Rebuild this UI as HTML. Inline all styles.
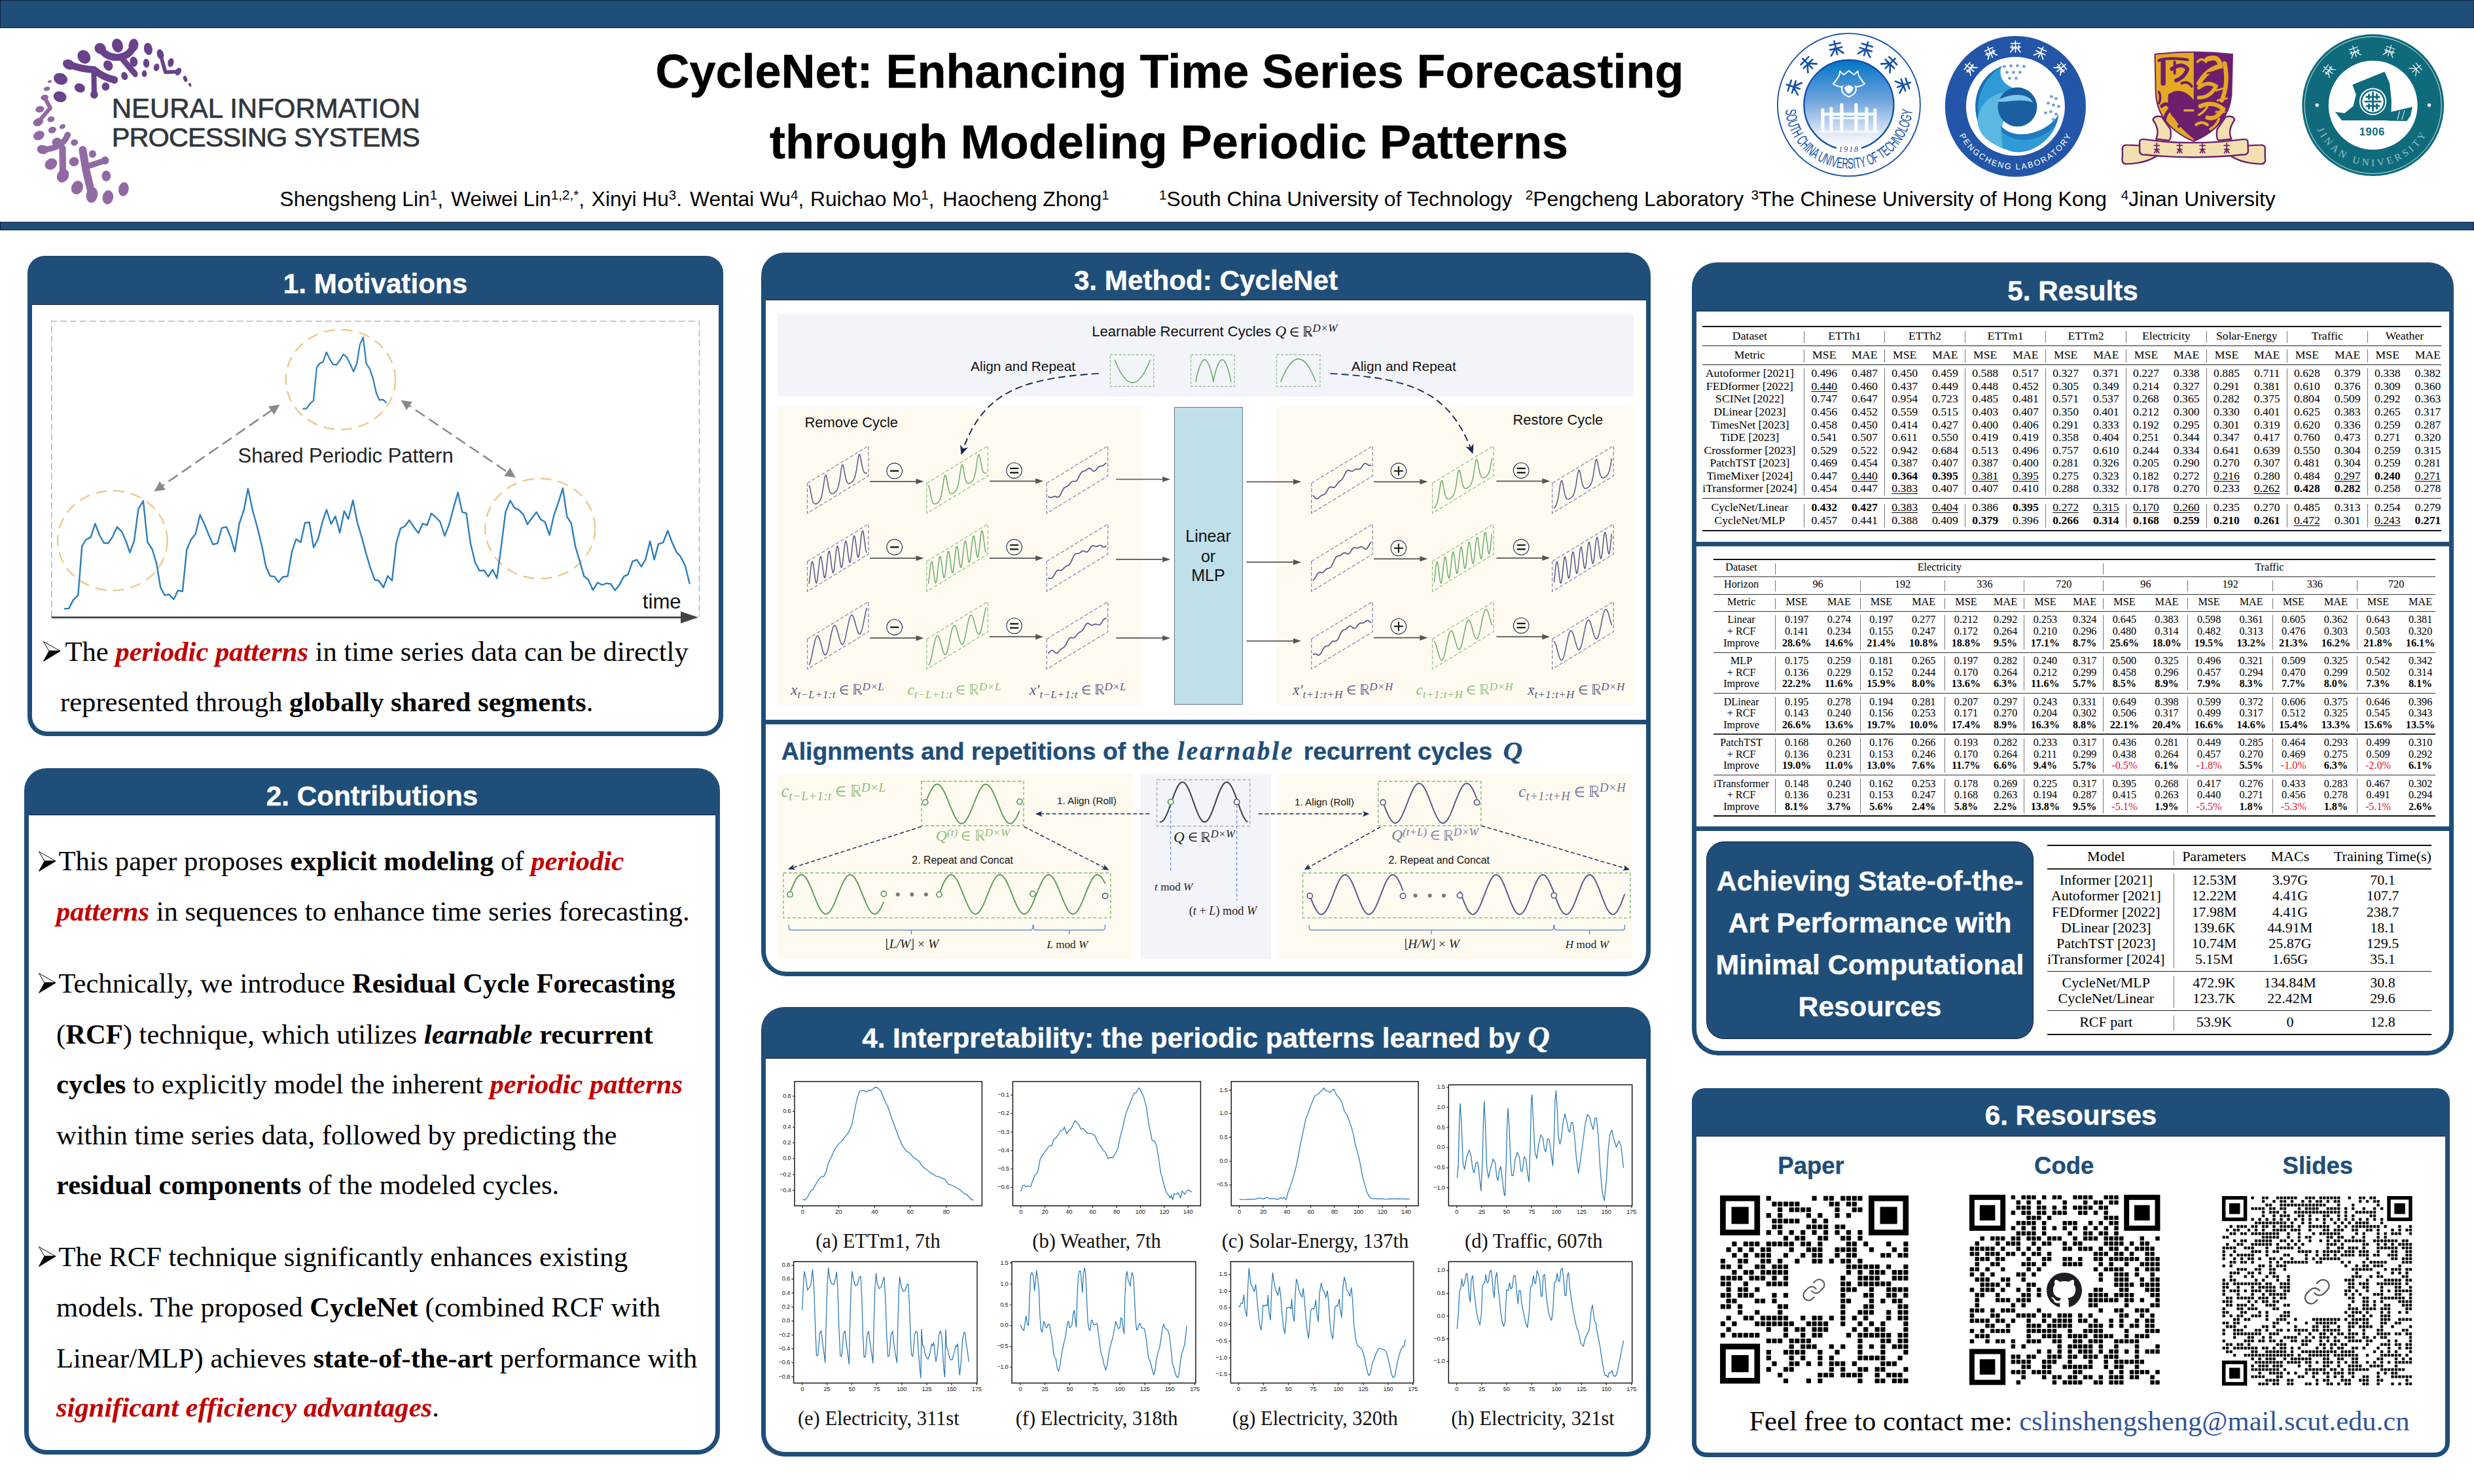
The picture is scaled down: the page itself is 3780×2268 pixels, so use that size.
<!DOCTYPE html>
<html><head><meta charset="utf-8"><title>CycleNet Poster</title>
<style>
html,body{margin:0;padding:0;background:#fff;}
body{width:3780px;height:2268px;position:relative;overflow:hidden;font-family:"Liberation Sans",sans-serif;}
.a{position:absolute;}
.t{position:absolute;white-space:nowrap;line-height:1;}
.ss{font-family:"Liberation Sans",sans-serif;}
.sf{font-family:"Liberation Serif",serif;}
.ac{transform:translateX(-50%);}
.ar{transform:translateX(-100%);}
.r{color:#C00000;}
svg{position:absolute;overflow:visible;}
sup.s{font-size:65%;vertical-align:baseline;position:relative;top:-0.50em;line-height:0}
.col{position:absolute;white-space:nowrap;text-align:center;transform:translateX(-50%);font-family:"Liberation Serif",serif;}
.m{font-family:"Liberation Serif",serif;font-style:italic;line-height:0}
.m sub{font-size:72%;vertical-align:baseline;position:relative;top:.28em;letter-spacing:.02em}
.m sup{font-size:72%;vertical-align:baseline;position:relative;top:-.42em;}
.ob{position:relative;display:inline-block;line-height:1}.ob:before{content:'';position:absolute;left:.12em;right:0;top:.33em;border-top:1.2px solid currentColor}
svg.g{position:static;display:inline-block;overflow:visible;}
.u{text-decoration:underline;text-decoration-thickness:1px;text-underline-offset:2px;}
</style></head>
<body>
<div class="a" style="left:0;top:0;width:3780px;height:43px;background:#1F4E79;box-sizing:border-box;border:1.5px solid #14213f;"></div>
<div class="a" style="left:0;top:339px;width:3780px;height:13px;background:#1F4E79;box-sizing:border-box;border:1.5px solid #14213f;"></div>
<div class="t ss ac" style="left:1787.0px;top:73.0px;font-size:72px;color:#000;font-weight:bold;-webkit-text-stroke:.5px #000;">CycleNet: Enhancing Time Series Forecasting</div>
<div class="t ss ac" style="left:1786.0px;top:180.7px;font-size:72px;color:#000;font-weight:bold;-webkit-text-stroke:.5px #000;">through Modeling Periodic Patterns</div>
<div class="t ss" style="left:427.6px;top:289.2px;font-size:31.7px;color:#000;">Shengsheng Lin<sup class="s">1</sup>,</div>
<div class="t ss" style="left:689.2px;top:289.2px;font-size:31.7px;color:#000;">Weiwei Lin<sup class="s">1,2,*</sup>,</div>
<div class="t ss" style="left:903.8px;top:289.2px;font-size:31.7px;color:#000;">Xinyi Hu<sup class="s">3</sup>.</div>
<div class="t ss" style="left:1054.1px;top:289.2px;font-size:31.7px;color:#000;">Wentai Wu<sup class="s">4</sup>,</div>
<div class="t ss" style="left:1238.1px;top:289.2px;font-size:31.7px;color:#000;">Ruichao Mo<sup class="s">1</sup>,</div>
<div class="t ss" style="left:1440.1px;top:289.2px;font-size:31.7px;color:#000;">Haocheng Zhong<sup class="s">1</sup></div>
<div class="t ss" style="left:1771.0px;top:289.1px;font-size:31.8px;color:#000;"><sup class="s">1</sup>South China University of Technology</div>
<div class="t ss" style="left:2330.8px;top:289.1px;font-size:31.8px;color:#000;"><sup class="s">2</sup>Pengcheng Laboratory</div>
<div class="t ss" style="left:2675.4px;top:289.1px;font-size:31.8px;color:#000;"><sup class="s">3</sup>The Chinese University of Hong Kong</div>
<div class="t ss" style="left:3240.8px;top:289.1px;font-size:31.8px;color:#000;"><sup class="s">4</sup>Jinan University</div>
<div class="a" style="left:42px;top:391px;width:1063px;height:734px;background:#1F4E79;border-radius:26px 26px 30px 30px;"></div>
<div class="a" style="left:49px;top:464.5px;width:1049px;height:1.5px;background:#14213f;"></div>
<div class="a" style="left:49px;top:466px;width:1049px;height:652px;background:#fff;border-radius:0 0 23px 23px;"></div>
<div class="t ss ac" style="left:573.5px;top:412.6px;font-size:42.2px;color:#fff;font-weight:bold;-webkit-text-stroke:.45px #fff;">1. Motivations</div>
<div class="a" style="left:37px;top:1174px;width:1063px;height:1049px;background:#1F4E79;border-radius:34px 34px 34px 34px;"></div>
<div class="a" style="left:44px;top:1244.5px;width:1049px;height:1.5px;background:#14213f;"></div>
<div class="a" style="left:44px;top:1246px;width:1049px;height:970px;background:#fff;border-radius:0 0 27px 27px;"></div>
<div class="t ss ac" style="left:568.5px;top:1196.0px;font-size:42.2px;color:#fff;font-weight:bold;-webkit-text-stroke:.45px #fff;">2. Contributions</div>
<div class="a" style="left:1163px;top:385.5px;width:1359px;height:1106.5px;background:#1F4E79;border-radius:35px 35px 38px 38px;"></div>
<div class="a" style="left:1170px;top:457.5px;width:1345px;height:1.5px;background:#14213f;"></div>
<div class="a" style="left:1170px;top:459px;width:1345px;height:1026px;background:#fff;border-radius:0 0 31px 31px;"></div>
<div class="t ss ac" style="left:1842.5px;top:408.1px;font-size:42.2px;color:#fff;font-weight:bold;-webkit-text-stroke:.45px #fff;">3. Method: CycleNet</div>
<div class="a" style="left:1163px;top:1539px;width:1359px;height:687px;background:#1F4E79;border-radius:35px 35px 35px 35px;"></div>
<div class="a" style="left:1170px;top:1616.5px;width:1345px;height:1.5px;background:#14213f;"></div>
<div class="a" style="left:1170px;top:1618px;width:1345px;height:601px;background:#fff;border-radius:0 0 28px 28px;"></div>
<div class="t ss ac" style="left:1842.5px;top:1566.3px;font-size:42.2px;color:#fff;font-weight:bold;-webkit-text-stroke:.45px #fff;">4. Interpretability: the periodic patterns learned by <span class="sf" style="font-style:italic;font-size:46px;line-height:0">Q</span></div>
<div class="a" style="left:2585px;top:401px;width:1164px;height:1212.4px;background:#1F4E79;border-radius:38px 38px 40px 40px;"></div>
<div class="a" style="left:2592px;top:474.5px;width:1150px;height:1.5px;background:#14213f;"></div>
<div class="a" style="left:2592px;top:476px;width:1150px;height:1130.4px;background:#fff;border-radius:0 0 33px 33px;"></div>
<div class="t ss ac" style="left:3167.0px;top:424.2px;font-size:42.2px;color:#fff;font-weight:bold;-webkit-text-stroke:.45px #fff;">5. Results</div>
<div class="a" style="left:2585px;top:1663px;width:1158px;height:564px;background:#1F4E79;border-radius:20px 20px 22px 22px;"></div>
<div class="a" style="left:2592px;top:1735.5px;width:1144px;height:1.5px;background:#14213f;"></div>
<div class="a" style="left:2592px;top:1737px;width:1144px;height:483px;background:#fff;border-radius:0 0 15px 15px;"></div>
<div class="t ss ac" style="left:3164.0px;top:1684.2px;font-size:42.2px;color:#fff;font-weight:bold;-webkit-text-stroke:.45px #fff;">6. Resourses</div>
<div class="a" style="left:1163px;top:1100px;width:1359px;height:7px;background:#1F4E79"></div>
<div class="a" style="left:2585px;top:828.1px;width:1164px;height:6.8px;background:#1F4E79"></div>
<div class="a" style="left:2585px;top:1263px;width:1164px;height:6.8px;background:#1F4E79"></div>
<svg width="27" height="31" viewBox="0 0 27 31" style="left:65.7px;top:980.4000000000001px"><path d="M0.5 0.5 L26 15 L9 15 Z" fill="#fff" stroke="#000" stroke-width="1"/><path d="M0.5 30.5 L26 15 L9 15 Z" fill="#000" stroke="#000" stroke-width="1"/></svg>
<div class="t sf" style="left:99.5px;top:975.0px;font-size:42.6px;">The <b><i class="r">periodic patterns</i></b> in time series data can be directly</div>
<div class="t sf" style="left:92.0px;top:1052.3px;font-size:42.6px;">represented through <b>globally shared segments</b>.</div>
<svg width="27" height="31" viewBox="0 0 27 31" style="left:58.7px;top:1300.7px"><path d="M0.5 0.5 L26 15 L9 15 Z" fill="#fff" stroke="#000" stroke-width="1"/><path d="M0.5 30.5 L26 15 L9 15 Z" fill="#000" stroke="#000" stroke-width="1"/></svg>
<div class="t sf" style="left:89.5px;top:1295.3px;font-size:42.6px;">This paper proposes <b>explicit modeling</b> of <b><i class="r">periodic</i></b></div>
<div class="t sf" style="left:86.0px;top:1371.7px;font-size:42.6px;"><b><i class="r">patterns</i></b> in sequences to enhance time series forecasting.</div>
<svg width="27" height="31" viewBox="0 0 27 31" style="left:58.7px;top:1487.4px"><path d="M0.5 0.5 L26 15 L9 15 Z" fill="#fff" stroke="#000" stroke-width="1"/><path d="M0.5 30.5 L26 15 L9 15 Z" fill="#000" stroke="#000" stroke-width="1"/></svg>
<div class="t sf" style="left:89.5px;top:1482.0px;font-size:42.6px;">Technically, we introduce <b>Residual Cycle Forecasting</b></div>
<div class="t sf" style="left:86.0px;top:1560.3px;font-size:42.6px;">(<b>RCF</b>) technique, which utilizes <b><i>learnable</i> recurrent</b></div>
<div class="t sf" style="left:86.0px;top:1636.3px;font-size:42.6px;"><b>cycles</b> to explicitly model the inherent <b><i class="r">periodic patterns</i></b></div>
<div class="t sf" style="left:86.0px;top:1713.8px;font-size:42.6px;">within time series data, followed by predicting the</div>
<div class="t sf" style="left:86.0px;top:1790.3px;font-size:42.6px;"><b>residual components</b> of the modeled cycles.</div>
<svg width="27" height="31" viewBox="0 0 27 31" style="left:58.7px;top:1905.4px"><path d="M0.5 0.5 L26 15 L9 15 Z" fill="#fff" stroke="#000" stroke-width="1"/><path d="M0.5 30.5 L26 15 L9 15 Z" fill="#000" stroke="#000" stroke-width="1"/></svg>
<div class="t sf" style="left:89.5px;top:1900.0px;font-size:42.6px;">The RCF technique significantly enhances existing</div>
<div class="t sf" style="left:86.0px;top:1977.3px;font-size:42.6px;">models. The proposed <b>CycleNet</b> (combined RCF with</div>
<div class="t sf" style="left:86.0px;top:2055.3px;font-size:42.6px;">Linear/MLP) achieves <b>state-of-the-art</b> performance with</div>
<div class="t sf" style="left:86.0px;top:2130.3px;font-size:42.6px;"><b><i class="r">significant efficiency advantages</i></b>.</div>
<svg width="300" height="290" viewBox="0 0 1535 1484" style="left:30px;top:40px"><g fill="#68428A" stroke="#68428A" stroke-linecap="round" stroke-linejoin="round"><ellipse cx="765" cy="152" rx="42" ry="55" transform="rotate(-15 765 152)" stroke="none"/><ellipse cx="890" cy="150" rx="38" ry="52" transform="rotate(10 890 150)" stroke="none"/><ellipse cx="1005" cy="178" rx="33" ry="48" transform="rotate(-10 1005 178)" stroke="none"/><ellipse cx="1100" cy="220" rx="26" ry="40" transform="rotate(-15 1100 220)" stroke="none"/><ellipse cx="1182" cy="285" rx="23" ry="35" transform="rotate(10 1182 285)" stroke="none"/><ellipse cx="1295" cy="412" rx="15" ry="25" transform="rotate(-20 1295 412)" stroke="none"/><ellipse cx="1332" cy="458" rx="10" ry="16" transform="rotate(-15 1332 458)" stroke="none"/><ellipse cx="1240" cy="355" rx="22" ry="32" transform="rotate(30 1240 355)" stroke="none"/><ellipse cx="892" cy="278" rx="30" ry="40" transform="rotate(-10 892 278)" stroke="none"/><ellipse cx="990" cy="290" rx="24" ry="35" transform="rotate(-5 990 290)" stroke="none"/><ellipse cx="1070" cy="322" rx="22" ry="30" transform="rotate(15 1070 322)" stroke="none"/><ellipse cx="975" cy="372" rx="20" ry="26" transform="rotate(0 975 372)" stroke="none"/><ellipse cx="820" cy="390" rx="25" ry="32" transform="rotate(-20 820 390)" stroke="none"/><ellipse cx="900" cy="370" rx="22" ry="30" transform="rotate(-20 900 370)" stroke="none"/><ellipse cx="692" cy="308" rx="35" ry="42" transform="rotate(-30 692 308)" stroke="none"/><ellipse cx="503" cy="240" rx="48" ry="56" transform="rotate(-35 503 240)" stroke="none"/><ellipse cx="630" cy="175" rx="45" ry="42" transform="rotate(30 630 175)" stroke="none"/><ellipse cx="385" cy="300" rx="50" ry="38" transform="rotate(25 385 300)" stroke="none"/><ellipse cx="320" cy="412" rx="55" ry="45" transform="rotate(20 320 412)" stroke="none"/><ellipse cx="315" cy="552" rx="52" ry="42" transform="rotate(15 315 552)" stroke="none"/><ellipse cx="470" cy="483" rx="42" ry="35" transform="rotate(20 470 483)" stroke="none"/><ellipse cx="672" cy="472" rx="30" ry="32" transform="rotate(0 672 472)" stroke="none"/><ellipse cx="583" cy="535" rx="30" ry="32" transform="rotate(0 583 535)" stroke="none"/><ellipse cx="740" cy="420" rx="28" ry="30" transform="rotate(0 740 420)" stroke="none"/><path d="M630 175Q690 260 790 240Q870 225 890 150" fill="none" stroke-width="55"/><path d="M790 240L892 362" fill="none" stroke-width="46"/><path d="M385 300Q500 340 580 340Q650 400 740 420" fill="none" stroke-width="55"/><path d="M580 340L583 535" fill="none" stroke-width="41"/><path d="M1100 220L1140 360L1240 355" fill="none" stroke-width="29"/></g><g fill="#916AA3" stroke="#916AA3" stroke-linecap="round" stroke-linejoin="round"><ellipse cx="235" cy="433" rx="16" ry="10" transform="rotate(-15 235 433)" stroke="none"/><ellipse cx="213" cy="490" rx="25" ry="16" transform="rotate(-15 213 490)" stroke="none"/><ellipse cx="195" cy="558" rx="30" ry="22" transform="rotate(-10 195 558)" stroke="none"/><ellipse cx="158" cy="650" rx="35" ry="25" transform="rotate(-15 158 650)" stroke="none"/><ellipse cx="145" cy="750" rx="42" ry="30" transform="rotate(-25 145 750)" stroke="none"/><ellipse cx="245" cy="728" rx="28" ry="22" transform="rotate(-15 245 728)" stroke="none"/><ellipse cx="335" cy="785" rx="24" ry="18" transform="rotate(-25 335 785)" stroke="none"/><ellipse cx="255" cy="812" rx="32" ry="25" transform="rotate(-20 255 812)" stroke="none"/><ellipse cx="150" cy="855" rx="45" ry="35" transform="rotate(-25 150 855)" stroke="none"/><ellipse cx="290" cy="905" rx="38" ry="32" transform="rotate(-25 290 905)" stroke="none"/><ellipse cx="375" cy="852" rx="25" ry="25" transform="rotate(0 375 852)" stroke="none"/><ellipse cx="428" cy="910" rx="28" ry="25" transform="rotate(-10 428 910)" stroke="none"/><ellipse cx="180" cy="965" rx="45" ry="35" transform="rotate(15 180 965)" stroke="none"/><ellipse cx="245" cy="1078" rx="50" ry="42" transform="rotate(-35 245 1078)" stroke="none"/><ellipse cx="425" cy="1060" rx="38" ry="36" transform="rotate(-20 425 1060)" stroke="none"/><ellipse cx="493" cy="968" rx="28" ry="30" transform="rotate(0 493 968)" stroke="none"/><ellipse cx="570" cy="1000" rx="28" ry="30" transform="rotate(0 570 1000)" stroke="none"/><ellipse cx="668" cy="1050" rx="30" ry="32" transform="rotate(0 668 1050)" stroke="none"/><ellipse cx="338" cy="1170" rx="45" ry="55" transform="rotate(30 338 1170)" stroke="none"/><ellipse cx="450" cy="1262" rx="45" ry="55" transform="rotate(25 450 1262)" stroke="none"/><ellipse cx="565" cy="1320" rx="45" ry="62" transform="rotate(10 565 1320)" stroke="none"/><ellipse cx="690" cy="1338" rx="42" ry="55" transform="rotate(10 690 1338)" stroke="none"/><ellipse cx="813" cy="1275" rx="40" ry="55" transform="rotate(10 813 1275)" stroke="none"/><ellipse cx="677" cy="1172" rx="35" ry="42" transform="rotate(0 677 1172)" stroke="none"/><path d="M195 558L240 640L145 750" fill="none" stroke-width="32"/><path d="M180 965Q330 960 375 852" fill="none" stroke-width="46"/><path d="M335 955L338 1170" fill="none" stroke-width="52"/><path d="M493 968L520 1130L565 1320" fill="none" stroke-width="61"/><path d="M520 1100L668 1050" fill="none" stroke-width="46"/></g></svg>
<div class="t ss" style="left:170.7px;top:145.2px;font-size:42px;color:#32363c;-webkit-text-stroke:.7px #32363c;">NEURAL INFORMATION</div>
<div class="t ss" style="left:170.7px;top:189.0px;font-size:41.5px;color:#32363c;letter-spacing:-.9px;-webkit-text-stroke:.7px #32363c;">PROCESSING SYSTEMS</div>
<svg width="3780" height="360" viewBox="0 0 3780 360" style="left:0;top:0"><defs><linearGradient id="sg" x1="0" y1="0" x2="0" y2="1"><stop offset="0" stop-color="#0074C8"/><stop offset=".45" stop-color="#6FA4DC"/><stop offset=".85" stop-color="#E8EEF9"/><stop offset="1" stop-color="#fff"/></linearGradient><path id="sp" d="M2727.4 160.2A97.5 97.5 0 0 0 2922.4 160.2"/></defs><circle cx="2824.9" cy="160.2" r="109" fill="#fff" stroke="#1450A8" stroke-width="1.8"/><circle cx="2824.9" cy="160.2" r="68.5" fill="url(#sg)" stroke="#1450A8" stroke-width="2.4"/><g transform="translate(2824.9 106.19999999999999)" fill="none" stroke="#fff" stroke-width="2"><path d="M-24 22Q-12 8 -14 2L-8 8L0 2L8 8L14 2Q12 8 24 22Q14 28 10 26Q14 36 0 42Q-14 36 -10 26Q-14 28 -24 22z"/><path d="M-6 28Q0 22 6 28Q4 34 0 36Q-4 34 -6 28z" fill="#fff"/></g><g fill="#fff" opacity=".95"><rect x="2782.3" y="170.2" width="5.2" height="32"/><circle cx="2784.9" cy="168.2" r="2.6"/><rect x="2795.3" y="168.2" width="5.2" height="34"/><circle cx="2797.9" cy="166.2" r="2.6"/><rect x="2811.3" y="162.2" width="5.2" height="40"/><circle cx="2813.9" cy="160.2" r="2.6"/><rect x="2833.3" y="162.2" width="5.2" height="40"/><circle cx="2835.9" cy="160.2" r="2.6"/><rect x="2849.3" y="168.2" width="5.2" height="34"/><circle cx="2851.9" cy="166.2" r="2.6"/><rect x="2862.3" y="170.2" width="5.2" height="32"/><circle cx="2864.9" cy="168.2" r="2.6"/><rect x="2782.9" y="172.2" width="84" height="4.5"/><rect x="2794.9" y="179.2" width="60" height="3"/><rect x="2778.9" y="200.2" width="92" height="2.5" opacity=".8"/></g><g transform="translate(2739.8 132.5) rotate(-72)" stroke="#1450A8" stroke-width="2.6" fill="none" stroke-linecap="round"><path d="M-8.4 -5.8H8.4M0 -10.5V10.5M-9.5 1.1H9.5M-1.1 1.1L-9.5 10.5M1.1 1.1L9.5 10.5"/></g><g transform="translate(2761.6 96.9) rotate(-45)" stroke="#1450A8" stroke-width="2.6" fill="none" stroke-linecap="round"><path d="M-8.4 -5.8H8.4M0 -10.5V10.5M-9.5 1.1H9.5M-1.1 1.1L-9.5 10.5M1.1 1.1L9.5 10.5"/></g><g transform="translate(2804.8 73.0) rotate(-13)" stroke="#1450A8" stroke-width="2.6" fill="none" stroke-linecap="round"><path d="M-8.4 -5.8H8.4M0 -10.5V10.5M-9.5 1.1H9.5M-1.1 1.1L-9.5 10.5M1.1 1.1L9.5 10.5"/></g><g transform="translate(2851.1 74.6) rotate(17)" stroke="#1450A8" stroke-width="2.6" fill="none" stroke-linecap="round"><path d="M-8.4 -5.8H8.4M0 -10.5V10.5M-9.5 1.1H9.5M-1.1 1.1L-9.5 10.5M1.1 1.1L9.5 10.5"/></g><g transform="translate(2888.2 96.9) rotate(45)" stroke="#1450A8" stroke-width="2.6" fill="none" stroke-linecap="round"><path d="M-8.4 -5.8H8.4M0 -10.5V10.5M-9.5 1.1H9.5M-1.1 1.1L-9.5 10.5M1.1 1.1L9.5 10.5"/></g><g transform="translate(2909.0 129.6) rotate(70)" stroke="#1450A8" stroke-width="2.6" fill="none" stroke-linecap="round"><path d="M-8.4 -5.8H8.4M0 -10.5V10.5M-9.5 1.1H9.5M-1.1 1.1L-9.5 10.5M1.1 1.1L9.5 10.5"/></g><text font-family="Liberation Sans,sans-serif" font-size="23" fill="#1450A8" textLength="290" lengthAdjust="spacingAndGlyphs"><textPath href="#sp" startOffset="8">SOUTH CHINA UNIVERSITY OF TECHNOLOGY</textPath></text><rect x="2805.9" y="220.2" width="38" height="13" fill="#fff"/><text x="2824.9" y="231.7" text-anchor="middle" font-family="Liberation Serif,serif" font-style="italic" font-size="12.5" fill="#1450A8" letter-spacing="1.6">1918</text></svg>
<svg width="3780" height="360" viewBox="0 0 3780 360" style="left:0;top:0"><defs><path id="pp" d="M2982.9 162.6A96.5 96.5 0 0 0 3175.9 162.6"/><clipPath id="pc"><circle cx="3079.4" cy="162.6" r="75"/></clipPath></defs><circle cx="3079.4" cy="162.6" r="107.6" fill="#2356A8"/><circle cx="3079.4" cy="162.6" r="75.5" fill="#fff"/><g clip-path="url(#pc)"><path d="M3059.4 100.6C3004.4 122.6 3004.4 202.6 3059.4 226.6C3024.4 182.6 3029.4 142.6 3059.4 100.6z" fill="#1C6FB5"/><path d="M3057.4 102.6C3009.4 132.6 3009.4 207.6 3064.4 228.6C3039.4 192.6 3051.4 157.6 3107.4 154.6C3094.4 134.6 3049.4 137.6 3057.4 102.6z" fill="#2F9BD6"/><path d="M3021.4 182.6C3029.4 132.6 3089.4 132.6 3109.4 152.6C3069.4 150.6 3049.4 192.6 3061.4 226.6C3034.4 217.6 3021.4 202.6 3021.4 182.6z" fill="#5BB8E2"/><circle cx="3082.4" cy="163.6" r="30" fill="#1A5FA0"/><path d="M3049.4 154.6C3074.4 140.6 3099.4 142.6 3106.4 156.6C3084.4 148.6 3064.4 158.6 3049.4 154.6z" fill="#7CC8EA"/><path d="M3057.4 192.6C3079.4 217.6 3129.4 202.6 3145.4 174.6C3141.4 217.6 3089.4 247.6 3059.4 224.6z" fill="#1F7AC0"/><path d="M3057.4 200.6C3084.4 224.6 3124.4 212.6 3141.4 190.6C3129.4 224.6 3084.4 242.6 3059.4 224.6z" fill="#2F9BD6"/></g><g fill="#6F9FDB"><circle cx="3062.4" cy="101.6" r="2.4"/><circle cx="3072.4" cy="100.6" r="2.4"/><circle cx="3082.4" cy="100.6" r="2.4"/><circle cx="3092.4" cy="101.6" r="2.4"/><circle cx="3066.4" cy="110.6" r="2.4"/><circle cx="3076.4" cy="110.6" r="2.4"/><circle cx="3086.4" cy="110.6" r="2.4"/><circle cx="3070.4" cy="119.6" r="2.4"/><circle cx="3080.4" cy="119.6" r="2.4"/><circle cx="3134.4" cy="147.6" r="2.4"/><circle cx="3141.4" cy="150.6" r="2.4"/><circle cx="3129.4" cy="157.6" r="2.4"/><circle cx="3137.4" cy="160.6" r="2.4"/><circle cx="3145.4" cy="162.6" r="2.4"/><circle cx="3133.4" cy="170.6" r="2.4"/><circle cx="3141.4" cy="174.6" r="2.4"/><circle cx="3125.4" cy="172.6" r="2.4"/><circle cx="3137.4" cy="182.6" r="2.4"/></g><g transform="translate(3009.3 103.8) rotate(-50)" stroke="#fff" stroke-width="1.7" fill="none" stroke-linecap="round"><path d="M-6.8 -4.7H6.8M0 -8.5V8.5M-7.7 0.9H7.7M-0.9 0.9L-7.7 8.5M0.9 0.9L7.7 8.5M-5.1 -1.7V5.1M5.1 -1.7V4.2"/></g><g transform="translate(3040.7 79.7) rotate(-25)" stroke="#fff" stroke-width="1.7" fill="none" stroke-linecap="round"><path d="M-6.8 -4.7H6.8M0 -8.5V8.5M-7.7 0.9H7.7M-0.9 0.9L-7.7 8.5M0.9 0.9L7.7 8.5M-5.1 -1.7V5.1M5.1 -1.7V4.2"/></g><g transform="translate(3079.4 71.1) rotate(0)" stroke="#fff" stroke-width="1.7" fill="none" stroke-linecap="round"><path d="M-6.8 -4.7H6.8M0 -8.5V8.5M-7.7 0.9H7.7M-0.9 0.9L-7.7 8.5M0.9 0.9L7.7 8.5M-5.1 -1.7V5.1M5.1 -1.7V4.2"/></g><g transform="translate(3118.1 79.7) rotate(25)" stroke="#fff" stroke-width="1.7" fill="none" stroke-linecap="round"><path d="M-6.8 -4.7H6.8M0 -8.5V8.5M-7.7 0.9H7.7M-0.9 0.9L-7.7 8.5M0.9 0.9L7.7 8.5"/></g><g transform="translate(3149.5 103.8) rotate(50)" stroke="#fff" stroke-width="1.7" fill="none" stroke-linecap="round"><path d="M-6.8 -4.7H6.8M0 -8.5V8.5M-7.7 0.9H7.7M-0.9 0.9L-7.7 8.5M0.9 0.9L7.7 8.5M-5.1 -1.7V5.1M5.1 -1.7V4.2"/></g><text font-family="Liberation Sans,sans-serif" font-size="12.6" fill="#fff" letter-spacing="2.1"><textPath href="#pp" startOffset="46">PENGCHENG LABORATORY</textPath></text></svg>
<svg width="540" height="250" viewBox="0 0 2474 1145" style="left:3220px;top:40px"><path d="M318 655Q330 620 380 635L440 720Q450 790 430 800L340 790Q370 730 318 655z" stroke="#6D1F6E" stroke-width="11" fill="#F3E0B0" stroke-linejoin="round"/><path d="M890 655Q878 620 828 635L768 720Q758 790 778 800L868 790Q838 730 890 655z" stroke="#6D1F6E" stroke-width="11" fill="#F3E0B0" stroke-linejoin="round"/><path d="M105 850Q110 830 140 832L330 840L380 880Q300 960 130 965Q95 960 105 920z" stroke="#6D1F6E" stroke-width="11" fill="#F3E0B0" stroke-linejoin="round"/><path d="M1103 850Q1098 830 1068 832L878 840L828 880Q908 960 1078 965Q1113 960 1103 920z" stroke="#6D1F6E" stroke-width="11" fill="#F3E0B0" stroke-linejoin="round"/><path d="M225 805Q230 790 255 792Q600 840 950 792Q978 790 982 805L985 880Q975 905 940 900Q600 935 265 900Q232 905 225 880z" stroke="#6D1F6E" stroke-width="11" fill="#F3E0B0" stroke-linejoin="round"/><clipPath id="cs"><path d="M332 197Q603 165 875 197L868 480Q850 700 603 806Q356 700 338 480z"/></clipPath><g clip-path="url(#cs)"><rect x="300" y="150" width="303" height="700" fill="#E5A823"/><rect x="603" y="150" width="300" height="700" fill="#6D1F6E"/><g fill="none" stroke="#6D1F6E" stroke-linecap="round"><path d="M360 240Q420 215 560 235" stroke-width="20"/><path d="M470 250V330" stroke-width="18"/><path d="M520 400Q560 380 590 420" stroke-width="18"/><path d="M360 460Q380 500 360 540" stroke-width="16"/><path d="M390 250V400" stroke-width="34"/><path d="M450 300Q520 250 560 300Q540 360 480 380" stroke-width="26"/><path d="M430 480Q520 420 600 520L600 780Q520 720 470 640Q420 600 430 480z" fill="#6D1F6E" stroke-width="10"/><path d="M380 560Q420 520 440 580Q400 620 400 660" stroke-width="24"/><path d="M500 700Q540 660 580 700" stroke-width="22"/><path d="M540 590H600" stroke-width="16" stroke="#E5A823"/></g><g fill="none" stroke="#E5A823" stroke-linecap="round"><path d="M630 250Q660 215 690 250" stroke-width="16"/><path d="M760 450L830 430M770 520L835 505M760 600L820 600" stroke-width="14"/><path d="M640 620Q680 600 700 560" stroke-width="16"/><path d="M720 720Q760 700 780 650" stroke-width="18"/><path d="M700 230Q780 200 790 280Q700 300 640 400" stroke-width="34"/><path d="M820 260Q850 400 800 520" stroke-width="30"/><path d="M640 430Q700 380 760 420Q720 500 640 500" stroke-width="26"/><path d="M650 560Q740 520 810 580Q760 660 700 640" stroke-width="30"/><path d="M620 690Q660 660 700 690" stroke-width="20"/><path d="M700 330L780 310M690 380L770 370" stroke-width="12" stroke="#6D1F6E"/></g></g><path d="M332 197Q603 165 875 197L868 480Q850 700 603 806Q356 700 338 480z" fill="none" stroke="#6D1F6E" stroke-width="9"/><path d="M323 835H367M345 815V890M325 862H365M327 890L341 865M363 890L349 865" stroke="#6D1F6E" stroke-width="8" fill="none"/><path d="M483 835H527M505 815V890M485 862H525M487 890L501 865M523 890L509 865" stroke="#6D1F6E" stroke-width="8" fill="none"/><path d="M643 835H687M665 815V890M645 862H685M647 890L661 865M683 890L669 865" stroke="#6D1F6E" stroke-width="8" fill="none"/><path d="M813 835H857M835 815V890M815 862H855M817 890L831 865M853 890L839 865" stroke="#6D1F6E" stroke-width="8" fill="none"/></svg>
<svg width="3780" height="360" viewBox="0 0 3780 360" style="left:0;top:0"><defs><path id="jp" d="M3532.7 160.7A93 93 0 0 0 3718.7 160.7"/></defs><circle cx="3625.7" cy="160.7" r="108.4" fill="#0F6B7C"/><circle cx="3625.7" cy="160.7" r="104.6" fill="none" stroke="#fff" stroke-width=".8"/><circle cx="3625.7" cy="160.7" r="68" fill="#fff"/><polygon points="3594.3,129.5 3643.4,109.4 3651.1,127.3 3653.9,153.5 3653.3,184.1 3578.0,184.1 3567.7,171.0 3582.3,173.1 3595.4,162.2 3599.8,144.8" fill="#0F6B7C"/><polygon points="3653.3,171.0 3686.0,163.3 3682.7,177.5 3677.3,185.1 3647.8,184.5" fill="#0F6B7C"/><path d="M3663.1 183.0L3666.4 169.9M3669.6 183.0L3674.0 168.8" stroke="#fff" stroke-width="1"/><circle cx="3625.5" cy="155.2" r="20.7" fill="#fff"/><g stroke="#0F6B7C" fill="none"><circle cx="3625.5" cy="155.2" r="17.5" stroke-width="2.6"/><path d="M3625.5 140.2V170.2M3614.5 148.2H3636.5M3612.5 155.2H3638.5M3614.5 162.2H3636.5M3619.5 143.2V152.2M3631.5 143.2V152.2M3619.5 158.2V167.2M3631.5 158.2V167.2" stroke-width="2.8"/></g><text x="3624.2" y="207.0" text-anchor="middle" font-family="Liberation Sans,sans-serif" font-weight="bold" font-size="16.5" fill="#0F6B7C" letter-spacing=".6">1906</text><circle cx="3540.2" cy="160.7" r="2.6" fill="#fff"/><circle cx="3711.5" cy="160.7" r="2.6" fill="#fff"/><g transform="translate(3557.1 107.1) rotate(-52)" stroke="#fff" stroke-width="1.2" fill="none" stroke-linecap="round"><path d="M-6.8 -4.7H6.8M0 -8.5V8.5M-7.7 0.9H7.7M-0.9 0.9L-7.7 8.5M0.9 0.9L7.7 8.5M-5.1 -1.7V5.1M5.1 -1.7V4.2"/></g><g transform="translate(3597.4 78.4) rotate(-19)" stroke="#fff" stroke-width="1.2" fill="none" stroke-linecap="round"><path d="M-6.8 -4.7H6.8M0 -8.5V8.5M-7.7 0.9H7.7M-0.9 0.9L-7.7 8.5M0.9 0.9L7.7 8.5M-5.1 -1.7V5.1M5.1 -1.7V4.2"/></g><g transform="translate(3651.1 77.5) rotate(17)" stroke="#fff" stroke-width="1.2" fill="none" stroke-linecap="round"><path d="M-6.8 -4.7H6.8M0 -8.5V8.5M-7.7 0.9H7.7M-0.9 0.9L-7.7 8.5M0.9 0.9L7.7 8.5M-5.1 -1.7V5.1M5.1 -1.7V4.2"/></g><g transform="translate(3692.3 104.8) rotate(50)" stroke="#fff" stroke-width="1.2" fill="none" stroke-linecap="round"><path d="M-6.8 -4.7H6.8M0 -8.5V8.5M-7.7 0.9H7.7M-0.9 0.9L-7.7 8.5M0.9 0.9L7.7 8.5"/></g><text font-family="Liberation Serif,serif" font-size="15" fill="#fff" letter-spacing="4.6" opacity=".55" style="font-weight:normal"><textPath href="#jp" startOffset="38">JINAN UNIVERSITY</textPath></text></svg>
<svg width="3780" height="2268" viewBox="0 0 3780 2268" style="left:0;top:0"><defs><marker id="ag" viewBox="0 0 10 10" refX="9" refY="5" markerWidth="7" markerHeight="6" orient="auto-start-reverse"><path d="M0 0L10 5L0 10z" fill="#8a8a8a"/></marker></defs><path d="M78.8 943 V491 H1068.5 V943" fill="none" stroke="#b8b8b8" stroke-width="1.6" stroke-dasharray="10 5"/><path d="M78.8 943.6 H1052" stroke="#444" stroke-width="2.6" fill="none"/><path d="M1067 943.6 L1040 934.5 L1040 952.7z" fill="#444"/><ellipse cx="520.4" cy="580.1" rx="83.7" ry="76.3" fill="none" stroke="#EBC57F" stroke-width="2.2" stroke-dasharray="17 10"/><ellipse cx="171.9" cy="826.2" rx="83.8" ry="76.2" fill="none" stroke="#EBC57F" stroke-width="2.2" stroke-dasharray="17 10"/><ellipse cx="825.2" cy="807.8" rx="84" ry="76.5" fill="none" stroke="#EBC57F" stroke-width="2.2" stroke-dasharray="17 10"/><path d="M237 750 L426 619.5" stroke="#8a8a8a" stroke-width="2.6" stroke-dasharray="17 8" fill="none" marker-start="url(#ag)" marker-end="url(#ag)"/><path d="M614 612.5 L786.5 729" stroke="#8a8a8a" stroke-width="2.6" stroke-dasharray="17 8" fill="none" marker-start="url(#ag)" marker-end="url(#ag)"/><polyline points="97.8,930.4 105.3,929.9 111.8,917.1 119.3,909.6 125.3,834.6 131.1,825.0 138.6,821.1 145.4,800.3 152.5,819.0 158.9,829.7 165.3,830.3 171.8,820.7 178.8,805.3 185.7,812.1 192.1,826.0 198.5,844.3 205.0,826.7 211.4,777.8 218.9,765.4 225.3,828.2 232.8,840.0 239.2,861.4 245.2,897.8 251.7,909.6 258.5,908.5 265.4,916.0 271.8,902.5 278.9,903.8 285.3,840.0 291.7,825.0 298.8,816.0 305.6,786.8 312.1,800.3 318.5,816.4 325.4,832.0 332.4,830.3 338.9,806.8 345.9,805.3 352.3,820.7 358.8,843.2 365.6,800.3 372.5,780.0 378.9,746.8 386.0,780.0 393.1,805.7 399.9,833.5 406.3,865.7 412.8,880.2 419.2,881.1 425.6,889.7 432.0,881.7 439.5,880.7 446.0,843.2 452.4,823.9 459.5,828.8 465.9,799.3 472.7,798.2 479.2,836.8 486.0,823.9 492.5,798.2 498.9,778.9 505.9,801.0 512.4,789.0 519.2,814.3 525.9,781.1 532.3,793.3 539.2,764.6 546.0,798.8 553.1,822.4 559.5,846.4 565.9,867.8 572.4,886.0 578.8,887.5 585.9,897.8 592.3,880.2 599.0,887.5 605.4,830.3 611.9,807.8 618.9,804.0 625.3,795.0 632.4,805.7 639.3,814.7 645.7,800.3 652.6,802.5 659.0,784.7 666.0,790.7 672.5,797.5 679.5,819.0 686.4,801.0 692.8,776.8 699.7,752.6 706.1,782.6 712.5,784.3 719.0,831.0 726.0,859.7 732.5,872.1 739.5,871.7 746.0,881.1 752.8,870.4 759.2,883.9 765.7,835.7 772.5,782.1 779.6,765.0 786.0,776.1 793.1,779.6 799.5,786.4 805.9,801.4 812.8,791.8 819.6,782.6 826.1,793.9 832.5,797.5 839.6,817.5 846.0,788.6 853.1,768.2 859.9,746.1 866.3,789.6 872.8,799.7 879.2,835.7 885.6,857.1 892.5,881.1 898.9,886.0 906.0,901.7 913.1,890.3 919.9,894.0 926.8,891.4 933.2,892.5 939.6,902.1 946.0,894.6 953.1,881.1 959.5,878.1 966.4,858.2 973.0,855.4 979.9,866.1 986.3,855.0 993.2,827.1 999.6,855.4 1006.0,831.4 1013.1,829.3 1020.2,811.0 1027.0,829.3 1033.4,843.2 1039.9,850.7 1046.7,864.0 1053.8,892.5" fill="none" stroke="#2D7DB9" stroke-width="2.4" stroke-linejoin="round"/><polyline points="462.6,624.9 468.5,624.4 473.7,616.6 478.9,612.5 484.0,561.5 488.4,555.5 493.6,553.0 498.8,538.2 504.0,549.3 509.1,557.1 514.3,557.6 519.5,550.4 524.7,541.6 529.8,546.0 535.0,556.3 540.2,568.0 545.4,555.0 549.8,526.6 554.9,515.7 559.6,555.5 564.8,563.3 569.9,578.3 575.1,601.6 579.8,611.4 584.9,610.6 590.6,615.8" fill="none" stroke="#2D7DB9" stroke-width="2.2" stroke-linejoin="round"/></svg>
<div class="t ss" style="left:363.5px;top:680.9px;font-size:31px;color:#222;">Shared Periodic Pattern</div>
<div class="t ss" style="left:981.8px;top:903.9px;font-size:31.2px;color:#111;">time</div>
<div class="a" style="left:1188px;top:480.2px;width:1308.3px;height:126.3px;background:#F3F4FA"></div>
<div class="a" style="left:1188px;top:621.6px;width:556.8px;height:455.6px;background:#FEFAF0"></div>
<div class="a" style="left:1950px;top:621.6px;width:546.5px;height:455.6px;background:#FEFAF0"></div>
<div class="a" style="left:1793.8px;top:621.6px;width:105px;height:455.6px;background:#BFDFE9;box-sizing:border-box;border:1.6px solid #6a7690"></div>
<svg width="3780" height="2268" viewBox="0 0 3780 2268" style="left:0;top:0"><defs><marker id="an" viewBox="0 0 10 10" refX="8" refY="5" markerWidth="7.5" markerHeight="7.5" orient="auto"><path d="M0 0.5L10 5L0 9.5L2.8 5z" fill="#1a2a52"/></marker></defs><rect x="1696.4" y="542" width="66.4" height="48.5" fill="none" stroke="#93c58f" stroke-width="1.4" stroke-dasharray="4 2.6"/><rect x="1819.6" y="542" width="66.4" height="48.5" fill="none" stroke="#93c58f" stroke-width="1.4" stroke-dasharray="4 2.6"/><rect x="1950.4" y="542" width="66.4" height="48.5" fill="none" stroke="#93c58f" stroke-width="1.4" stroke-dasharray="4 2.6"/><path d="M1703.2 549.8 Q1730.3 620 1757.5 549.8" fill="none" stroke="#6aae6a" stroke-width="1.6"/><path d="M1827.1 583.8 C1836 545 1842 535 1850.6 583.8 C1857 598 1861 535 1867.2 549.8 C1872 552 1877 570 1880.8 583.8" fill="none" stroke="#6aae6a" stroke-width="1.6" style="display:none"/><polyline points="1827.1,583.8 1828.0,578.2 1828.9,574.1 1829.8,570.5 1830.7,567.2 1831.6,564.3 1832.5,561.6 1833.4,559.1 1834.3,557.0 1835.2,555.1 1836.0,553.5 1836.9,552.2 1837.8,551.1 1838.7,550.4 1839.6,549.9 1840.5,549.8 1841.4,549.9 1842.3,550.4 1843.2,551.1 1844.1,552.2 1845.0,553.5 1845.9,555.1 1846.8,557.0 1847.7,559.1 1848.6,561.6 1849.5,564.3 1850.4,567.2 1851.3,570.5 1852.2,574.1 1853.1,578.2 1853.9,583.8 1854.8,578.2 1855.7,574.1 1856.6,570.5 1857.5,567.2 1858.4,564.3 1859.3,561.6 1860.2,559.1 1861.1,557.0 1862.0,555.1 1862.9,553.5 1863.8,552.2 1864.7,551.1 1865.6,550.4 1866.5,549.9 1867.4,549.8 1868.3,549.9 1869.2,550.4 1870.1,551.1 1871.0,552.2 1871.8,553.5 1872.7,555.1 1873.6,557.0 1874.5,559.1 1875.4,561.6 1876.3,564.3 1877.2,567.2 1878.1,570.5 1879.0,574.1 1879.9,578.2 1880.8,583.8" fill="none" stroke="#6aae6a" stroke-width="1.6" stroke-linejoin="round"/><path d="M1956.8 583.8 Q1984 513.5 2010.5 583.8" fill="none" stroke="#6aae6a" stroke-width="1.6"/><path d="M1678.7 570.9 C1560 578 1500 600 1469.5 692.5" fill="none" stroke="#1a2a52" stroke-width="1.9" stroke-dasharray="11 6" marker-end="url(#an)"/><path d="M2032.5 570.9 C2160 578 2215 600 2249.5 691" fill="none" stroke="#1a2a52" stroke-width="1.9" stroke-dasharray="11 6" marker-end="url(#an)"/><path d="M1233.5 738.5 L1327.0 681.4 V727.4 L1233.5 784.5z" fill="none" stroke="#8a8ab4" stroke-width="1.3" stroke-dasharray="5.5 3"/><polyline points="1236.3,741.8 1237.0,743.4 1237.8,746.4 1238.5,750.3 1239.2,754.5 1240.0,758.5 1240.7,762.0 1241.4,764.8 1242.2,766.9 1242.9,768.4 1243.6,769.3 1244.4,769.9 1245.1,770.1 1245.8,770.2 1246.6,770.1 1247.3,769.8 1248.0,769.5 1248.8,769.1 1249.5,768.6 1250.2,768.0 1251.0,767.3 1251.7,766.5 1252.4,765.6 1253.2,764.4 1253.9,762.8 1254.6,760.9 1255.3,758.4 1256.1,755.3 1256.8,751.5 1257.5,747.1 1258.3,742.1 1259.0,737.0 1259.7,732.3 1260.5,728.6 1261.2,726.4 1261.9,726.0 1262.7,727.4 1263.4,730.3 1264.1,734.2 1264.9,738.4 1265.6,742.4 1266.3,746.0 1267.1,748.8 1267.8,751.0 1268.5,752.5 1269.3,753.5 1270.0,754.1 1270.7,754.4 1271.5,754.5 1272.2,754.4 1272.9,754.2 1273.7,753.8 1274.4,753.4 1275.1,752.9 1275.9,752.4 1276.6,751.7 1277.3,750.9 1278.1,750.0 1278.8,748.8 1279.5,747.3 1280.2,745.4 1281.0,743.0 1281.7,740.0 1282.4,736.3 1283.2,731.9 1283.9,726.9 1284.6,721.8 1285.4,717.1 1286.1,713.2 1286.8,710.8 1287.6,710.2 1288.3,711.5 1289.0,714.3 1289.8,718.0 1290.5,722.2 1291.2,726.3 1292.0,729.9 1292.7,732.8 1293.4,735.1 1294.2,736.7 1294.9,737.7 1295.6,738.4 1296.4,738.7 1297.1,738.8 1297.8,738.7 1298.6,738.5 1299.3,738.2 1300.0,737.8 1300.8,737.3 1301.5,736.7 1302.2,736.1 1303.0,735.3 1303.7,734.4 1304.4,733.2 1305.2,731.8 1305.9,730.0 1306.6,727.6 1307.3,724.7 1308.1,721.0 1308.8,716.7 1309.5,711.8 1310.3,706.7 1311.0,701.8 1311.7,697.9 1312.5,695.3 1313.2,694.5 1313.9,695.6 1314.7,698.2 1315.4,701.9 1316.1,706.1 1316.9,710.2 1317.6,713.9 1318.3,716.9 1319.1,719.2 1319.8,720.8 1320.5,721.9 1321.3,722.6 1322.0,723.0 1322.7,723.1 1323.5,723.0 1324.2,722.8" fill="none" stroke="#54548a" stroke-width="1.5" stroke-linejoin="round" stroke-linecap="round"/><path d="M1415.9 738.5 L1509.4 681.4 V727.4 L1415.9 784.5z" fill="none" stroke="#93c58f" stroke-width="1.3" stroke-dasharray="5.5 3"/><polyline points="1418.7,741.8 1419.4,743.4 1420.2,746.4 1420.9,750.3 1421.6,754.5 1422.4,758.5 1423.1,762.0 1423.8,764.8 1424.6,766.9 1425.3,768.4 1426.0,769.3 1426.8,769.9 1427.5,770.1 1428.2,770.2 1429.0,770.1 1429.7,769.8 1430.4,769.5 1431.2,769.1 1431.9,768.6 1432.6,768.0 1433.4,767.3 1434.1,766.5 1434.8,765.6 1435.6,764.4 1436.3,762.8 1437.0,760.9 1437.7,758.4 1438.5,755.3 1439.2,751.5 1439.9,747.1 1440.7,742.1 1441.4,737.0 1442.1,732.3 1442.9,728.6 1443.6,726.4 1444.3,726.0 1445.1,727.4 1445.8,730.3 1446.5,734.2 1447.3,738.4 1448.0,742.4 1448.7,746.0 1449.5,748.8 1450.2,751.0 1450.9,752.5 1451.7,753.5 1452.4,754.1 1453.1,754.4 1453.9,754.5 1454.6,754.4 1455.3,754.2 1456.1,753.8 1456.8,753.4 1457.5,752.9 1458.3,752.4 1459.0,751.7 1459.7,750.9 1460.5,750.0 1461.2,748.8 1461.9,747.3 1462.7,745.4 1463.4,743.0 1464.1,740.0 1464.8,736.3 1465.6,731.9 1466.3,726.9 1467.0,721.8 1467.8,717.1 1468.5,713.2 1469.2,710.8 1470.0,710.2 1470.7,711.5 1471.4,714.3 1472.2,718.0 1472.9,722.2 1473.6,726.3 1474.4,729.9 1475.1,732.8 1475.8,735.1 1476.6,736.7 1477.3,737.7 1478.0,738.4 1478.8,738.7 1479.5,738.8 1480.2,738.7 1481.0,738.5 1481.7,738.2 1482.4,737.8 1483.2,737.3 1483.9,736.7 1484.6,736.1 1485.4,735.3 1486.1,734.4 1486.8,733.2 1487.6,731.8 1488.3,730.0 1489.0,727.6 1489.7,724.7 1490.5,721.0 1491.2,716.7 1491.9,711.8 1492.7,706.7 1493.4,701.8 1494.1,697.9 1494.9,695.3 1495.6,694.5 1496.3,695.6 1497.1,698.2 1497.8,701.9 1498.5,706.1 1499.3,710.2 1500.0,713.9 1500.7,716.9 1501.5,719.2 1502.2,720.8 1502.9,721.9 1503.7,722.6 1504.4,723.0 1505.1,723.1 1505.9,723.0 1506.6,722.8" fill="none" stroke="#6aae6a" stroke-width="1.5" stroke-linejoin="round" stroke-linecap="round"/><path d="M1599.2 738.5 L1692.7 681.4 V727.4 L1599.2 784.5z" fill="none" stroke="#8a8ab4" stroke-width="1.3" stroke-dasharray="5.5 3"/><polyline points="1602.0,759.2 1602.7,759.6 1603.5,760.0 1604.2,760.3 1604.9,760.4 1605.7,760.5 1606.4,760.3 1607.1,760.1 1607.9,759.8 1608.6,759.4 1609.3,759.0 1610.1,758.8 1610.8,758.6 1611.5,758.5 1612.3,758.6 1613.0,758.8 1613.7,759.1 1614.5,759.4 1615.2,759.6 1615.9,759.8 1616.7,759.8 1617.4,759.5 1618.1,759.0 1618.9,758.3 1619.6,757.2 1620.3,756.0 1621.0,754.5 1621.8,753.0 1622.5,751.5 1623.2,750.0 1624.0,748.6 1624.7,747.4 1625.4,746.3 1626.2,745.5 1626.9,744.9 1627.6,744.5 1628.4,744.1 1629.1,743.8 1629.8,743.6 1630.6,743.2 1631.3,742.8 1632.0,742.2 1632.8,741.5 1633.5,740.7 1634.2,739.8 1635.0,738.9 1635.7,738.0 1636.4,737.2 1637.2,736.5 1637.9,736.0 1638.6,735.7 1639.4,735.5 1640.1,735.5 1640.8,735.6 1641.6,735.7 1642.3,735.7 1643.0,735.7 1643.8,735.5 1644.5,735.0 1645.2,734.3 1646.0,733.4 1646.7,732.2 1647.4,730.9 1648.1,729.4 1648.9,727.9 1649.6,726.4 1650.3,725.0 1651.1,723.7 1651.8,722.7 1652.5,721.8 1653.3,721.2 1654.0,720.7 1654.7,720.4 1655.5,720.2 1656.2,720.0 1656.9,719.8 1657.7,719.6 1658.4,719.3 1659.1,718.8 1659.9,718.3 1660.6,717.7 1661.3,717.1 1662.1,716.5 1662.8,716.1 1663.5,715.8 1664.3,715.6 1665.0,715.7 1665.7,716.0 1666.5,716.4 1667.2,717.1 1667.9,717.8 1668.7,718.5 1669.4,719.2 1670.1,719.7 1670.9,720.0 1671.6,720.2 1672.3,720.0 1673.0,719.6 1673.8,719.0 1674.5,718.2 1675.2,717.3 1676.0,716.3 1676.7,715.4 1677.4,714.5 1678.2,713.8 1678.9,713.2 1679.6,712.8 1680.4,712.6 1681.1,712.5 1681.8,712.4 1682.6,712.4 1683.3,712.3 1684.0,712.2 1684.8,711.9 1685.5,711.5 1686.2,710.9 1687.0,710.3 1687.7,709.6 1688.4,708.9 1689.2,708.2 1689.9,707.7" fill="none" stroke="#54548a" stroke-width="1.7" stroke-linejoin="round" stroke-linecap="round"/><path d="M2003.7 738.5 L2097.2 681.4 V727.4 L2003.7 784.5z" fill="none" stroke="#8a8ab4" stroke-width="1.3" stroke-dasharray="5.5 3"/><polyline points="2006.5,757.7 2007.2,758.4 2008.0,759.2 2008.7,760.0 2009.4,760.8 2010.2,761.5 2010.9,762.0 2011.6,762.3 2012.4,762.3 2013.1,762.1 2013.8,761.7 2014.6,761.2 2015.3,760.5 2016.0,759.7 2016.8,759.0 2017.5,758.3 2018.2,757.8 2019.0,757.3 2019.7,756.9 2020.4,756.7 2021.2,756.4 2021.9,756.2 2022.6,755.9 2023.4,755.5 2024.1,754.9 2024.8,754.2 2025.5,753.3 2026.3,752.2 2027.0,751.0 2027.7,749.8 2028.5,748.5 2029.2,747.3 2029.9,746.2 2030.7,745.4 2031.4,744.7 2032.1,744.3 2032.9,744.1 2033.6,744.2 2034.3,744.4 2035.1,744.6 2035.8,744.9 2036.5,745.1 2037.3,745.2 2038.0,745.1 2038.7,744.9 2039.5,744.3 2040.2,743.6 2040.9,742.7 2041.7,741.7 2042.4,740.7 2043.1,739.6 2043.9,738.6 2044.6,737.6 2045.3,736.8 2046.1,736.1 2046.8,735.5 2047.5,735.0 2048.3,734.4 2049.0,733.9 2049.7,733.3 2050.4,732.5 2051.2,731.5 2051.9,730.4 2052.6,729.1 2053.4,727.7 2054.1,726.2 2054.8,724.7 2055.6,723.2 2056.3,721.8 2057.0,720.7 2057.8,719.7 2058.5,719.1 2059.2,718.7 2060.0,718.6 2060.7,718.7 2061.4,718.9 2062.2,719.3 2062.9,719.7 2063.6,720.0 2064.4,720.2 2065.1,720.3 2065.8,720.2 2066.6,720.0 2067.3,719.6 2068.0,719.1 2068.8,718.6 2069.5,718.1 2070.2,717.6 2071.0,717.2 2071.7,717.0 2072.4,716.9 2073.2,716.9 2073.9,717.0 2074.6,717.1 2075.4,717.2 2076.1,717.2 2076.8,717.1 2077.5,716.9 2078.3,716.4 2079.0,715.7 2079.7,714.8 2080.5,713.8 2081.2,712.7 2081.9,711.6 2082.7,710.6 2083.4,709.7 2084.1,708.9 2084.9,708.4 2085.6,708.2 2086.3,708.2 2087.1,708.4 2087.8,708.8 2088.5,709.3 2089.3,709.9 2090.0,710.4 2090.7,710.9 2091.5,711.2 2092.2,711.3 2092.9,711.3 2093.7,711.2 2094.4,710.9" fill="none" stroke="#54548a" stroke-width="1.7" stroke-linejoin="round" stroke-linecap="round"/><path d="M2188.6 738.5 L2282.1 681.4 V727.4 L2188.6 784.5z" fill="none" stroke="#93c58f" stroke-width="1.3" stroke-dasharray="5.5 3"/><polyline points="2191.4,776.4 2192.1,775.6 2192.9,774.7 2193.6,773.7 2194.3,772.3 2195.1,770.6 2195.8,768.5 2196.5,765.9 2197.3,762.6 2198.0,758.6 2198.7,754.1 2199.5,749.2 2200.2,744.3 2200.9,739.9 2201.7,736.6 2202.4,734.8 2203.1,734.6 2203.9,736.2 2204.6,739.0 2205.3,742.8 2206.1,746.8 2206.8,750.7 2207.5,754.1 2208.3,757.0 2209.0,759.1 2209.7,760.7 2210.4,761.7 2211.2,762.4 2211.9,762.7 2212.6,762.8 2213.4,762.8 2214.1,762.6 2214.8,762.3 2215.6,761.9 2216.3,761.5 2217.0,761.0 2217.8,760.3 2218.5,759.6 2219.2,758.8 2220.0,757.8 2220.7,756.6 2221.4,755.1 2222.2,753.1 2222.9,750.7 2223.6,747.6 2224.4,743.9 2225.1,739.6 2225.8,734.8 2226.6,729.9 2227.3,725.3 2228.0,721.5 2228.8,719.0 2229.5,718.2 2230.2,719.1 2231.0,721.5 2231.7,725.0 2232.4,729.0 2233.2,733.0 2233.9,736.6 2234.6,739.7 2235.3,742.1 2236.1,743.9 2236.8,745.1 2237.5,745.9 2238.3,746.4 2239.0,746.5 2239.7,746.5 2240.5,746.4 2241.2,746.1 2241.9,745.8 2242.7,745.4 2243.4,744.9 2244.1,744.3 2244.9,743.7 2245.6,742.9 2246.3,742.0 2247.1,740.8 2247.8,739.4 2248.5,737.6 2249.3,735.4 2250.0,732.6 2250.7,729.2 2251.5,725.1 2252.2,720.4 2252.9,715.5 2253.7,710.7 2254.4,706.5 2255.1,703.5 2255.9,702.0 2256.6,702.3 2257.3,704.2 2258.1,707.3 2258.8,711.2 2259.5,715.2 2260.3,719.0 2261.0,722.3 2261.7,725.0 2262.4,727.0 2263.2,728.4 2263.9,729.4 2264.6,729.9 2265.4,730.2 2266.1,730.3 2266.8,730.2 2267.6,730.0 2268.3,729.7 2269.0,729.3 2269.8,728.8 2270.5,728.3 2271.2,727.6 2272.0,726.9 2272.7,726.1 2273.4,725.0 2274.2,723.7 2274.9,722.1 2275.6,720.0 2276.4,717.5 2277.1,714.3 2277.8,710.4 2278.6,706.0 2279.3,701.1" fill="none" stroke="#6aae6a" stroke-width="1.5" stroke-linejoin="round" stroke-linecap="round"/><path d="M2371.7 738.5 L2465.2 681.4 V727.4 L2371.7 784.5z" fill="none" stroke="#8a8ab4" stroke-width="1.3" stroke-dasharray="5.5 3"/><polyline points="2374.5,776.4 2375.2,775.6 2376.0,774.7 2376.7,773.7 2377.4,772.3 2378.2,770.6 2378.9,768.5 2379.6,765.9 2380.4,762.6 2381.1,758.6 2381.8,754.1 2382.6,749.2 2383.3,744.3 2384.0,739.9 2384.8,736.6 2385.5,734.8 2386.2,734.6 2387.0,736.2 2387.7,739.0 2388.4,742.8 2389.2,746.8 2389.9,750.7 2390.6,754.1 2391.4,757.0 2392.1,759.1 2392.8,760.7 2393.5,761.7 2394.3,762.4 2395.0,762.7 2395.7,762.8 2396.5,762.8 2397.2,762.6 2397.9,762.3 2398.7,761.9 2399.4,761.5 2400.1,761.0 2400.9,760.3 2401.6,759.6 2402.3,758.8 2403.1,757.8 2403.8,756.6 2404.5,755.1 2405.3,753.1 2406.0,750.7 2406.7,747.6 2407.5,743.9 2408.2,739.6 2408.9,734.8 2409.7,729.9 2410.4,725.3 2411.1,721.5 2411.9,719.0 2412.6,718.2 2413.3,719.1 2414.1,721.5 2414.8,725.0 2415.5,729.0 2416.3,733.0 2417.0,736.6 2417.7,739.7 2418.4,742.1 2419.2,743.9 2419.9,745.1 2420.6,745.9 2421.4,746.4 2422.1,746.5 2422.8,746.5 2423.6,746.4 2424.3,746.1 2425.0,745.8 2425.8,745.4 2426.5,744.9 2427.2,744.3 2428.0,743.7 2428.7,742.9 2429.4,742.0 2430.2,740.8 2430.9,739.4 2431.6,737.6 2432.4,735.4 2433.1,732.6 2433.8,729.2 2434.6,725.1 2435.3,720.4 2436.0,715.5 2436.8,710.7 2437.5,706.5 2438.2,703.5 2439.0,702.0 2439.7,702.3 2440.4,704.2 2441.2,707.3 2441.9,711.2 2442.6,715.2 2443.4,719.0 2444.1,722.3 2444.8,725.0 2445.5,727.0 2446.3,728.4 2447.0,729.4 2447.7,729.9 2448.5,730.2 2449.2,730.3 2449.9,730.2 2450.7,730.0 2451.4,729.7 2452.1,729.3 2452.9,728.8 2453.6,728.3 2454.3,727.6 2455.1,726.9 2455.8,726.1 2456.5,725.0 2457.3,723.7 2458.0,722.1 2458.7,720.0 2459.5,717.5 2460.2,714.3 2460.9,710.4 2461.7,706.0 2462.4,701.1" fill="none" stroke="#54548a" stroke-width="1.5" stroke-linejoin="round" stroke-linecap="round"/><path d="M1233.5 858.0 L1327.0 800.9 V846.9 L1233.5 904.0z" fill="none" stroke="#8a8ab4" stroke-width="1.3" stroke-dasharray="5.5 3"/><polyline points="1236.3,891.5 1237.0,885.4 1237.8,878.5 1238.5,871.5 1239.2,865.4 1240.0,860.9 1240.7,858.4 1241.4,858.2 1242.2,860.3 1242.9,864.4 1243.6,869.9 1244.4,876.0 1245.1,881.9 1245.8,886.8 1246.6,889.9 1247.3,891.0 1248.0,889.6 1248.8,886.1 1249.5,880.7 1250.2,874.1 1251.0,867.1 1251.7,860.5 1252.4,855.1 1253.2,851.5 1253.9,850.2 1254.6,851.2 1255.3,854.4 1256.1,859.3 1256.8,865.1 1257.5,871.2 1258.3,876.7 1259.0,880.8 1259.7,882.9 1260.5,882.8 1261.2,880.3 1261.9,875.7 1262.7,869.6 1263.4,862.7 1264.1,855.8 1264.9,849.7 1265.6,845.2 1266.3,842.7 1267.1,842.6 1267.8,844.7 1268.5,848.9 1269.3,854.4 1270.0,860.5 1270.7,866.3 1271.5,871.2 1272.2,874.3 1272.9,875.3 1273.7,873.9 1274.4,870.3 1275.1,864.9 1275.9,858.3 1276.6,851.3 1277.3,844.7 1278.1,839.3 1278.8,835.8 1279.5,834.5 1280.2,835.6 1281.0,838.8 1281.7,843.7 1282.4,849.6 1283.2,855.7 1283.9,861.2 1284.6,865.2 1285.4,867.3 1286.1,867.1 1286.8,864.5 1287.6,859.9 1288.3,853.8 1289.0,846.9 1289.8,840.0 1290.5,833.9 1291.2,829.4 1292.0,827.0 1292.7,827.0 1293.4,829.2 1294.2,833.3 1294.9,838.8 1295.6,845.0 1296.4,850.8 1297.1,855.6 1297.8,858.7 1298.6,859.7 1299.3,858.2 1300.0,854.6 1300.8,849.1 1301.5,842.5 1302.2,835.5 1303.0,828.9 1303.7,823.6 1304.4,820.1 1305.2,818.9 1305.9,820.0 1306.6,823.3 1307.3,828.2 1308.1,834.1 1308.8,840.2 1309.5,845.6 1310.3,849.6 1311.0,851.7 1311.7,851.4 1312.5,848.8 1313.2,844.2 1313.9,838.0 1314.7,831.1 1315.4,824.2 1316.1,818.2 1316.9,813.7 1317.6,811.4 1318.3,811.3 1319.1,813.6 1319.8,817.8 1320.5,823.3 1321.3,829.4 1322.0,835.3 1322.7,840.1 1323.5,843.1 1324.2,844.0" fill="none" stroke="#54548a" stroke-width="1.5" stroke-linejoin="round" stroke-linecap="round"/><path d="M1415.9 858.0 L1509.4 800.9 V846.9 L1415.9 904.0z" fill="none" stroke="#93c58f" stroke-width="1.3" stroke-dasharray="5.5 3"/><polyline points="1418.7,891.5 1419.4,885.4 1420.2,878.5 1420.9,871.5 1421.6,865.4 1422.4,860.9 1423.1,858.4 1423.8,858.2 1424.6,860.3 1425.3,864.4 1426.0,869.9 1426.8,876.0 1427.5,881.9 1428.2,886.8 1429.0,889.9 1429.7,891.0 1430.4,889.6 1431.2,886.1 1431.9,880.7 1432.6,874.1 1433.4,867.1 1434.1,860.5 1434.8,855.1 1435.6,851.5 1436.3,850.2 1437.0,851.2 1437.7,854.4 1438.5,859.3 1439.2,865.1 1439.9,871.2 1440.7,876.7 1441.4,880.8 1442.1,882.9 1442.9,882.8 1443.6,880.3 1444.3,875.7 1445.1,869.6 1445.8,862.7 1446.5,855.8 1447.3,849.7 1448.0,845.2 1448.7,842.7 1449.5,842.6 1450.2,844.7 1450.9,848.9 1451.7,854.4 1452.4,860.5 1453.1,866.3 1453.9,871.2 1454.6,874.3 1455.3,875.3 1456.1,873.9 1456.8,870.3 1457.5,864.9 1458.3,858.3 1459.0,851.3 1459.7,844.7 1460.5,839.3 1461.2,835.8 1461.9,834.5 1462.7,835.6 1463.4,838.8 1464.1,843.7 1464.8,849.6 1465.6,855.7 1466.3,861.2 1467.0,865.2 1467.8,867.3 1468.5,867.1 1469.2,864.5 1470.0,859.9 1470.7,853.8 1471.4,846.9 1472.2,840.0 1472.9,833.9 1473.6,829.4 1474.4,827.0 1475.1,827.0 1475.8,829.2 1476.6,833.3 1477.3,838.8 1478.0,845.0 1478.8,850.8 1479.5,855.6 1480.2,858.7 1481.0,859.7 1481.7,858.2 1482.4,854.6 1483.2,849.1 1483.9,842.5 1484.6,835.5 1485.4,828.9 1486.1,823.6 1486.8,820.1 1487.6,818.9 1488.3,820.0 1489.0,823.3 1489.7,828.2 1490.5,834.1 1491.2,840.2 1491.9,845.6 1492.7,849.6 1493.4,851.7 1494.1,851.4 1494.9,848.8 1495.6,844.2 1496.3,838.0 1497.1,831.1 1497.8,824.2 1498.5,818.2 1499.3,813.7 1500.0,811.4 1500.7,811.3 1501.5,813.6 1502.2,817.8 1502.9,823.3 1503.7,829.4 1504.4,835.3 1505.1,840.1 1505.9,843.1 1506.6,844.0" fill="none" stroke="#6aae6a" stroke-width="1.5" stroke-linejoin="round" stroke-linecap="round"/><path d="M1599.2 858.0 L1692.7 800.9 V846.9 L1599.2 904.0z" fill="none" stroke="#8a8ab4" stroke-width="1.3" stroke-dasharray="5.5 3"/><polyline points="1602.0,883.7 1602.7,883.7 1603.5,883.8 1604.2,883.9 1604.9,884.0 1605.7,884.0 1606.4,883.8 1607.1,883.5 1607.9,882.9 1608.6,882.1 1609.3,881.1 1610.1,879.9 1610.8,878.6 1611.5,877.3 1612.3,875.9 1613.0,874.7 1613.7,873.6 1614.5,872.7 1615.2,872.0 1615.9,871.6 1616.7,871.4 1617.4,871.3 1618.1,871.4 1618.9,871.6 1619.6,871.7 1620.3,871.8 1621.0,871.7 1621.8,871.5 1622.5,871.1 1623.2,870.6 1624.0,869.9 1624.7,869.1 1625.4,868.3 1626.2,867.5 1626.9,866.8 1627.6,866.1 1628.4,865.6 1629.1,865.2 1629.8,864.9 1630.6,864.7 1631.3,864.4 1632.0,864.2 1632.8,863.8 1633.5,863.2 1634.2,862.4 1635.0,861.4 1635.7,860.2 1636.4,858.7 1637.2,857.1 1637.9,855.4 1638.6,853.7 1639.4,852.1 1640.1,850.5 1640.8,849.2 1641.6,848.1 1642.3,847.3 1643.0,846.7 1643.8,846.3 1644.5,846.1 1645.2,846.1 1646.0,846.1 1646.7,846.0 1647.4,846.0 1648.1,845.8 1648.9,845.5 1649.6,845.1 1650.3,844.6 1651.1,844.1 1651.8,843.5 1652.5,843.0 1653.3,842.6 1654.0,842.3 1654.7,842.1 1655.5,842.1 1656.2,842.3 1656.9,842.6 1657.7,843.0 1658.4,843.3 1659.1,843.6 1659.9,843.7 1660.6,843.7 1661.3,843.4 1662.1,842.9 1662.8,842.1 1663.5,841.2 1664.3,840.1 1665.0,839.0 1665.7,837.8 1666.5,836.7 1667.2,835.7 1667.9,835.0 1668.7,834.4 1669.4,834.1 1670.1,834.0 1670.9,834.1 1671.6,834.3 1672.3,834.5 1673.0,834.8 1673.8,835.0 1674.5,835.2 1675.2,835.2 1676.0,835.1 1676.7,834.9 1677.4,834.5 1678.2,834.2 1678.9,833.9 1679.6,833.6 1680.4,833.5 1681.1,833.4 1681.8,833.6 1682.6,833.9 1683.3,834.3 1684.0,834.8 1684.8,835.4 1685.5,835.8 1686.2,836.1 1687.0,836.3 1687.7,836.1 1688.4,835.8 1689.2,835.1 1689.9,834.2" fill="none" stroke="#54548a" stroke-width="1.7" stroke-linejoin="round" stroke-linecap="round"/><path d="M2003.7 858.0 L2097.2 800.9 V846.9 L2003.7 904.0z" fill="none" stroke="#8a8ab4" stroke-width="1.3" stroke-dasharray="5.5 3"/><polyline points="2006.5,886.7 2007.2,886.1 2008.0,885.4 2008.7,884.4 2009.4,883.2 2010.2,881.9 2010.9,880.5 2011.6,879.2 2012.4,877.9 2013.1,876.9 2013.8,876.0 2014.6,875.4 2015.3,875.0 2016.0,874.8 2016.8,874.7 2017.5,874.8 2018.2,874.9 2019.0,875.0 2019.7,875.0 2020.4,874.9 2021.2,874.7 2021.9,874.2 2022.6,873.6 2023.4,872.9 2024.1,872.2 2024.8,871.4 2025.5,870.7 2026.3,870.0 2027.0,869.5 2027.7,869.1 2028.5,868.8 2029.2,868.6 2029.9,868.5 2030.7,868.3 2031.4,868.1 2032.1,867.7 2032.9,867.2 2033.6,866.4 2034.3,865.4 2035.1,864.1 2035.8,862.7 2036.5,861.0 2037.3,859.3 2038.0,857.6 2038.7,855.9 2039.5,854.4 2040.2,853.1 2040.9,852.0 2041.7,851.1 2042.4,850.5 2043.1,850.1 2043.9,849.8 2044.6,849.7 2045.3,849.5 2046.1,849.4 2046.8,849.2 2047.5,848.9 2048.3,848.5 2049.0,848.0 2049.7,847.4 2050.4,846.8 2051.2,846.2 2051.9,845.6 2052.6,845.2 2053.4,844.9 2054.1,844.8 2054.8,844.9 2055.6,845.1 2056.3,845.5 2057.0,845.9 2057.8,846.2 2058.5,846.5 2059.2,846.7 2060.0,846.6 2060.7,846.3 2061.4,845.8 2062.2,845.0 2062.9,844.1 2063.6,843.0 2064.4,841.8 2065.1,840.7 2065.8,839.6 2066.6,838.7 2067.3,837.9 2068.0,837.4 2068.8,837.1 2069.5,836.9 2070.2,837.0 2071.0,837.1 2071.7,837.3 2072.4,837.5 2073.2,837.7 2073.9,837.7 2074.6,837.6 2075.4,837.4 2076.1,837.1 2076.8,836.7 2077.5,836.4 2078.3,836.0 2079.0,835.8 2079.7,835.7 2080.5,835.7 2081.2,836.0 2081.9,836.4 2082.7,836.9 2083.4,837.5 2084.1,838.1 2084.9,838.6 2085.6,839.0 2086.3,839.2 2087.1,839.1 2087.8,838.8 2088.5,838.2 2089.3,837.3 2090.0,836.2 2090.7,835.0 2091.5,833.7 2092.2,832.4 2092.9,831.1 2093.7,830.0 2094.4,829.0" fill="none" stroke="#54548a" stroke-width="1.7" stroke-linejoin="round" stroke-linecap="round"/><path d="M2188.6 858.0 L2282.1 800.9 V846.9 L2188.6 904.0z" fill="none" stroke="#93c58f" stroke-width="1.3" stroke-dasharray="5.5 3"/><polyline points="2191.4,889.5 2192.1,882.7 2192.9,875.4 2193.6,868.5 2194.3,862.9 2195.1,859.4 2195.8,858.3 2196.5,859.8 2197.3,863.5 2198.0,869.0 2198.7,875.3 2199.5,881.6 2200.2,886.9 2200.9,890.3 2201.7,891.4 2202.4,890.0 2203.1,886.1 2203.9,880.2 2204.6,873.2 2205.3,865.9 2206.1,859.3 2206.8,854.2 2207.5,851.3 2208.3,851.0 2209.0,853.1 2209.7,857.4 2210.4,863.2 2211.2,869.6 2211.9,875.7 2212.6,880.5 2213.4,883.4 2214.1,883.8 2214.8,881.6 2215.6,877.1 2216.3,870.9 2217.0,863.7 2217.8,856.5 2218.5,850.2 2219.2,845.7 2220.0,843.5 2220.7,843.8 2221.4,846.6 2222.2,851.4 2222.9,857.5 2223.6,863.9 2224.4,869.7 2225.1,874.1 2225.8,876.3 2226.6,876.0 2227.3,873.1 2228.0,868.1 2228.8,861.5 2229.5,854.2 2230.2,847.2 2231.0,841.3 2231.7,837.4 2232.4,835.8 2233.2,836.9 2233.9,840.3 2234.6,845.5 2235.3,851.8 2236.1,858.1 2236.8,863.6 2237.5,867.4 2238.3,869.0 2239.0,867.9 2239.7,864.4 2240.5,858.9 2241.2,852.0 2241.9,844.7 2242.7,837.9 2243.4,832.5 2244.1,829.2 2244.9,828.4 2245.6,830.1 2246.3,834.1 2247.1,839.7 2247.8,846.1 2248.5,852.3 2249.3,857.4 2250.0,860.6 2250.7,861.5 2251.5,859.7 2252.2,855.6 2252.9,849.6 2253.7,842.5 2254.4,835.2 2255.1,828.8 2255.9,823.9 2256.6,821.2 2257.3,821.2 2258.1,823.6 2258.8,828.1 2259.5,834.0 2260.3,840.4 2261.0,846.4 2261.7,851.0 2262.4,853.6 2263.2,853.8 2263.9,851.3 2264.6,846.6 2265.4,840.2 2266.1,833.0 2266.8,825.9 2267.6,819.7 2268.3,815.4 2269.0,813.5 2269.8,814.1 2270.5,817.1 2271.2,822.1 2272.0,828.3 2272.7,834.6 2273.4,840.3 2274.2,844.5 2274.9,846.4 2275.6,845.9 2276.4,842.8 2277.1,837.5 2277.8,830.8 2278.6,823.5 2279.3,816.5" fill="none" stroke="#6aae6a" stroke-width="1.5" stroke-linejoin="round" stroke-linecap="round"/><path d="M2371.7 858.0 L2465.2 800.9 V846.9 L2371.7 904.0z" fill="none" stroke="#8a8ab4" stroke-width="1.3" stroke-dasharray="5.5 3"/><polyline points="2374.5,889.5 2375.2,882.7 2376.0,875.4 2376.7,868.5 2377.4,862.9 2378.2,859.4 2378.9,858.3 2379.6,859.8 2380.4,863.5 2381.1,869.0 2381.8,875.3 2382.6,881.6 2383.3,886.9 2384.0,890.3 2384.8,891.4 2385.5,890.0 2386.2,886.1 2387.0,880.2 2387.7,873.2 2388.4,865.9 2389.2,859.3 2389.9,854.2 2390.6,851.3 2391.4,851.0 2392.1,853.1 2392.8,857.4 2393.5,863.2 2394.3,869.6 2395.0,875.7 2395.7,880.5 2396.5,883.4 2397.2,883.8 2397.9,881.6 2398.7,877.1 2399.4,870.9 2400.1,863.7 2400.9,856.5 2401.6,850.2 2402.3,845.7 2403.1,843.5 2403.8,843.8 2404.5,846.6 2405.3,851.4 2406.0,857.5 2406.7,863.9 2407.5,869.7 2408.2,874.1 2408.9,876.3 2409.7,876.0 2410.4,873.1 2411.1,868.1 2411.9,861.5 2412.6,854.2 2413.3,847.2 2414.1,841.3 2414.8,837.4 2415.5,835.8 2416.3,836.9 2417.0,840.3 2417.7,845.5 2418.4,851.8 2419.2,858.1 2419.9,863.6 2420.6,867.4 2421.4,869.0 2422.1,867.9 2422.8,864.4 2423.6,858.9 2424.3,852.0 2425.0,844.7 2425.8,837.9 2426.5,832.5 2427.2,829.2 2428.0,828.4 2428.7,830.1 2429.4,834.1 2430.2,839.7 2430.9,846.1 2431.6,852.3 2432.4,857.4 2433.1,860.6 2433.8,861.5 2434.6,859.7 2435.3,855.6 2436.0,849.6 2436.8,842.5 2437.5,835.2 2438.2,828.8 2439.0,823.9 2439.7,821.2 2440.4,821.2 2441.2,823.6 2441.9,828.1 2442.6,834.0 2443.4,840.4 2444.1,846.4 2444.8,851.0 2445.5,853.6 2446.3,853.8 2447.0,851.3 2447.7,846.6 2448.5,840.2 2449.2,833.0 2449.9,825.9 2450.7,819.7 2451.4,815.4 2452.1,813.5 2452.9,814.1 2453.6,817.1 2454.3,822.1 2455.1,828.3 2455.8,834.6 2456.5,840.3 2457.3,844.5 2458.0,846.4 2458.7,845.9 2459.5,842.8 2460.2,837.5 2460.9,830.8 2461.7,823.5 2462.4,816.5" fill="none" stroke="#54548a" stroke-width="1.5" stroke-linejoin="round" stroke-linecap="round"/><path d="M1233.5 976.6 L1327.0 919.5 V965.5 L1233.5 1022.6z" fill="none" stroke="#8a8ab4" stroke-width="1.3" stroke-dasharray="5.5 3"/><polyline points="1236.3,1015.8 1237.0,1014.4 1237.8,1012.4 1238.5,1010.0 1239.2,1007.1 1240.0,1003.9 1240.7,1000.5 1241.4,996.9 1242.2,993.2 1242.9,989.6 1243.6,986.1 1244.4,982.8 1245.1,979.8 1245.8,977.2 1246.6,975.1 1247.3,973.5 1248.0,972.4 1248.8,971.9 1249.5,972.0 1250.2,972.6 1251.0,973.7 1251.7,975.3 1252.4,977.3 1253.2,979.7 1253.9,982.3 1254.6,985.0 1255.3,987.8 1256.1,990.5 1256.8,993.1 1257.5,995.5 1258.3,997.5 1259.0,999.1 1259.7,1000.3 1260.5,1000.9 1261.2,1001.0 1261.9,1000.6 1262.7,999.5 1263.4,997.9 1264.1,995.9 1264.9,993.3 1265.6,990.4 1266.3,987.1 1267.1,983.6 1267.8,980.0 1268.5,976.3 1269.3,972.7 1270.0,969.2 1270.7,966.0 1271.5,963.1 1272.2,960.7 1272.9,958.7 1273.7,957.2 1274.4,956.3 1275.1,955.9 1275.9,956.1 1276.6,956.9 1277.3,958.1 1278.1,959.8 1278.8,961.9 1279.5,964.3 1280.2,967.0 1281.0,969.7 1281.7,972.5 1282.4,975.2 1283.2,977.7 1283.9,980.0 1284.6,981.9 1285.4,983.5 1286.1,984.5 1286.8,985.0 1287.6,985.0 1288.3,984.4 1289.0,983.2 1289.8,981.5 1290.5,979.3 1291.2,976.6 1292.0,973.6 1292.7,970.2 1293.4,966.7 1294.2,963.0 1294.9,959.4 1295.6,955.8 1296.4,952.4 1297.1,949.2 1297.8,946.5 1298.6,944.1 1299.3,942.2 1300.0,940.9 1300.8,940.1 1301.5,939.9 1302.2,940.3 1303.0,941.1 1303.7,942.5 1304.4,944.3 1305.2,946.5 1305.9,949.0 1306.6,951.7 1307.3,954.4 1308.1,957.2 1308.8,959.9 1309.5,962.4 1310.3,964.6 1311.0,966.4 1311.7,967.8 1312.5,968.7 1313.2,969.1 1313.9,968.9 1314.7,968.1 1315.4,966.8 1316.1,965.0 1316.9,962.6 1317.6,959.9 1318.3,956.8 1319.1,953.4 1319.8,949.8 1320.5,946.1 1321.3,942.4 1322.0,938.9 1322.7,935.6 1323.5,932.5 1324.2,929.8" fill="none" stroke="#54548a" stroke-width="1.5" stroke-linejoin="round" stroke-linecap="round"/><path d="M1415.9 976.6 L1509.4 919.5 V965.5 L1415.9 1022.6z" fill="none" stroke="#93c58f" stroke-width="1.3" stroke-dasharray="5.5 3"/><polyline points="1418.7,1016.3 1419.4,1015.7 1420.2,1014.6 1420.9,1012.9 1421.6,1010.6 1422.4,1008.0 1423.1,1004.9 1423.8,1001.5 1424.6,997.9 1425.3,994.2 1426.0,990.4 1426.8,986.8 1427.5,983.4 1428.2,980.2 1429.0,977.5 1429.7,975.2 1430.4,973.4 1431.2,972.1 1431.9,971.4 1432.6,971.4 1433.4,971.9 1434.1,972.9 1434.8,974.4 1435.6,976.4 1436.3,978.8 1437.0,981.4 1437.7,984.1 1438.5,987.0 1439.2,989.8 1439.9,992.4 1440.7,994.9 1441.4,996.9 1442.1,998.6 1442.9,999.8 1443.6,1000.5 1444.3,1000.6 1445.1,1000.1 1445.8,999.0 1446.5,997.4 1447.3,995.2 1448.0,992.6 1448.7,989.5 1449.5,986.2 1450.2,982.6 1450.9,978.9 1451.7,975.1 1452.4,971.5 1453.1,968.0 1453.9,964.9 1454.6,962.0 1455.3,959.7 1456.1,957.8 1456.8,956.5 1457.5,955.8 1458.3,955.6 1459.0,956.1 1459.7,957.1 1460.5,958.6 1461.2,960.5 1461.9,962.8 1462.7,965.4 1463.4,968.1 1464.1,971.0 1464.8,973.8 1465.6,976.5 1466.3,978.9 1467.0,981.0 1467.8,982.8 1468.5,984.0 1469.2,984.7 1470.0,984.9 1470.7,984.5 1471.4,983.5 1472.2,981.9 1472.9,979.8 1473.6,977.2 1474.4,974.2 1475.1,970.8 1475.8,967.3 1476.6,963.6 1477.3,959.8 1478.0,956.2 1478.8,952.7 1479.5,949.5 1480.2,946.6 1481.0,944.2 1481.7,942.3 1482.4,940.9 1483.2,940.1 1483.9,939.9 1484.6,940.3 1485.4,941.2 1486.1,942.7 1486.8,944.6 1487.6,946.8 1488.3,949.4 1489.0,952.1 1489.7,955.0 1490.5,957.8 1491.2,960.5 1491.9,963.0 1492.7,965.1 1493.4,966.9 1494.1,968.2 1494.9,969.0 1495.6,969.2 1496.3,968.8 1497.1,967.9 1497.8,966.4 1498.5,964.3 1499.3,961.8 1500.0,958.8 1500.7,955.5 1501.5,952.0 1502.2,948.3 1502.9,944.5 1503.7,940.9 1504.4,937.3 1505.1,934.1 1505.9,931.2 1506.6,928.7" fill="none" stroke="#6aae6a" stroke-width="1.5" stroke-linejoin="round" stroke-linecap="round"/><path d="M1599.2 976.6 L1692.7 919.5 V965.5 L1599.2 1022.6z" fill="none" stroke="#8a8ab4" stroke-width="1.3" stroke-dasharray="5.5 3"/><polyline points="1602.0,998.4 1602.7,997.6 1603.5,996.8 1604.2,996.0 1604.9,995.2 1605.7,994.6 1606.4,994.2 1607.1,994.0 1607.9,994.0 1608.6,994.3 1609.3,994.8 1610.1,995.4 1610.8,996.1 1611.5,996.8 1612.3,997.4 1613.0,997.8 1613.7,998.1 1614.5,998.1 1615.2,997.9 1615.9,997.5 1616.7,996.9 1617.4,996.1 1618.1,995.3 1618.9,994.4 1619.6,993.5 1620.3,992.8 1621.0,992.1 1621.8,991.5 1622.5,991.0 1623.2,990.6 1624.0,990.2 1624.7,989.7 1625.4,989.1 1626.2,988.5 1626.9,987.6 1627.6,986.6 1628.4,985.3 1629.1,984.0 1629.8,982.5 1630.6,981.0 1631.3,979.5 1632.0,978.1 1632.8,976.9 1633.5,975.9 1634.2,975.2 1635.0,974.7 1635.7,974.5 1636.4,974.4 1637.2,974.5 1637.9,974.7 1638.6,974.9 1639.4,975.0 1640.1,974.9 1640.8,974.7 1641.6,974.3 1642.3,973.7 1643.0,973.0 1643.8,972.1 1644.5,971.1 1645.2,970.2 1646.0,969.2 1646.7,968.4 1647.4,967.7 1648.1,967.1 1648.9,966.6 1649.6,966.2 1650.3,965.9 1651.1,965.5 1651.8,965.1 1652.5,964.6 1653.3,964.0 1654.0,963.1 1654.7,962.1 1655.5,960.9 1656.2,959.6 1656.9,958.3 1657.7,956.9 1658.4,955.7 1659.1,954.5 1659.9,953.6 1660.6,953.0 1661.3,952.6 1662.1,952.5 1662.8,952.6 1663.5,953.0 1664.3,953.5 1665.0,954.0 1665.7,954.5 1666.5,955.0 1667.2,955.4 1667.9,955.6 1668.7,955.6 1669.4,955.5 1670.1,955.2 1670.9,954.9 1671.6,954.6 1672.3,954.3 1673.0,954.0 1673.8,953.9 1674.5,953.9 1675.2,954.0 1676.0,954.2 1676.7,954.5 1677.4,954.8 1678.2,955.0 1678.9,955.0 1679.6,954.9 1680.4,954.6 1681.1,954.1 1681.8,953.3 1682.6,952.4 1683.3,951.3 1684.0,950.1 1684.8,948.9 1685.5,947.8 1686.2,946.9 1687.0,946.1 1687.7,945.5 1688.4,945.2 1689.2,945.1 1689.9,945.2" fill="none" stroke="#54548a" stroke-width="1.7" stroke-linejoin="round" stroke-linecap="round"/><path d="M2003.7 976.6 L2097.2 919.5 V965.5 L2003.7 1022.6z" fill="none" stroke="#8a8ab4" stroke-width="1.3" stroke-dasharray="5.5 3"/><polyline points="2006.5,1000.1 2007.2,999.9 2008.0,999.6 2008.7,999.5 2009.4,999.5 2010.2,999.6 2010.9,999.8 2011.6,1000.2 2012.4,1000.5 2013.1,1000.9 2013.8,1001.2 2014.6,1001.3 2015.3,1001.2 2016.0,1000.9 2016.8,1000.2 2017.5,999.4 2018.2,998.3 2019.0,997.0 2019.7,995.6 2020.4,994.2 2021.2,992.8 2021.9,991.5 2022.6,990.3 2023.4,989.4 2024.1,988.6 2024.8,988.1 2025.5,987.7 2026.3,987.5 2027.0,987.3 2027.7,987.2 2028.5,987.0 2029.2,986.7 2029.9,986.2 2030.7,985.7 2031.4,985.0 2032.1,984.2 2032.9,983.3 2033.6,982.5 2034.3,981.7 2035.1,981.0 2035.8,980.5 2036.5,980.1 2037.3,979.9 2038.0,979.8 2038.7,979.8 2039.5,979.8 2040.2,979.8 2040.9,979.7 2041.7,979.5 2042.4,979.0 2043.1,978.3 2043.9,977.4 2044.6,976.2 2045.3,974.8 2046.1,973.2 2046.8,971.6 2047.5,970.0 2048.3,968.4 2049.0,967.0 2049.7,965.8 2050.4,964.8 2051.2,964.0 2051.9,963.4 2052.6,962.9 2053.4,962.6 2054.1,962.3 2054.8,962.1 2055.6,961.8 2056.3,961.4 2057.0,960.9 2057.8,960.3 2058.5,959.6 2059.2,958.9 2060.0,958.3 2060.7,957.7 2061.4,957.2 2062.2,956.9 2062.9,956.8 2063.6,957.0 2064.4,957.3 2065.1,957.7 2065.8,958.3 2066.6,958.9 2067.3,959.5 2068.0,960.0 2068.8,960.3 2069.5,960.4 2070.2,960.2 2071.0,959.8 2071.7,959.2 2072.4,958.3 2073.2,957.4 2073.9,956.4 2074.6,955.4 2075.4,954.5 2076.1,953.7 2076.8,953.1 2077.5,952.6 2078.3,952.4 2079.0,952.3 2079.7,952.2 2080.5,952.3 2081.2,952.3 2081.9,952.2 2082.7,952.1 2083.4,951.8 2084.1,951.4 2084.9,950.9 2085.6,950.4 2086.3,949.8 2087.1,949.2 2087.8,948.8 2088.5,948.5 2089.3,948.3 2090.0,948.4 2090.7,948.7 2091.5,949.1 2092.2,949.7 2092.9,950.3 2093.7,951.0 2094.4,951.5" fill="none" stroke="#54548a" stroke-width="1.7" stroke-linejoin="round" stroke-linecap="round"/><path d="M2188.6 976.6 L2282.1 919.5 V965.5 L2188.6 1022.6z" fill="none" stroke="#93c58f" stroke-width="1.3" stroke-dasharray="5.5 3"/><polyline points="2191.4,980.5 2192.1,981.3 2192.9,982.6 2193.6,984.4 2194.3,986.5 2195.1,988.9 2195.8,991.5 2196.5,994.2 2197.3,996.9 2198.0,999.5 2198.7,1002.0 2199.5,1004.2 2200.2,1006.1 2200.9,1007.6 2201.7,1008.6 2202.4,1009.1 2203.1,1009.1 2203.9,1008.5 2204.6,1007.4 2205.3,1005.8 2206.1,1003.7 2206.8,1001.1 2207.5,998.2 2208.3,994.9 2209.0,991.5 2209.7,987.9 2210.4,984.3 2211.2,980.7 2211.9,977.3 2212.6,974.1 2213.4,971.3 2214.1,968.8 2214.8,966.8 2215.6,965.3 2216.3,964.3 2217.0,963.9 2217.8,964.0 2218.5,964.7 2219.2,965.8 2220.0,967.4 2220.7,969.4 2221.4,971.7 2222.2,974.2 2222.9,976.9 2223.6,979.6 2224.4,982.3 2225.1,984.8 2225.8,987.2 2226.6,989.2 2227.3,990.8 2228.0,992.0 2228.8,992.7 2229.5,992.9 2230.2,992.5 2231.0,991.6 2231.7,990.2 2232.4,988.3 2233.2,985.9 2233.9,983.1 2234.6,979.9 2235.3,976.5 2236.1,973.0 2236.8,969.4 2237.5,965.8 2238.3,962.3 2239.0,959.0 2239.7,956.1 2240.5,953.4 2241.2,951.3 2241.9,949.6 2242.7,948.4 2243.4,947.7 2244.1,947.6 2244.9,948.1 2245.6,949.0 2246.3,950.5 2247.1,952.3 2247.8,954.5 2248.5,956.9 2249.3,959.6 2250.0,962.3 2250.7,965.0 2251.5,967.6 2252.2,970.0 2252.9,972.2 2253.7,974.0 2254.4,975.3 2255.1,976.2 2255.9,976.6 2256.6,976.5 2257.3,975.8 2258.1,974.5 2258.8,972.8 2259.5,970.6 2260.3,967.9 2261.0,964.9 2261.7,961.6 2262.4,958.1 2263.2,954.5 2263.9,950.9 2264.6,947.3 2265.4,944.0 2266.1,940.9 2266.8,938.1 2267.6,935.8 2268.3,933.9 2269.0,932.5 2269.8,931.6 2270.5,931.3 2271.2,931.6 2272.0,932.3 2272.7,933.6 2273.4,935.3 2274.2,937.3 2274.9,939.7 2275.6,942.3 2276.4,945.0 2277.1,947.7 2277.8,950.3 2278.6,952.8 2279.3,955.1" fill="none" stroke="#6aae6a" stroke-width="1.5" stroke-linejoin="round" stroke-linecap="round"/><path d="M2371.7 976.6 L2465.2 919.5 V965.5 L2371.7 1022.6z" fill="none" stroke="#8a8ab4" stroke-width="1.3" stroke-dasharray="5.5 3"/><polyline points="2374.5,980.5 2375.2,981.3 2376.0,982.6 2376.7,984.4 2377.4,986.5 2378.2,988.9 2378.9,991.5 2379.6,994.2 2380.4,996.9 2381.1,999.5 2381.8,1002.0 2382.6,1004.2 2383.3,1006.1 2384.0,1007.6 2384.8,1008.6 2385.5,1009.1 2386.2,1009.1 2387.0,1008.5 2387.7,1007.4 2388.4,1005.8 2389.2,1003.7 2389.9,1001.1 2390.6,998.2 2391.4,994.9 2392.1,991.5 2392.8,987.9 2393.5,984.3 2394.3,980.7 2395.0,977.3 2395.7,974.1 2396.5,971.3 2397.2,968.8 2397.9,966.8 2398.7,965.3 2399.4,964.3 2400.1,963.9 2400.9,964.0 2401.6,964.7 2402.3,965.8 2403.1,967.4 2403.8,969.4 2404.5,971.7 2405.3,974.2 2406.0,976.9 2406.7,979.6 2407.5,982.3 2408.2,984.8 2408.9,987.2 2409.7,989.2 2410.4,990.8 2411.1,992.0 2411.9,992.7 2412.6,992.9 2413.3,992.5 2414.1,991.6 2414.8,990.2 2415.5,988.3 2416.3,985.9 2417.0,983.1 2417.7,979.9 2418.4,976.5 2419.2,973.0 2419.9,969.4 2420.6,965.8 2421.4,962.3 2422.1,959.0 2422.8,956.1 2423.6,953.4 2424.3,951.3 2425.0,949.6 2425.8,948.4 2426.5,947.7 2427.2,947.6 2428.0,948.1 2428.7,949.0 2429.4,950.5 2430.2,952.3 2430.9,954.5 2431.6,956.9 2432.4,959.6 2433.1,962.3 2433.8,965.0 2434.6,967.6 2435.3,970.0 2436.0,972.2 2436.8,974.0 2437.5,975.3 2438.2,976.2 2439.0,976.6 2439.7,976.5 2440.4,975.8 2441.2,974.5 2441.9,972.8 2442.6,970.6 2443.4,967.9 2444.1,964.9 2444.8,961.6 2445.5,958.1 2446.3,954.5 2447.0,950.9 2447.7,947.3 2448.5,944.0 2449.2,940.9 2449.9,938.1 2450.7,935.8 2451.4,933.9 2452.1,932.5 2452.9,931.6 2453.6,931.3 2454.3,931.6 2455.1,932.3 2455.8,933.6 2456.5,935.3 2457.3,937.3 2458.0,939.7 2458.7,942.3 2459.5,945.0 2460.2,947.7 2460.9,950.3 2461.7,952.8 2462.4,955.1" fill="none" stroke="#54548a" stroke-width="1.5" stroke-linejoin="round" stroke-linecap="round"/><path d="M1329.0 735.8 H1402.5" stroke="#555" stroke-width="1.7" fill="none"/><path d="M1411.5 735.8 l-12 -4.2 v8.4z" fill="#555"/><path d="M1511.9 735.3 H1585.1" stroke="#555" stroke-width="1.7" fill="none"/><path d="M1594.1 735.3 l-12 -4.2 v8.4z" fill="#555"/><path d="M1705.0 732.5 H1779.2" stroke="#555" stroke-width="1.7" fill="none"/><path d="M1788.2 732.5 l-12 -4.2 v8.4z" fill="#555"/><path d="M1904.5 736.3 H1979.0" stroke="#555" stroke-width="1.7" fill="none"/><path d="M1988.0 736.3 l-12 -4.2 v8.4z" fill="#555"/><path d="M2099.0 736.3 H2172.4" stroke="#555" stroke-width="1.7" fill="none"/><path d="M2181.4 736.3 l-12 -4.2 v8.4z" fill="#555"/><path d="M2286.4 735.3 H2359.3" stroke="#555" stroke-width="1.7" fill="none"/><path d="M2368.3 735.3 l-12 -4.2 v8.4z" fill="#555"/><path d="M1329.0 853.1 H1402.5" stroke="#555" stroke-width="1.7" fill="none"/><path d="M1411.5 853.1 l-12 -4.2 v8.4z" fill="#555"/><path d="M1511.9 853.1 H1585.1" stroke="#555" stroke-width="1.7" fill="none"/><path d="M1594.1 853.1 l-12 -4.2 v8.4z" fill="#555"/><path d="M1705.0 854.9 H1779.2" stroke="#555" stroke-width="1.7" fill="none"/><path d="M1788.2 854.9 l-12 -4.2 v8.4z" fill="#555"/><path d="M1904.5 859.2 H1979.0" stroke="#555" stroke-width="1.7" fill="none"/><path d="M1988.0 859.2 l-12 -4.2 v8.4z" fill="#555"/><path d="M2099.0 854.1 H2172.4" stroke="#555" stroke-width="1.7" fill="none"/><path d="M2181.4 854.1 l-12 -4.2 v8.4z" fill="#555"/><path d="M2286.4 852.8 H2359.3" stroke="#555" stroke-width="1.7" fill="none"/><path d="M2368.3 852.8 l-12 -4.2 v8.4z" fill="#555"/><path d="M1329.0 975.2 H1402.5" stroke="#555" stroke-width="1.7" fill="none"/><path d="M1411.5 975.2 l-12 -4.2 v8.4z" fill="#555"/><path d="M1511.9 973.2 H1585.1" stroke="#555" stroke-width="1.7" fill="none"/><path d="M1594.1 973.2 l-12 -4.2 v8.4z" fill="#555"/><path d="M1705.0 975.2 H1779.2" stroke="#555" stroke-width="1.7" fill="none"/><path d="M1788.2 975.2 l-12 -4.2 v8.4z" fill="#555"/><path d="M1904.5 979.6 H1979.0" stroke="#555" stroke-width="1.7" fill="none"/><path d="M1988.0 979.6 l-12 -4.2 v8.4z" fill="#555"/><path d="M2099.0 974.7 H2172.4" stroke="#555" stroke-width="1.7" fill="none"/><path d="M2181.4 974.7 l-12 -4.2 v8.4z" fill="#555"/><path d="M2286.4 973.2 H2359.3" stroke="#555" stroke-width="1.7" fill="none"/><path d="M2368.3 973.2 l-12 -4.2 v8.4z" fill="#555"/><circle cx="1366.7" cy="719.7" r="11.8" fill="none" stroke="#1a2a52" stroke-width="1.1"/><path d="M1360.2 719.7 h13" stroke="#111" stroke-width="2.3"/><circle cx="1549.6" cy="719.1" r="11.8" fill="none" stroke="#1a2a52" stroke-width="1.1"/><path d="M1543.1 715.9 h13 M1543.1 722.3 h13" stroke="#111" stroke-width="2.2"/><circle cx="2136.9" cy="719.7" r="11.8" fill="none" stroke="#1a2a52" stroke-width="1.1"/><path d="M2129.9 719.7 h14 M2136.9 712.7 v14" stroke="#111" stroke-width="2"/><circle cx="2324.2" cy="719.1" r="11.8" fill="none" stroke="#1a2a52" stroke-width="1.1"/><path d="M2317.7 715.9 h13 M2317.7 722.3 h13" stroke="#111" stroke-width="2.2"/><circle cx="1366.7" cy="836.2" r="11.8" fill="none" stroke="#1a2a52" stroke-width="1.1"/><path d="M1360.2 836.2 h13" stroke="#111" stroke-width="2.3"/><circle cx="1549.6" cy="836.2" r="11.8" fill="none" stroke="#1a2a52" stroke-width="1.1"/><path d="M1543.1 833.0 h13 M1543.1 839.4 h13" stroke="#111" stroke-width="2.2"/><circle cx="2136.9" cy="837.7" r="11.8" fill="none" stroke="#1a2a52" stroke-width="1.1"/><path d="M2129.9 837.7 h14 M2136.9 830.7 v14" stroke="#111" stroke-width="2"/><circle cx="2324.2" cy="836.2" r="11.8" fill="none" stroke="#1a2a52" stroke-width="1.1"/><path d="M2317.7 833.0 h13 M2317.7 839.4 h13" stroke="#111" stroke-width="2.2"/><circle cx="1366.7" cy="958.6" r="11.8" fill="none" stroke="#1a2a52" stroke-width="1.1"/><path d="M1360.2 958.6 h13" stroke="#111" stroke-width="2.3"/><circle cx="1549.6" cy="956.5" r="11.8" fill="none" stroke="#1a2a52" stroke-width="1.1"/><path d="M1543.1 953.3 h13 M1543.1 959.7 h13" stroke="#111" stroke-width="2.2"/><circle cx="2136.9" cy="957.3" r="11.8" fill="none" stroke="#1a2a52" stroke-width="1.1"/><path d="M2129.9 957.3 h14 M2136.9 950.3 v14" stroke="#111" stroke-width="2"/><circle cx="2324.2" cy="956.0" r="11.8" fill="none" stroke="#1a2a52" stroke-width="1.1"/><path d="M2317.7 952.8 h13 M2317.7 959.2 h13" stroke="#111" stroke-width="2.2"/></svg>
<div class="t ss" style="left:1668.2px;top:496.1px;font-size:22.1px;color:#111;">Learnable Recurrent Cycles <span class="m" style="font-size:23.5px">Q <svg class="g" viewBox="0 0 10 12" style="width:.6em;height:.72em;vertical-align:-.06em"><path d="M9 1.6H5.4a4.4 4.4 0 0 0 0 8.8H9M1 6H9" fill="none" stroke="currentColor" stroke-width="1.15"/></svg> <svg class="g" viewBox="0 0 12 14" style="width:.62em;height:.72em;vertical-align:-.02em"><path d="M.6 1H6.8a3.1 3.1 0 0 1 0 6.2H3.6M.6 13H4.9M1.6 1V13M3.6 1V13M5 7.2L9.3 13H11.6M6.9 7.2L11.2 13" fill="none" stroke="currentColor" stroke-width=".95"/></svg><sup>D×W</sup></span></div>
<div class="t ss" style="left:1483.1px;top:550.2px;font-size:20.85px;color:#111;">Align and Repeat</div>
<div class="t ss" style="left:2064.8px;top:550.2px;font-size:20.85px;color:#111;">Align and Repeat</div>
<div class="t ss" style="left:1229.4px;top:634.6px;font-size:21.95px;color:#111;">Remove Cycle</div>
<div class="t ss" style="left:2311.5px;top:631.2px;font-size:21.95px;color:#111;">Restore Cycle</div>
<div class="t ss ac" style="left:1846.0px;top:807.4px;font-size:25px;color:#111;">Linear</div>
<div class="t ss ac" style="left:1846.0px;top:838.0px;font-size:25px;color:#111;">or</div>
<div class="t ss ac" style="left:1846.0px;top:866.8px;font-size:25px;color:#111;">MLP</div>
<div class="t sf" style="left:1208.0px;top:1043.0px;font-size:23.6px;color:#5b5b86;"><span class="m">x<sub>t−L+1:t</sub> <svg class="g" viewBox="0 0 10 12" style="width:.6em;height:.72em;vertical-align:-.06em"><path d="M9 1.6H5.4a4.4 4.4 0 0 0 0 8.8H9M1 6H9" fill="none" stroke="currentColor" stroke-width="1.15"/></svg> <svg class="g" viewBox="0 0 12 14" style="width:.62em;height:.72em;vertical-align:-.02em"><path d="M.6 1H6.8a3.1 3.1 0 0 1 0 6.2H3.6M.6 13H4.9M1.6 1V13M3.6 1V13M5 7.2L9.3 13H11.6M6.9 7.2L11.2 13" fill="none" stroke="currentColor" stroke-width=".95"/></svg><sup>D×L</sup></span></div>
<div class="t sf" style="left:1386.6px;top:1043.0px;font-size:23.6px;color:#8dbd7c;"><span class="m">c<sub>t−L+1:t</sub> <svg class="g" viewBox="0 0 10 12" style="width:.6em;height:.72em;vertical-align:-.06em"><path d="M9 1.6H5.4a4.4 4.4 0 0 0 0 8.8H9M1 6H9" fill="none" stroke="currentColor" stroke-width="1.15"/></svg> <svg class="g" viewBox="0 0 12 14" style="width:.62em;height:.72em;vertical-align:-.02em"><path d="M.6 1H6.8a3.1 3.1 0 0 1 0 6.2H3.6M.6 13H4.9M1.6 1V13M3.6 1V13M5 7.2L9.3 13H11.6M6.9 7.2L11.2 13" fill="none" stroke="currentColor" stroke-width=".95"/></svg><sup>D×L</sup></span></div>
<div class="t sf" style="left:1572.8px;top:1043.0px;font-size:23.6px;color:#5b5b86;"><span class="m">x′<sub>t−L+1:t</sub> <svg class="g" viewBox="0 0 10 12" style="width:.6em;height:.72em;vertical-align:-.06em"><path d="M9 1.6H5.4a4.4 4.4 0 0 0 0 8.8H9M1 6H9" fill="none" stroke="currentColor" stroke-width="1.15"/></svg> <svg class="g" viewBox="0 0 12 14" style="width:.62em;height:.72em;vertical-align:-.02em"><path d="M.6 1H6.8a3.1 3.1 0 0 1 0 6.2H3.6M.6 13H4.9M1.6 1V13M3.6 1V13M5 7.2L9.3 13H11.6M6.9 7.2L11.2 13" fill="none" stroke="currentColor" stroke-width=".95"/></svg><sup>D×L</sup></span></div>
<div class="t sf" style="left:1974.9px;top:1043.0px;font-size:23.6px;color:#5b5b86;"><span class="m"><span class="ob">x</span>′<sub>t+1:t+H</sub> <svg class="g" viewBox="0 0 10 12" style="width:.6em;height:.72em;vertical-align:-.06em"><path d="M9 1.6H5.4a4.4 4.4 0 0 0 0 8.8H9M1 6H9" fill="none" stroke="currentColor" stroke-width="1.15"/></svg> <svg class="g" viewBox="0 0 12 14" style="width:.62em;height:.72em;vertical-align:-.02em"><path d="M.6 1H6.8a3.1 3.1 0 0 1 0 6.2H3.6M.6 13H4.9M1.6 1V13M3.6 1V13M5 7.2L9.3 13H11.6M6.9 7.2L11.2 13" fill="none" stroke="currentColor" stroke-width=".95"/></svg><sup>D×H</sup></span></div>
<div class="t sf" style="left:2163.6px;top:1043.0px;font-size:23.6px;color:#8dbd7c;"><span class="m">c<sub>t+1:t+H</sub> <svg class="g" viewBox="0 0 10 12" style="width:.6em;height:.72em;vertical-align:-.06em"><path d="M9 1.6H5.4a4.4 4.4 0 0 0 0 8.8H9M1 6H9" fill="none" stroke="currentColor" stroke-width="1.15"/></svg> <svg class="g" viewBox="0 0 12 14" style="width:.62em;height:.72em;vertical-align:-.02em"><path d="M.6 1H6.8a3.1 3.1 0 0 1 0 6.2H3.6M.6 13H4.9M1.6 1V13M3.6 1V13M5 7.2L9.3 13H11.6M6.9 7.2L11.2 13" fill="none" stroke="currentColor" stroke-width=".95"/></svg><sup>D×H</sup></span></div>
<div class="t sf" style="left:2334.0px;top:1043.0px;font-size:23.6px;color:#5b5b86;"><span class="m"><span class="ob">x</span><sub>t+1:t+H</sub> <svg class="g" viewBox="0 0 10 12" style="width:.6em;height:.72em;vertical-align:-.06em"><path d="M9 1.6H5.4a4.4 4.4 0 0 0 0 8.8H9M1 6H9" fill="none" stroke="currentColor" stroke-width="1.15"/></svg> <svg class="g" viewBox="0 0 12 14" style="width:.62em;height:.72em;vertical-align:-.02em"><path d="M.6 1H6.8a3.1 3.1 0 0 1 0 6.2H3.6M.6 13H4.9M1.6 1V13M3.6 1V13M5 7.2L9.3 13H11.6M6.9 7.2L11.2 13" fill="none" stroke="currentColor" stroke-width=".95"/></svg><sup>D×H</sup></span></div>
<div class="t ss" style="left:1193.8px;top:1130.0px;font-size:37.3px;color:#1F4E79;font-weight:bold;-webkit-text-stroke:.4px #1F4E79;">Alignments and repetitions of the <span class="m" style="font-size:39px;letter-spacing:3px;margin:0 4px 0 2px">learnable</span> recurrent cycles <span class="m" style="font-size:41px;margin-left:6px">Q</span></div>
<div class="a" style="left:1188.2px;top:1183.4px;width:543.2px;height:282.5px;background:#FEFAF0"></div>
<div class="a" style="left:1743.4px;top:1183.4px;width:198.8px;height:282.5px;background:#F3F4FA"></div>
<div class="a" style="left:1954px;top:1183.4px;width:540.3px;height:282.5px;background:#FEFAF0"></div>
<svg width="3780" height="2268" viewBox="0 0 3780 2268" style="left:0;top:0"><defs><marker id="ah" viewBox="0 0 10 10" refX="8.5" refY="5" markerWidth="7" markerHeight="7" orient="auto"><path d="M0 0.8L10 5L0 9.2L2.5 5z" fill="#1f2f55"/></marker></defs><rect x="1407.9" y="1194.1" width="156.1" height="67.8" fill="none" stroke="#8fc08a" stroke-width="1.6" stroke-dasharray="5 3.2"/><polyline points="1413.7,1227.9 1414.9,1224.9 1416.1,1222.0 1417.2,1219.1 1418.4,1216.3 1419.6,1213.6 1420.8,1211.1 1422.0,1208.8 1423.2,1206.6 1424.3,1204.7 1425.5,1203.0 1426.7,1201.6 1427.9,1200.4 1429.1,1199.5 1430.2,1198.9 1431.4,1198.6 1432.6,1198.6 1433.8,1198.9 1435.0,1199.5 1436.2,1200.4 1437.3,1201.6 1438.5,1203.0 1439.7,1204.7 1440.9,1206.7 1442.1,1208.8 1443.2,1211.2 1444.4,1213.7 1445.6,1216.4 1446.8,1219.2 1448.0,1222.1 1449.2,1225.0 1450.3,1228.0 1451.5,1231.0 1452.7,1234.0 1453.9,1236.9 1455.1,1239.7 1456.3,1242.5 1457.4,1245.0 1458.6,1247.5 1459.8,1249.7 1461.0,1251.7 1462.2,1253.5 1463.3,1255.1 1464.5,1256.3 1465.7,1257.3 1466.9,1258.1 1468.1,1258.5 1469.3,1258.6 1470.4,1258.4 1471.6,1257.9 1472.8,1257.2 1474.0,1256.1 1475.2,1254.8 1476.3,1253.2 1477.5,1251.4 1478.7,1249.3 1479.9,1247.1 1481.1,1244.6 1482.3,1242.0 1483.4,1239.2 1484.6,1236.4 1485.8,1233.5 1487.0,1230.5 1488.2,1227.5 1489.3,1224.5 1490.5,1221.6 1491.7,1218.7 1492.9,1215.9 1494.1,1213.3 1495.3,1210.8 1496.4,1208.4 1497.6,1206.3 1498.8,1204.4 1500.0,1202.8 1501.2,1201.4 1502.3,1200.3 1503.5,1199.4 1504.7,1198.9 1505.9,1198.6 1507.1,1198.7 1508.3,1199.0 1509.4,1199.7 1510.6,1200.6 1511.8,1201.8 1513.0,1203.3 1514.2,1205.0 1515.3,1207.0 1516.5,1209.1 1517.7,1211.5 1518.9,1214.1 1520.1,1216.8 1521.3,1219.6 1522.4,1222.5 1523.6,1225.4 1524.8,1228.4 1526.0,1231.4 1527.2,1234.4 1528.4,1237.3 1529.5,1240.1 1530.7,1242.8 1531.9,1245.4 1533.1,1247.8 1534.3,1250.0 1535.4,1252.0 1536.6,1253.7 1537.8,1255.2 1539.0,1256.5 1540.2,1257.5 1541.4,1258.1 1542.5,1258.5 1543.7,1258.6 1544.9,1258.4 1546.1,1257.9 1547.3,1257.1 1548.4,1256.0 1549.6,1254.6 1550.8,1253.0 1552.0,1251.1 1553.2,1249.0 1554.4,1246.7 1555.5,1244.2 1556.7,1241.6 1557.9,1238.9" fill="none" stroke="#5f9e5f" stroke-width="2.0" stroke-linejoin="round"/><circle cx="1413.7" cy="1226.3" r="4.1" fill="#fff" stroke="#5f9e5f" stroke-width="1.7"/><circle cx="1557.9" cy="1225.3" r="4.1" fill="#fff" stroke="#5f9e5f" stroke-width="1.7"/><path d="M1407.9 1263.3 L1205.5 1327.9" fill="none" stroke="#1f2f55" stroke-width="1.5" stroke-dasharray="6 3.5" marker-end="url(#ah)"/><path d="M1564.5 1263.3 L1693 1329" fill="none" stroke="#1f2f55" stroke-width="1.5" stroke-dasharray="6 3.5" marker-end="url(#ah)"/><rect x="1196.9" y="1334.1" width="500.0" height="68.7" fill="none" stroke="#8fc08a" stroke-width="1.6" stroke-dasharray="5 3.2"/><polyline points="1207.0,1364.0 1208.2,1361.1 1209.4,1358.2 1210.6,1355.3 1211.7,1352.6 1212.9,1350.1 1214.1,1347.7 1215.3,1345.5 1216.5,1343.5 1217.7,1341.7 1218.9,1340.2 1220.0,1339.0 1221.2,1338.0 1222.4,1337.4 1223.6,1337.0 1224.8,1336.9 1226.0,1337.1 1227.1,1337.6 1228.3,1338.5 1229.5,1339.5 1230.7,1340.9 1231.9,1342.5 1233.1,1344.4 1234.3,1346.5 1235.4,1348.8 1236.6,1351.3 1237.8,1353.9 1239.0,1356.6 1240.2,1359.5 1241.4,1362.4 1242.6,1365.4 1243.7,1368.4 1244.9,1371.4 1246.1,1374.3 1247.3,1377.2 1248.5,1380.0 1249.7,1382.6 1250.8,1385.1 1252.0,1387.3 1253.2,1389.4 1254.4,1391.3 1255.6,1392.9 1256.8,1394.3 1258.0,1395.4 1259.1,1396.2 1260.3,1396.7 1261.5,1396.9 1262.7,1396.8 1263.9,1396.4 1265.1,1395.7 1266.3,1394.8 1267.4,1393.5 1268.6,1392.0 1269.8,1390.3 1271.0,1388.3 1272.2,1386.1 1273.4,1383.7 1274.6,1381.1 1275.7,1378.4 1276.9,1375.6 1278.1,1372.7 1279.3,1369.7 1280.5,1366.7 1281.7,1363.7 1282.8,1360.8 1284.0,1357.9 1285.2,1355.1 1286.4,1352.4 1287.6,1349.8 1288.8,1347.5 1290.0,1345.3 1291.1,1343.3 1292.3,1341.6 1293.5,1340.1 1294.7,1338.9 1295.9,1338.0 1297.1,1337.3 1298.3,1337.0 1299.4,1336.9 1300.6,1337.2 1301.8,1337.7 1303.0,1338.5 1304.2,1339.7 1305.4,1341.1 1306.6,1342.7 1307.7,1344.6 1308.9,1346.7 1310.1,1349.0 1311.3,1351.5 1312.5,1354.1 1313.7,1356.9 1314.8,1359.8 1316.0,1362.7 1317.2,1365.7 1318.4,1368.7 1319.6,1371.7 1320.8,1374.6 1322.0,1377.5 1323.1,1380.2 1324.3,1382.8 1325.5,1385.3 1326.7,1387.6 1327.9,1389.6 1329.1,1391.5 1330.3,1393.1 1331.4,1394.4 1332.6,1395.5 1333.8,1396.2 1335.0,1396.7 1336.2,1396.9 1337.4,1396.8 1338.5,1396.4 1339.7,1395.7 1340.9,1394.7 1342.1,1393.4 1343.3,1391.9 1344.5,1390.1 1345.7,1388.1 1346.8,1385.9 1348.0,1383.4 1349.2,1380.9 1350.4,1378.2" fill="none" stroke="#5f9e5f" stroke-width="2.0" stroke-linejoin="round"/><circle cx="1207.0" cy="1366.9" r="4.1" fill="#fff" stroke="#5f9e5f" stroke-width="1.7"/><circle cx="1350.4" cy="1366.0" r="4.1" fill="#fff" stroke="#5f9e5f" stroke-width="1.7"/><circle cx="1371.8" cy="1366.9" r="3" fill="#7a7a7a"/><circle cx="1393.3" cy="1366.9" r="3" fill="#7a7a7a"/><circle cx="1414.9" cy="1366.9" r="3" fill="#7a7a7a"/><polyline points="1435.1,1365.3 1436.3,1362.3 1437.5,1359.3 1438.7,1356.5 1439.9,1353.7 1441.1,1351.1 1442.2,1348.6 1443.4,1346.3 1444.6,1344.2 1445.8,1342.4 1447.0,1340.8 1448.2,1339.4 1449.4,1338.4 1450.6,1337.6 1451.8,1337.1 1453.0,1336.9 1454.1,1337.0 1455.3,1337.4 1456.5,1338.1 1457.7,1339.1 1458.9,1340.4 1460.1,1342.0 1461.3,1343.8 1462.5,1345.8 1463.7,1348.0 1464.9,1350.5 1466.1,1353.1 1467.2,1355.8 1468.4,1358.7 1469.6,1361.6 1470.8,1364.6 1472.0,1367.6 1473.2,1370.6 1474.4,1373.6 1475.6,1376.4 1476.8,1379.2 1478.0,1381.9 1479.2,1384.5 1480.3,1386.8 1481.5,1388.9 1482.7,1390.9 1483.9,1392.6 1485.1,1394.0 1486.3,1395.1 1487.5,1396.0 1488.7,1396.6 1489.9,1396.9 1491.1,1396.9 1492.2,1396.5 1493.4,1395.9 1494.6,1395.0 1495.8,1393.8 1497.0,1392.3 1498.2,1390.6 1499.4,1388.6 1500.6,1386.5 1501.8,1384.1 1503.0,1381.5 1504.2,1378.8 1505.3,1376.0 1506.5,1373.1 1507.7,1370.1 1508.9,1367.1 1510.1,1364.1 1511.3,1361.2 1512.5,1358.2 1513.7,1355.4 1514.9,1352.7 1516.1,1350.1 1517.3,1347.7 1518.4,1345.5 1519.6,1343.5 1520.8,1341.7 1522.0,1340.2 1523.2,1339.0 1524.4,1338.0 1525.6,1337.4 1526.8,1337.0 1528.0,1336.9 1529.2,1337.1 1530.3,1337.7 1531.5,1338.5 1532.7,1339.6 1533.9,1341.0 1535.1,1342.6 1536.3,1344.5 1537.5,1346.6 1538.7,1349.0 1539.9,1351.5 1541.1,1354.1 1542.3,1356.9 1543.4,1359.8 1544.6,1362.7 1545.8,1365.7 1547.0,1368.7 1548.2,1371.7 1549.4,1374.7 1550.6,1377.5 1551.8,1380.3 1553.0,1382.9 1554.2,1385.4 1555.4,1387.7 1556.5,1389.7 1557.7,1391.6 1558.9,1393.1 1560.1,1394.5 1561.3,1395.5 1562.5,1396.3 1563.7,1396.7 1564.9,1396.9 1566.1,1396.8 1567.3,1396.3 1568.4,1395.6 1569.6,1394.6 1570.8,1393.3 1572.0,1391.7 1573.2,1389.9 1574.4,1387.8 1575.6,1385.6 1576.8,1383.1 1578.0,1380.5 1579.2,1377.8 1580.4,1374.9 1581.5,1372.0 1582.7,1369.0 1583.9,1366.0 1585.1,1363.0 1586.3,1360.0 1587.5,1357.1 1588.7,1354.3 1589.9,1351.7 1591.1,1349.2 1592.3,1346.8 1593.5,1344.7 1594.6,1342.8 1595.8,1341.1 1597.0,1339.7 1598.2,1338.6 1599.4,1337.7 1600.6,1337.2 1601.8,1336.9 1603.0,1337.0 1604.2,1337.3 1605.4,1338.0 1606.5,1338.9 1607.7,1340.1 1608.9,1341.6 1610.1,1343.3 1611.3,1345.3 1612.5,1347.5 1613.7,1349.9 1614.9,1352.5 1616.1,1355.2 1617.3,1358.0 1618.5,1360.9 1619.6,1363.9 1620.8,1366.9 1622.0,1369.9 1623.2,1372.9 1624.4,1375.8 1625.6,1378.6 1626.8,1381.3 1628.0,1383.9 1629.2,1386.3 1630.4,1388.5 1631.6,1390.5 1632.7,1392.2 1633.9,1393.7 1635.1,1394.9 1636.3,1395.8 1637.5,1396.5 1638.7,1396.8 1639.9,1396.9 1641.1,1396.6 1642.3,1396.1 1643.5,1395.2 1644.6,1394.1 1645.8,1392.7 1647.0,1391.0 1648.2,1389.1 1649.4,1387.0 1650.6,1384.7 1651.8,1382.1 1653.0,1379.5 1654.2,1376.7 1655.4,1373.8 1656.6,1370.8 1657.7,1367.8 1658.9,1364.8 1660.1,1361.8 1661.3,1358.9 1662.5,1356.0 1663.7,1353.3 1664.9,1350.7 1666.1,1348.2 1667.3,1346.0 1668.5,1343.9 1669.7,1342.1 1670.8,1340.5 1672.0,1339.2 1673.2,1338.2 1674.4,1337.5 1675.6,1337.0 1676.8,1336.9 1678.0,1337.1 1679.2,1337.5 1680.4,1338.3 1681.6,1339.3 1682.7,1340.7 1683.9,1342.2 1685.1,1344.1 1686.3,1346.1 1687.5,1348.4 1688.7,1350.9" fill="none" stroke="#5f9e5f" stroke-width="2.0" stroke-linejoin="round"/><circle cx="1435.1" cy="1366.9" r="4.1" fill="#fff" stroke="#5f9e5f" stroke-width="1.7"/><circle cx="1577.8" cy="1366.0" r="4.1" fill="#fff" stroke="#5f9e5f" stroke-width="1.7"/><circle cx="1688.7" cy="1369.3" r="4.1" fill="#fff" stroke="#5a5a8a" stroke-width="1.7"/><path d="M1205.3 1413.5 V1418 Q1205.3 1421.3 1208.8 1421.3 H1574.3 Q1577.8 1421.3 1577.8 1418 V1413.5 M1392.4 1421.3 V1428" fill="none" stroke="#4a7fd4" stroke-width="1.2"/><path d="M1579.2 1413.5 V1418 Q1579.2 1421.3 1582.7 1421.3 H1684.8 Q1688.3 1421.3 1688.3 1418 V1413.5 M1633.6 1421.3 V1428" fill="none" stroke="#4a7fd4" stroke-width="1.2"/><rect x="1767.6" y="1191.6" width="142.3" height="71.0" fill="none" stroke="#b5b5b5" stroke-width="1.6" stroke-dasharray="5 3.2"/><polyline points="1772.0,1256.2 1773.2,1256.3 1774.4,1256.0 1775.5,1255.4 1776.7,1254.4 1777.9,1253.1 1779.1,1251.5 1780.3,1249.5 1781.4,1247.3 1782.6,1244.8 1783.8,1242.0 1785.0,1239.1 1786.1,1236.0 1787.3,1232.8 1788.5,1229.5 1789.7,1226.2 1790.9,1222.9 1792.0,1219.6 1793.2,1216.3 1794.4,1213.2 1795.6,1210.2 1796.8,1207.5 1797.9,1204.9 1799.1,1202.6 1800.3,1200.6 1801.5,1198.8 1802.7,1197.4 1803.8,1196.4 1805.0,1195.7 1806.2,1195.3 1807.4,1195.4 1808.5,1195.7 1809.7,1196.5 1810.9,1197.6 1812.1,1199.1 1813.3,1200.8 1814.4,1202.9 1815.6,1205.2 1816.8,1207.8 1818.0,1210.6 1819.2,1213.6 1820.3,1216.7 1821.5,1220.0 1822.7,1223.3 1823.9,1226.6 1825.1,1230.0 1826.2,1233.3 1827.4,1236.5 1828.6,1239.5 1829.8,1242.4 1830.9,1245.1 1832.1,1247.6 1833.3,1249.8 1834.5,1251.7 1835.7,1253.3 1836.8,1254.6 1838.0,1255.5 1839.2,1256.1 1840.4,1256.3 1841.6,1256.1 1842.7,1255.6 1843.9,1254.7 1845.1,1253.5 1846.3,1251.9 1847.5,1250.0 1848.6,1247.9 1849.8,1245.4 1851.0,1242.8 1852.2,1239.9 1853.3,1236.8 1854.5,1233.7 1855.7,1230.4 1856.9,1227.1 1858.1,1223.7 1859.2,1220.4 1860.4,1217.1 1861.6,1214.0 1862.8,1211.0 1864.0,1208.1 1865.1,1205.5 1866.3,1203.2 1867.5,1201.1 1868.7,1199.2 1869.9,1197.8 1871.0,1196.6 1872.2,1195.8 1873.4,1195.4 1874.6,1195.3 1875.7,1195.6 1876.9,1196.3 1878.1,1197.3 1879.3,1198.7 1880.5,1200.3 1881.6,1202.3 1882.8,1204.6 1884.0,1207.1 1885.2,1209.9 1886.4,1212.8 1887.5,1215.9 1888.7,1219.2 1889.9,1222.5 1891.1,1225.8 1892.3,1229.1 1893.4,1232.4 1894.6,1235.7 1895.8,1238.8 1897.0,1241.7 1898.1,1244.5 1899.3,1247.0 1900.5,1249.3 1901.7,1251.3 1902.9,1252.9 1904.0,1254.3 1905.2,1255.3 1906.4,1256.0" fill="none" stroke="#444" stroke-width="2.1" stroke-linejoin="round"/><path d="M1788.7 1230 V1334 M1889.7 1230 V1376.3" fill="none" stroke="#4a7fd4" stroke-width="1.1" stroke-dasharray="4.5 3.5"/><circle cx="1788.7" cy="1225.6" r="4.1" fill="#fff" stroke="#4c9a4c" stroke-width="1.7"/><circle cx="1889.7" cy="1225.6" r="4.1" fill="#fff" stroke="#5a5a8a" stroke-width="1.7"/><path d="M1756.3 1243.8 L1583.6 1243.8" fill="none" stroke="#1f2f55" stroke-width="1.5" stroke-dasharray="6 3.5" marker-end="url(#ah)"/><path d="M1922.8 1243.8 L2090.8 1243.8" fill="none" stroke="#1f2f55" stroke-width="1.5" stroke-dasharray="6 3.5" marker-end="url(#ah)"/><rect x="2105.7" y="1194.1" width="157.0" height="67.8" fill="none" stroke="#8fc08a" stroke-width="1.6" stroke-dasharray="5 3.2"/><polyline points="2113.2,1226.6 2114.4,1229.7 2115.6,1232.7 2116.8,1235.8 2117.9,1238.7 2119.1,1241.5 2120.3,1244.2 2121.5,1246.7 2122.7,1249.0 2123.9,1251.1 2125.0,1253.0 2126.2,1254.5 2127.4,1255.8 2128.6,1256.8 2129.8,1257.5 2131.0,1257.9 2132.1,1258.0 2133.3,1257.7 2134.5,1257.2 2135.7,1256.3 2136.9,1255.1 2138.1,1253.7 2139.2,1252.0 2140.4,1250.0 2141.6,1247.8 2142.8,1245.3 2144.0,1242.7 2145.2,1239.9 2146.3,1237.1 2147.5,1234.1 2148.7,1231.0 2149.9,1227.9 2151.1,1224.8 2152.3,1221.7 2153.4,1218.7 2154.6,1215.8 2155.8,1213.0 2157.0,1210.4 2158.2,1207.9 2159.4,1205.6 2160.5,1203.6 2161.7,1201.8 2162.9,1200.3 2164.1,1199.1 2165.3,1198.2 2166.5,1197.5 2167.6,1197.2 2168.8,1197.2 2170.0,1197.6 2171.2,1198.2 2172.4,1199.2 2173.6,1200.4 2174.7,1201.9 2175.9,1203.7 2177.1,1205.7 2178.3,1208.0 2179.5,1210.5 2180.7,1213.1 2181.8,1215.9 2183.0,1218.9 2184.2,1221.9 2185.4,1225.0 2186.6,1228.1 2187.8,1231.2 2188.9,1234.2 2190.1,1237.2 2191.3,1240.1 2192.5,1242.9 2193.7,1245.5 2194.9,1247.9 2196.0,1250.1 2197.2,1252.0 2198.4,1253.8 2199.6,1255.2 2200.8,1256.4 2202.0,1257.2 2203.1,1257.8 2204.3,1258.0 2205.5,1257.9 2206.7,1257.5 2207.9,1256.8 2209.1,1255.8 2210.2,1254.5 2211.4,1252.9 2212.6,1251.0 2213.8,1248.9 2215.0,1246.6 2216.2,1244.1 2217.3,1241.4 2218.5,1238.6 2219.7,1235.6 2220.9,1232.6 2222.1,1229.5 2223.3,1226.4 2224.4,1223.3 2225.6,1220.2 2226.8,1217.3 2228.0,1214.4 2229.2,1211.7 2230.4,1209.1 2231.5,1206.8 2232.7,1204.6 2233.9,1202.7 2235.1,1201.1 2236.3,1199.7 2237.5,1198.6 2238.6,1197.8 2239.8,1197.4 2241.0,1197.2 2242.2,1197.4 2243.4,1197.8 2244.6,1198.6 2245.7,1199.7 2246.9,1201.1 2248.1,1202.8 2249.3,1204.7 2250.5,1206.8 2251.7,1209.2 2252.8,1211.8 2254.0,1214.5 2255.2,1217.4 2256.4,1220.3" fill="none" stroke="#5a5a8a" stroke-width="2.0" stroke-linejoin="round"/><circle cx="2113.2" cy="1226.3" r="4.1" fill="#fff" stroke="#5a5a8a" stroke-width="1.7"/><circle cx="2256.4" cy="1226.3" r="4.1" fill="#fff" stroke="#5a5a8a" stroke-width="1.7"/><path d="M2109.2 1263.8 L1994 1328.5" fill="none" stroke="#1f2f55" stroke-width="1.5" stroke-dasharray="6 3.5" marker-end="url(#ah)"/><path d="M2263.4 1262 L2488.8 1328.7" fill="none" stroke="#1f2f55" stroke-width="1.5" stroke-dasharray="6 3.5" marker-end="url(#ah)"/><rect x="1990.5" y="1334.1" width="500.4" height="68.7" fill="none" stroke="#8fc08a" stroke-width="1.6" stroke-dasharray="5 3.2"/><polyline points="2001.3,1368.8 2002.5,1371.9 2003.7,1375.0 2004.9,1377.9 2006.0,1380.8 2007.2,1383.5 2008.4,1386.0 2009.6,1388.3 2010.8,1390.4 2012.0,1392.3 2013.2,1393.9 2014.3,1395.2 2015.5,1396.3 2016.7,1397.0 2017.9,1397.4 2019.1,1397.5 2020.3,1397.3 2021.5,1396.7 2022.6,1395.9 2023.8,1394.7 2025.0,1393.3 2026.2,1391.6 2027.4,1389.6 2028.6,1387.4 2029.8,1385.0 2030.9,1382.4 2032.1,1379.6 2033.3,1376.7 2034.5,1373.8 2035.7,1370.7 2036.9,1367.6 2038.1,1364.5 2039.2,1361.4 2040.4,1358.4 2041.6,1355.5 2042.8,1352.7 2044.0,1350.0 2045.2,1347.6 2046.4,1345.3 2047.5,1343.3 2048.7,1341.5 2049.9,1340.0 2051.1,1338.8 2052.3,1337.9 2053.5,1337.2 2054.7,1336.9 2055.8,1336.9 2057.0,1337.3 2058.2,1337.9 2059.4,1338.9 2060.6,1340.1 2061.8,1341.7 2063.0,1343.5 2064.1,1345.5 2065.3,1347.8 2066.5,1350.3 2067.7,1352.9 2068.9,1355.8 2070.1,1358.7 2071.3,1361.7 2072.4,1364.8 2073.6,1367.9 2074.8,1371.0 2076.0,1374.0 2077.2,1377.0 2078.4,1379.9 2079.6,1382.6 2080.8,1385.2 2081.9,1387.6 2083.1,1389.8 2084.3,1391.8 2085.5,1393.4 2086.7,1394.9 2087.9,1396.0 2089.1,1396.8 2090.2,1397.3 2091.4,1397.5 2092.6,1397.4 2093.8,1396.9 2095.0,1396.2 2096.2,1395.1 2097.4,1393.8 2098.5,1392.1 2099.7,1390.2 2100.9,1388.1 2102.1,1385.8 2103.3,1383.2 2104.5,1380.5 2105.7,1377.6 2106.8,1374.7 2108.0,1371.6 2109.2,1368.5 2110.4,1365.4 2111.6,1362.4 2112.8,1359.3 2114.0,1356.4 2115.1,1353.5 2116.3,1350.8 2117.5,1348.3 2118.7,1346.0 2119.9,1343.9 2121.1,1342.0 2122.3,1340.4 2123.4,1339.1 2124.6,1338.1 2125.8,1337.4 2127.0,1337.0 2128.2,1336.9 2129.4,1337.1 2130.6,1337.7 2131.7,1338.6 2132.9,1339.7 2134.1,1341.2 2135.3,1342.9 2136.5,1344.9 2137.7,1347.1 2138.9,1349.5 2140.0,1352.1 2141.2,1354.9 2142.4,1357.8 2143.6,1360.8" fill="none" stroke="#5a5a8a" stroke-width="2.0" stroke-linejoin="round"/><circle cx="2001.3" cy="1369.3" r="4.1" fill="#fff" stroke="#5a5a8a" stroke-width="1.7"/><circle cx="2143.6" cy="1369.3" r="4.1" fill="#fff" stroke="#5a5a8a" stroke-width="1.7"/><circle cx="2162.6" cy="1368.8" r="3" fill="#7a7a7a"/><circle cx="2184.7" cy="1368.8" r="3" fill="#7a7a7a"/><circle cx="2206.0" cy="1368.8" r="3" fill="#7a7a7a"/><polyline points="2230.5,1361.8 2231.7,1365.0 2232.9,1368.2 2234.1,1371.3 2235.3,1374.5 2236.5,1377.5 2237.7,1380.5 2238.9,1383.2 2240.1,1385.9 2241.2,1388.3 2242.4,1390.4 2243.6,1392.3 2244.8,1394.0 2246.0,1395.3 2247.2,1396.4 2248.4,1397.1 2249.6,1397.4 2250.8,1397.5 2252.0,1397.2 2253.2,1396.6 2254.4,1395.6 2255.6,1394.3 2256.8,1392.8 2258.0,1390.9 2259.2,1388.8 2260.3,1386.5 2261.5,1383.9 2262.7,1381.2 2263.9,1378.3 2265.1,1375.3 2266.3,1372.1 2267.5,1369.0 2268.7,1365.8 2269.9,1362.6 2271.1,1359.5 2272.3,1356.5 2273.5,1353.5 2274.7,1350.8 2275.9,1348.2 2277.1,1345.8 2278.3,1343.7 2279.4,1341.8 2280.6,1340.2 2281.8,1338.9 2283.0,1337.9 2284.2,1337.3 2285.4,1336.9 2286.6,1336.9 2287.8,1337.3 2289.0,1338.0 2290.2,1338.9 2291.4,1340.2 2292.6,1341.9 2293.8,1343.7 2295.0,1345.9 2296.2,1348.3 2297.4,1350.8 2298.5,1353.6 2299.7,1356.5 2300.9,1359.6 2302.1,1362.7 2303.3,1365.9 2304.5,1369.0 2305.7,1372.2 2306.9,1375.3 2308.1,1378.3 2309.3,1381.2 2310.5,1384.0 2311.7,1386.5 2312.9,1388.9 2314.1,1391.0 2315.3,1392.8 2316.5,1394.4 2317.7,1395.6 2318.8,1396.6 2320.0,1397.2 2321.2,1397.5 2322.4,1397.4 2323.6,1397.0 2324.8,1396.3 2326.0,1395.3 2327.2,1393.9 2328.4,1392.3 2329.6,1390.4 2330.8,1388.2 2332.0,1385.8 2333.2,1383.2 2334.4,1380.4 2335.6,1377.5 2336.8,1374.4 2337.9,1371.3 2339.1,1368.1 2340.3,1364.9 2341.5,1361.8 2342.7,1358.7 2343.9,1355.6 2345.1,1352.8 2346.3,1350.1 2347.5,1347.5 2348.7,1345.2 2349.9,1343.1 2351.1,1341.3 2352.3,1339.8 2353.5,1338.6 2354.7,1337.7 2355.9,1337.1 2357.0,1336.9 2358.2,1337.0 2359.4,1337.4 2360.6,1338.2 2361.8,1339.3 2363.0,1340.7 2364.2,1342.3 2365.4,1344.3 2366.6,1346.5 2367.8,1349.0 2369.0,1351.6 2370.2,1354.4 2371.4,1357.4 2372.6,1360.4 2373.8,1363.6 2375.0,1366.7 2376.1,1369.9 2377.3,1373.1 2378.5,1376.2 2379.7,1379.2 2380.9,1382.0 2382.1,1384.7 2383.3,1387.2 2384.5,1389.5 2385.7,1391.5 2386.9,1393.3 2388.1,1394.8 2389.3,1395.9 2390.5,1396.8 2391.7,1397.3 2392.9,1397.5 2394.1,1397.4 2395.2,1396.9 2396.4,1396.1 2397.6,1395.0 2398.8,1393.5 2400.0,1391.8 2401.2,1389.8 2402.4,1387.6 2403.6,1385.1 2404.8,1382.4 2406.0,1379.6 2407.2,1376.6 2408.4,1373.5 2409.6,1370.4 2410.8,1367.2 2412.0,1364.0 2413.2,1360.9 2414.4,1357.8 2415.5,1354.8 2416.7,1352.0 2417.9,1349.3 2419.1,1346.9 2420.3,1344.6 2421.5,1342.6 2422.7,1340.9 2423.9,1339.5 2425.1,1338.3 2426.3,1337.5 2427.5,1337.0 2428.7,1336.9 2429.9,1337.1 2431.1,1337.6 2432.3,1338.5 2433.5,1339.6 2434.6,1341.1 2435.8,1342.9 2437.0,1344.9 2438.2,1347.2 2439.4,1349.7 2440.6,1352.4 2441.8,1355.2 2443.0,1358.2 2444.2,1361.3 2445.4,1364.4 2446.6,1367.6 2447.8,1370.8 2449.0,1373.9 2450.2,1377.0 2451.4,1380.0 2452.6,1382.8 2453.7,1385.4 2454.9,1387.9 2456.1,1390.1 2457.3,1392.0 2458.5,1393.7 2459.7,1395.1 2460.9,1396.2 2462.1,1397.0 2463.3,1397.4 2464.5,1397.5 2465.7,1397.3 2466.9,1396.7 2468.1,1395.8 2469.3,1394.6 2470.5,1393.1 2471.7,1391.3 2472.8,1389.2 2474.0,1386.9 2475.2,1384.4 2476.4,1381.7 2477.6,1378.8 2478.8,1375.8 2480.0,1372.7 2481.2,1369.5 2482.4,1366.3" fill="none" stroke="#5a5a8a" stroke-width="2.0" stroke-linejoin="round"/><circle cx="2230.5" cy="1368.6" r="4.1" fill="#fff" stroke="#5a5a8a" stroke-width="1.7"/><circle cx="2374.3" cy="1368.6" r="4.1" fill="#fff" stroke="#5a5a8a" stroke-width="1.7"/><path d="M2000.2 1413.5 V1418 Q2000.2 1421.3 2003.7 1421.3 H2370.2 Q2373.7 1421.3 2373.7 1418 V1413.5 M2187 1421.3 V1428" fill="none" stroke="#4a7fd4" stroke-width="1.2"/><path d="M2375 1413.5 V1418 Q2375 1421.3 2378.5 1421.3 H2478.9 Q2482.4 1421.3 2482.4 1418 V1413.5 M2428.6 1421.3 V1428" fill="none" stroke="#4a7fd4" stroke-width="1.2"/></svg>
<div class="t sf" style="left:1193.6px;top:1195.9px;font-size:26.4px;color:#8fbc7c;"><span class="m">c<sub>t−L+1:t</sub> <svg class="g" viewBox="0 0 10 12" style="width:.6em;height:.72em;vertical-align:-.06em"><path d="M9 1.6H5.4a4.4 4.4 0 0 0 0 8.8H9M1 6H9" fill="none" stroke="currentColor" stroke-width="1.15"/></svg> <svg class="g" viewBox="0 0 12 14" style="width:.62em;height:.72em;vertical-align:-.02em"><path d="M.6 1H6.8a3.1 3.1 0 0 1 0 6.2H3.6M.6 13H4.9M1.6 1V13M3.6 1V13M5 7.2L9.3 13H11.6M6.9 7.2L11.2 13" fill="none" stroke="currentColor" stroke-width=".95"/></svg><sup>D×L</sup></span></div>
<div class="t sf" style="left:1429.7px;top:1264.8px;font-size:24px;color:#8fbc7c;"><span class="m">Q<sup>(t)</sup> <svg class="g" viewBox="0 0 10 12" style="width:.6em;height:.72em;vertical-align:-.06em"><path d="M9 1.6H5.4a4.4 4.4 0 0 0 0 8.8H9M1 6H9" fill="none" stroke="currentColor" stroke-width="1.15"/></svg> <svg class="g" viewBox="0 0 12 14" style="width:.62em;height:.72em;vertical-align:-.02em"><path d="M.6 1H6.8a3.1 3.1 0 0 1 0 6.2H3.6M.6 13H4.9M1.6 1V13M3.6 1V13M5 7.2L9.3 13H11.6M6.9 7.2L11.2 13" fill="none" stroke="currentColor" stroke-width=".95"/></svg><sup>D×W</sup></span></div>
<div class="t sf" style="left:1793.1px;top:1267.8px;font-size:23.2px;color:#222;"><span class="m">Q <svg class="g" viewBox="0 0 10 12" style="width:.6em;height:.72em;vertical-align:-.06em"><path d="M9 1.6H5.4a4.4 4.4 0 0 0 0 8.8H9M1 6H9" fill="none" stroke="currentColor" stroke-width="1.15"/></svg> <svg class="g" viewBox="0 0 12 14" style="width:.62em;height:.72em;vertical-align:-.02em"><path d="M.6 1H6.8a3.1 3.1 0 0 1 0 6.2H3.6M.6 13H4.9M1.6 1V13M3.6 1V13M5 7.2L9.3 13H11.6M6.9 7.2L11.2 13" fill="none" stroke="currentColor" stroke-width=".95"/></svg><sup>D×W</sup></span></div>
<div class="t sf" style="left:2126.0px;top:1265.1px;font-size:23.7px;color:#77779f;"><span class="m">Q<sup>(t+L)</sup> <svg class="g" viewBox="0 0 10 12" style="width:.6em;height:.72em;vertical-align:-.06em"><path d="M9 1.6H5.4a4.4 4.4 0 0 0 0 8.8H9M1 6H9" fill="none" stroke="currentColor" stroke-width="1.15"/></svg> <svg class="g" viewBox="0 0 12 14" style="width:.62em;height:.72em;vertical-align:-.02em"><path d="M.6 1H6.8a3.1 3.1 0 0 1 0 6.2H3.6M.6 13H4.9M1.6 1V13M3.6 1V13M5 7.2L9.3 13H11.6M6.9 7.2L11.2 13" fill="none" stroke="currentColor" stroke-width=".95"/></svg><sup>D×W</sup></span></div>
<div class="t sf" style="left:2320.0px;top:1196.8px;font-size:26.1px;color:#77779f;"><span class="m">c<sub>t+1:t+H</sub> <svg class="g" viewBox="0 0 10 12" style="width:.6em;height:.72em;vertical-align:-.06em"><path d="M9 1.6H5.4a4.4 4.4 0 0 0 0 8.8H9M1 6H9" fill="none" stroke="currentColor" stroke-width="1.15"/></svg> <svg class="g" viewBox="0 0 12 14" style="width:.62em;height:.72em;vertical-align:-.02em"><path d="M.6 1H6.8a3.1 3.1 0 0 1 0 6.2H3.6M.6 13H4.9M1.6 1V13M3.6 1V13M5 7.2L9.3 13H11.6M6.9 7.2L11.2 13" fill="none" stroke="currentColor" stroke-width=".95"/></svg><sup>D×H</sup></span></div>
<div class="t sf" style="left:1764.1px;top:1346.7px;font-size:17.2px;color:#222;"><span class="m">t <span style="font-style:normal">mod</span> W</span></div>
<div class="t sf" style="left:1816.8px;top:1383.4px;font-size:18.2px;color:#222;"><span class="m"><span style="font-style:normal">(</span>t <span style="font-style:normal">+</span> L<span style="font-style:normal">) mod</span> W</span></div>
<div class="t sf" style="left:1353.0px;top:1432.7px;font-size:19.5px;color:#222;"><span class="m"><svg class="g" viewBox="0 0 5 16" style="width:.3em;height:1em;vertical-align:-.22em"><path d="M1.5 1V15H4.5" fill="none" stroke="currentColor" stroke-width="1.1"/></svg>L/W<svg class="g" viewBox="0 0 5 16" style="width:.3em;height:1em;vertical-align:-.22em"><path d="M3.5 1V15H.5" fill="none" stroke="currentColor" stroke-width="1.1"/></svg> <span style="font-style:normal">×</span> W</span></div>
<div class="t sf" style="left:1599.6px;top:1434.6px;font-size:17.2px;color:#222;"><span class="m">L <span style="font-style:normal">mod</span> W</span></div>
<div class="t sf" style="left:2145.5px;top:1432.7px;font-size:19.5px;color:#222;"><span class="m"><svg class="g" viewBox="0 0 5 16" style="width:.3em;height:1em;vertical-align:-.22em"><path d="M1.5 1V15H4.5" fill="none" stroke="currentColor" stroke-width="1.1"/></svg>H/W<svg class="g" viewBox="0 0 5 16" style="width:.3em;height:1em;vertical-align:-.22em"><path d="M3.5 1V15H.5" fill="none" stroke="currentColor" stroke-width="1.1"/></svg> <span style="font-style:normal">×</span> W</span></div>
<div class="t sf" style="left:2391.8px;top:1434.5px;font-size:17.3px;color:#222;"><span class="m">H <span style="font-style:normal">mod</span> W</span></div>
<div class="t ss" style="left:1614.9px;top:1216.1px;font-size:15.3px;color:#111;">1. Align (Roll)</div>
<div class="t ss" style="left:1977.9px;top:1218.0px;font-size:15.3px;color:#111;">1. Align (Roll)</div>
<div class="t ss" style="left:1393.3px;top:1307.2px;font-size:15.9px;color:#111;">2. Repeat and Concat</div>
<div class="t ss" style="left:2121.4px;top:1307.2px;font-size:15.9px;color:#111;">2. Repeat and Concat</div>
<svg width="3780" height="2268" viewBox="0 0 3780 2268" style="left:0;top:0"><rect x="1214.0" y="1652.9" width="286.4" height="189.9" fill="#fff" stroke="#1a1a1a" stroke-width="1.5"/><path d="M1214.0 1675.2h-3.2M1214.0 1698.5h-3.2M1214.0 1722.7h-3.2M1214.0 1746.7h-3.2M1214.0 1770.8h-3.2M1214.0 1795.3h-3.2M1214.0 1819.2h-3.2M1226.3 1842.9v3.2M1281.3 1842.9v3.2M1336.3 1842.9v3.2M1390.7 1842.9v3.2M1445.7 1842.9v3.2" stroke="#1a1a1a" stroke-width="1.1" fill="none"/><polyline points="1226.3,1833.2 1229.9,1833.8 1234.6,1828.3 1238.7,1820.0 1242.0,1818.1 1247.0,1809.0 1251.1,1802.2 1255.2,1798.1 1258.5,1798.1 1262.1,1791.2 1265.7,1777.4 1270.3,1767.8 1275.8,1755.4 1281.3,1748.6 1286.8,1743.1 1292.3,1736.2 1296.4,1730.7 1301.4,1719.7 1305.2,1700.5 1309.6,1678.5 1313.5,1667.5 1317.1,1666.9 1320.6,1666.4 1323.9,1668.9 1328.1,1665.8 1331.6,1666.4 1334.9,1663.4 1338.2,1661.4 1341.8,1663.4 1345.9,1667.5 1349.2,1675.7 1352.8,1684.0 1356.9,1692.2 1362.4,1708.7 1367.9,1723.8 1373.4,1739.0 1378.9,1751.3 1384.4,1758.7 1389.9,1762.3 1394.0,1767.0 1399.5,1771.4 1404.2,1774.7 1408.6,1781.6 1413.3,1785.7 1417.4,1788.4 1421.5,1792.6 1425.6,1794.5 1429.8,1797.5 1433.9,1798.1 1438.0,1800.3 1443.5,1802.2 1449.0,1809.9 1453.1,1811.0 1458.6,1813.7 1464.1,1816.5 1469.6,1820.9 1473.7,1824.7 1477.3,1825.5 1481.2,1830.2 1484.7,1833.8 1487.5,1833.8" fill="none" stroke="#2878b5" stroke-width="1.25" stroke-linejoin="round"/><rect x="1547.4" y="1652.9" width="287.0" height="189.9" fill="#fff" stroke="#1a1a1a" stroke-width="1.5"/><path d="M1547.4 1673.5h-3.2M1547.4 1701.8h-3.2M1547.4 1730.2h-3.2M1547.4 1758.7h-3.2M1547.4 1786.5h-3.2M1547.4 1814.8h-3.2M1559.8 1842.9v3.2M1596.6 1842.9v3.2M1633.2 1842.9v3.2M1669.5 1842.9v3.2M1706.0 1842.9v3.2M1742.3 1842.9v3.2M1778.9 1842.9v3.2M1815.1 1842.9v3.2" stroke="#1a1a1a" stroke-width="1.1" fill="none"/><polyline points="1559.8,1820.6 1562.5,1811.8 1565.3,1811.0 1567.2,1814.0 1569.9,1812.3 1572.7,1813.2 1574.6,1813.7 1578.2,1803.6 1581.8,1795.3 1585.6,1791.2 1589.2,1771.9 1592.8,1765.1 1596.1,1760.9 1600.2,1755.4 1603.8,1750.5 1607.1,1751.3 1609.8,1741.7 1613.1,1739.0 1616.7,1734.8 1620.2,1728.0 1623.5,1727.4 1626.3,1722.5 1629.6,1732.9 1633.2,1728.0 1637.3,1723.8 1642.2,1712.8 1645.5,1715.6 1648.8,1719.7 1651.6,1725.8 1655.2,1724.7 1658.7,1729.3 1662.0,1732.1 1666.2,1732.1 1669.7,1733.5 1673.0,1735.7 1677.1,1745.8 1681.3,1751.3 1685.4,1757.6 1689.0,1760.9 1692.8,1770.6 1696.4,1769.2 1700.5,1769.2 1704.6,1762.3 1708.2,1754.1 1711.5,1737.6 1715.6,1722.5 1719.8,1703.2 1723.9,1692.2 1728.0,1682.6 1732.1,1671.6 1735.7,1669.7 1740.4,1662.5 1743.9,1668.9 1747.2,1675.7 1751.4,1690.9 1755.5,1719.7 1760.4,1743.1 1763.7,1743.9 1767.0,1750.0 1770.6,1771.9 1773.4,1792.6 1776.1,1800.8 1778.9,1813.2 1782.4,1822.8 1785.7,1826.9 1787.9,1831.0 1789.8,1826.9 1791.8,1833.8 1794.0,1824.2 1797.3,1825.5 1800.0,1822.8 1803.6,1831.0 1806.3,1820.0 1809.9,1825.5 1813.2,1820.0 1816.5,1818.7 1820.9,1822.0" fill="none" stroke="#2878b5" stroke-width="1.25" stroke-linejoin="round"/><rect x="1881.2" y="1652.9" width="285.9" height="189.9" fill="#fff" stroke="#1a1a1a" stroke-width="1.5"/><path d="M1881.2 1666.1h-3.2M1881.2 1701.8h-3.2M1881.2 1738.1h-3.2M1881.2 1774.7h-3.2M1881.2 1811.0h-3.2M1893.6 1842.9v3.2M1929.9 1842.9v3.2M1965.9 1842.9v3.2M2002.7 1842.9v3.2M2038.7 1842.9v3.2M2075.6 1842.9v3.2M2112.1 1842.9v3.2M2148.4 1842.9v3.2" stroke="#1a1a1a" stroke-width="1.1" fill="none"/><polyline points="1893.6,1833.2 1899.1,1833.5 1904.6,1833.0 1910.1,1833.2 1914.2,1832.4 1918.3,1833.0 1922.5,1830.8 1926.6,1831.3 1930.7,1832.4 1936.2,1829.7 1940.3,1832.4 1943.9,1831.3 1948.6,1832.4 1952.7,1833.2 1956.8,1830.2 1959.6,1831.9 1961.5,1829.7 1965.1,1833.8 1967.8,1822.8 1971.4,1813.2 1974.7,1803.6 1978.3,1791.2 1981.6,1777.4 1985.1,1758.2 1988.4,1741.7 1992.0,1725.2 1995.3,1708.7 1998.9,1700.5 2002.7,1689.5 2006.3,1681.2 2009.9,1673.5 2013.2,1673.0 2017.3,1668.9 2020.0,1666.1 2022.8,1662.5 2024.7,1666.1 2028.3,1667.5 2032.4,1669.4 2035.7,1666.1 2037.9,1664.7 2040.7,1670.8 2044.0,1675.7 2046.7,1678.5 2050.3,1685.4 2054.4,1699.1 2057.7,1703.2 2061.3,1712.8 2064.8,1722.5 2068.1,1734.8 2070.9,1750.0 2074.2,1760.9 2076.9,1771.9 2079.1,1782.9 2081.9,1798.1 2085.2,1810.4 2088.8,1822.8 2092.3,1829.1 2096.2,1831.9 2101.1,1831.9 2106.6,1832.4 2112.1,1831.9 2117.6,1833.0 2123.1,1832.1 2128.6,1832.4 2136.9,1831.9 2145.1,1832.4 2153.9,1832.4" fill="none" stroke="#2878b5" stroke-width="1.25" stroke-linejoin="round"/><rect x="2213.3" y="1657.9" width="280.4" height="185.0" fill="#fff" stroke="#1a1a1a" stroke-width="1.5"/><path d="M2213.3 1662.0h-3.2M2213.3 1692.2h-3.2M2213.3 1723.3h-3.2M2213.3 1753.8h-3.2M2213.3 1784.9h-3.2M2213.3 1815.4h-3.2M2225.7 1842.9v3.2M2263.9 1842.9v3.2M2301.8 1842.9v3.2M2340.3 1842.9v3.2M2377.9 1842.9v3.2M2416.4 1842.9v3.2M2454.3 1842.9v3.2M2492.8 1842.9v3.2" stroke="#1a1a1a" stroke-width="1.1" fill="none"/><polyline points="2226.2,1800.0 2228.1,1782.9 2229.8,1708.7 2231.1,1686.7 2233.1,1722.5 2235.3,1777.4 2237.7,1787.1 2240.8,1769.2 2244.6,1757.6 2247.6,1766.4 2250.1,1787.1 2252.3,1792.6 2255.1,1777.4 2257.8,1776.1 2260.0,1793.9 2262.8,1820.0 2265.0,1777.4 2266.6,1708.7 2267.7,1683.2 2269.4,1717.0 2271.6,1782.9 2274.3,1800.0 2277.6,1785.7 2281.2,1771.4 2284.7,1777.4 2286.7,1798.1 2288.6,1804.4 2290.8,1788.4 2293.0,1782.9 2295.7,1804.9 2298.5,1826.9 2299.6,1826.9 2301.2,1777.4 2302.6,1722.5 2304.0,1693.6 2305.9,1722.5 2308.1,1777.4 2310.0,1796.7 2312.2,1796.7 2315.0,1771.9 2318.3,1760.9 2321.6,1769.2 2323.8,1789.8 2326.0,1789.8 2328.7,1767.8 2331.5,1771.9 2334.0,1793.9 2336.2,1806.3 2338.1,1750.0 2339.7,1681.2 2340.8,1673.0 2342.5,1708.7 2345.2,1760.9 2348.0,1770.6 2350.7,1750.0 2354.0,1734.3 2357.3,1739.0 2359.5,1755.4 2361.7,1760.4 2364.5,1740.3 2367.2,1741.7 2370.0,1763.7 2372.4,1781.6 2374.6,1736.2 2376.0,1681.2 2377.4,1666.9 2379.3,1695.0 2381.0,1736.2 2383.4,1748.6 2385.6,1739.0 2388.4,1714.2 2391.1,1702.7 2393.9,1714.2 2396.6,1728.0 2398.5,1730.2 2400.7,1715.6 2402.9,1715.6 2405.7,1736.2 2408.4,1769.2 2411.7,1793.1 2415.0,1771.9 2418.6,1744.5 2422.2,1717.0 2425.5,1703.2 2428.8,1707.3 2431.5,1718.3 2434.3,1726.6 2437.0,1708.7 2439.2,1708.7 2442.0,1736.2 2444.7,1782.9 2448.0,1821.4 2451.3,1835.2 2454.3,1804.9 2457.1,1758.2 2459.8,1733.5 2462.6,1727.1 2465.3,1739.0 2469.5,1753.2 2473.6,1743.9 2476.3,1750.0 2478.3,1763.7 2480.5,1784.9" fill="none" stroke="#2878b5" stroke-width="1.25" stroke-linejoin="round"/><rect x="1212.6" y="1928.2" width="280.4" height="185.5" fill="#fff" stroke="#1a1a1a" stroke-width="1.5"/><path d="M1212.6 1933.7h-3.2M1212.6 1954.9h-3.2M1212.6 1976.0h-3.2M1212.6 1997.5h-3.2M1212.6 2018.9h-3.2M1212.6 2040.3h-3.2M1212.6 2061.5h-3.2M1212.6 2082.7h-3.2M1212.6 2104.1h-3.2M1225.8 2113.7v3.2M1263.5 2113.7v3.2M1301.4 2113.7v3.2M1339.6 2113.7v3.2M1377.8 2113.7v3.2M1416.0 2113.7v3.2M1453.9 2113.7v3.2M1492.2 2113.7v3.2" stroke="#1a1a1a" stroke-width="1.1" fill="none"/><polyline points="1225.8,2002.4 1227.2,1970.0 1228.8,1943.0 1231.0,1952.1 1233.8,1971.9 1236.5,1967.8 1238.7,1964.5 1241.5,1940.3 1243.7,1970.0 1245.6,2025.0 1247.5,2071.7 1249.7,2071.7 1252.5,2037.3 1254.7,2033.7 1256.9,2052.4 1259.1,2068.9 1260.7,2082.7 1262.1,2025.0 1264.0,1964.5 1265.7,1937.5 1267.6,1953.5 1270.3,1961.7 1273.9,1963.1 1276.7,1953.5 1278.3,1943.9 1280.0,1970.0 1281.9,2030.4 1283.8,2071.7 1286.0,2073.1 1288.7,2038.7 1290.9,2033.7 1293.1,2052.4 1295.3,2068.9 1297.3,2084.9 1298.6,2025.0 1300.3,1970.0 1301.9,1943.0 1304.1,1956.2 1306.9,1965.0 1310.2,1963.1 1312.9,1952.1 1315.1,1950.7 1316.8,1983.7 1318.4,2038.7 1320.1,2074.4 1322.3,2073.1 1325.0,2038.7 1327.2,2034.6 1329.4,2052.4 1331.6,2067.6 1333.8,2083.2 1335.2,2025.0 1336.8,1970.0 1338.5,1945.8 1340.4,1961.7 1343.2,1969.2 1346.5,1967.2 1349.2,1956.2 1350.9,1951.6 1352.8,1983.7 1354.7,2038.7 1356.6,2073.1 1358.8,2071.7 1361.3,2040.1 1363.8,2034.6 1365.7,2052.4 1367.9,2068.9 1370.4,2082.7 1371.8,2025.0 1373.4,1970.0 1374.8,1951.6 1376.7,1964.5 1379.5,1973.3 1383.0,1972.7 1385.8,1963.1 1387.7,1962.3 1389.4,1992.0 1391.0,2038.7 1392.6,2070.3 1394.8,2073.1 1397.6,2038.7 1399.8,2034.6 1401.4,2035.9 1403.1,2063.4 1405.3,2090.9 1406.9,2106.0 1408.0,2031.3 1409.7,2056.6 1411.3,2056.6 1413.3,2068.9 1415.5,2074.4 1417.9,2077.2 1420.7,2068.9 1423.4,2053.8 1425.1,2056.6 1426.7,2051.6 1428.4,2068.9 1430.0,2080.8 1432.2,2068.9 1434.4,2041.4 1436.6,2033.7 1438.8,2041.4 1440.5,2068.9 1442.1,2093.7 1443.5,2104.7 1444.9,2031.8 1446.5,2060.7 1448.2,2062.1 1450.4,2074.4 1452.6,2078.6 1455.3,2077.2 1458.1,2066.2 1460.3,2056.6 1461.9,2057.9 1463.3,2053.8 1464.7,2085.4 1466.3,2101.4 1468.5,2079.9 1470.7,2046.9 1472.9,2035.9 1474.6,2037.3 1476.8,2057.9 1478.4,2066.2 1480.1,2081.3" fill="none" stroke="#2878b5" stroke-width="1.25" stroke-linejoin="round"/><rect x="1546.0" y="1928.2" width="280.9" height="185.5" fill="#fff" stroke="#1a1a1a" stroke-width="1.5"/><path d="M1546.0 1930.1h-3.2M1546.0 1962.3h-3.2M1546.0 1994.2h-3.2M1546.0 2025.8h-3.2M1546.0 2057.9h-3.2M1546.0 2089.8h-3.2M1558.9 2113.7v3.2M1596.6 2113.7v3.2M1634.5 2113.7v3.2M1673.0 2113.7v3.2M1711.0 2113.7v3.2M1749.2 2113.7v3.2M1787.1 2113.7v3.2M1825.6 2113.7v3.2" stroke="#1a1a1a" stroke-width="1.1" fill="none"/><polyline points="1558.9,2024.4 1561.7,2030.4 1564.4,2033.7 1566.4,2019.5 1567.7,2011.2 1569.9,2025.0 1571.6,2025.8 1573.0,1983.7 1574.6,1949.4 1576.8,1944.7 1578.7,1950.7 1580.7,1972.7 1582.3,1956.2 1583.7,1941.9 1585.1,1950.7 1587.3,1970.0 1588.9,2011.2 1590.6,2033.2 1592.2,2035.9 1593.9,2025.0 1595.2,2019.5 1597.4,2027.7 1599.4,2029.1 1601.6,2023.6 1603.8,2025.0 1606.0,2038.7 1608.2,2052.4 1609.8,2068.9 1611.5,2074.4 1613.1,2075.8 1615.3,2090.9 1617.5,2095.6 1619.7,2085.4 1622.2,2068.9 1624.9,2055.2 1627.7,2044.2 1629.6,2030.4 1631.2,2020.8 1632.6,2019.5 1634.0,2029.1 1635.9,2027.7 1637.8,2025.0 1639.5,2008.5 1641.4,2002.4 1642.8,2016.7 1644.4,2028.2 1645.8,1983.7 1647.5,1950.7 1649.1,1942.5 1651.0,1942.5 1652.4,1959.0 1653.8,1975.5 1655.2,1948.0 1657.1,1937.5 1658.7,1948.0 1660.4,1983.7 1662.0,2019.5 1663.7,2030.4 1665.6,2033.7 1667.5,2017.3 1669.2,2018.1 1670.8,2025.0 1673.0,2024.4 1676.3,2022.8 1678.5,2038.7 1680.7,2057.9 1682.6,2068.9 1684.6,2074.4 1686.8,2085.4 1689.5,2094.2 1692.3,2082.7 1695.0,2063.4 1697.8,2052.4 1700.5,2042.8 1702.7,2030.4 1704.9,2019.5 1706.6,2025.0 1708.8,2030.4 1711.0,2029.1 1712.6,2014.0 1714.3,2015.3 1715.9,2030.4 1717.6,2038.1 1718.7,1983.7 1720.3,1950.7 1722.0,1943.0 1723.6,1956.2 1725.3,1960.4 1726.9,1965.9 1728.5,1950.7 1729.9,1944.7 1731.8,1952.1 1733.5,1983.7 1735.1,2019.5 1736.8,2033.2 1738.4,2030.4 1740.1,2024.4 1741.7,2022.2 1743.9,2029.1 1746.1,2029.9 1748.3,2030.4 1750.5,2040.1 1752.7,2057.9 1754.9,2075.8 1757.1,2079.9 1759.3,2088.2 1761.5,2097.8 1763.2,2101.1 1765.1,2092.3 1767.0,2077.2 1769.2,2067.6 1772.0,2057.9 1774.2,2044.2 1776.1,2030.4 1778.0,2023.6 1779.7,2029.1 1781.9,2031.8 1784.6,2033.7 1786.8,2041.4 1789.0,2060.7 1791.2,2082.7 1793.4,2089.5 1795.6,2098.6 1797.8,2104.1 1800.0,2105.5 1801.7,2096.4 1803.6,2079.9 1805.5,2068.9 1807.7,2062.1 1809.9,2055.2 1811.6,2041.4 1813.2,2026.3" fill="none" stroke="#2878b5" stroke-width="1.25" stroke-linejoin="round"/><rect x="1880.4" y="1928.2" width="279.3" height="185.5" fill="#fff" stroke="#1a1a1a" stroke-width="1.5"/><path d="M1880.4 1948.0h-3.2M1880.4 1973.5h-3.2M1880.4 1998.8h-3.2M1880.4 2024.1h-3.2M1880.4 2049.7h-3.2M1880.4 2075.3h-3.2M1880.4 2100.8h-3.2M1892.2 2113.7v3.2M1930.2 2113.7v3.2M1968.4 2113.7v3.2M2006.6 2113.7v3.2M2044.8 2113.7v3.2M2083.0 2113.7v3.2M2120.9 2113.7v3.2M2158.9 2113.7v3.2" stroke="#1a1a1a" stroke-width="1.1" fill="none"/><polyline points="1892.2,1996.1 1894.4,1996.9 1896.1,1991.4 1898.3,1992.0 1900.5,1978.8 1902.1,2000.2 1904.9,2011.8 1906.5,1970.0 1908.2,1938.4 1909.8,1950.7 1911.5,1963.9 1913.7,1967.2 1916.4,1974.1 1918.6,1963.1 1920.3,1981.0 1922.5,2005.7 1924.7,2025.0 1926.9,2032.6 1928.5,2016.7 1929.6,1994.7 1931.8,1996.1 1934.0,1994.2 1936.2,1996.1 1937.3,1979.6 1939.0,2005.7 1941.2,2017.3 1942.8,1970.0 1944.5,1945.2 1946.1,1956.2 1947.8,1965.9 1950.0,1974.1 1952.7,1979.6 1954.9,1966.7 1956.5,1978.2 1958.7,2005.7 1960.9,2027.7 1963.1,2038.1 1964.8,2019.5 1965.9,1998.3 1968.1,1998.8 1970.3,1997.5 1972.5,2000.2 1973.6,1985.9 1975.2,2008.5 1977.4,2019.5 1979.1,1978.2 1980.7,1954.9 1982.9,1961.7 1984.6,1971.3 1986.8,1978.2 1989.5,1982.3 1991.2,1969.2 1992.8,1983.7 1995.0,2011.2 1997.2,2033.2 1999.4,2045.6 2001.1,2025.0 2002.7,2003.0 2004.9,1999.7 2007.1,2000.2 2008.8,1997.5 2010.4,1987.0 2012.1,2008.5 2014.3,2020.0 2015.9,1978.2 2018.7,1960.9 2020.9,1970.0 2023.1,1974.1 2025.8,1983.2 2028.0,1972.7 2029.7,1986.5 2031.9,2019.5 2034.1,2038.7 2036.3,2046.4 2037.9,2025.0 2039.6,1998.8 2041.8,1995.3 2044.0,1996.1 2046.2,1985.1 2047.8,2003.0 2050.0,2013.1 2051.7,1970.0 2053.9,1951.6 2056.1,1960.4 2057.7,1971.3 2059.9,1974.1 2062.6,1981.0 2064.8,1967.8 2066.5,1986.5 2068.7,2025.0 2071.4,2046.9 2074.2,2056.6 2077.5,2059.3 2080.8,2062.1 2084.1,2071.7 2086.8,2085.4 2089.6,2097.8 2091.8,2102.5 2094.0,2097.8 2096.7,2084.0 2099.5,2077.2 2102.8,2067.6 2106.6,2060.7 2110.8,2061.5 2114.9,2062.9 2117.6,2065.6 2120.4,2074.4 2123.1,2085.4 2125.9,2099.2 2128.1,2105.2 2130.8,2104.1 2133.0,2093.7 2135.2,2081.3 2138.0,2070.3 2140.7,2062.1 2143.5,2057.9 2145.7,2056.6 2147.0,2046.9" fill="none" stroke="#2878b5" stroke-width="1.25" stroke-linejoin="round"/><rect x="2213.3" y="1928.2" width="280.4" height="185.5" fill="#fff" stroke="#1a1a1a" stroke-width="1.5"/><path d="M2213.3 1941.9h-3.2M2213.3 1976.6h-3.2M2213.3 2011.2h-3.2M2213.3 2046.4h-3.2M2213.3 2080.5h-3.2M2225.7 2113.7v3.2M2263.9 2113.7v3.2M2301.8 2113.7v3.2M2340.3 2113.7v3.2M2377.9 2113.7v3.2M2416.4 2113.7v3.2M2454.3 2113.7v3.2M2492.8 2113.7v3.2" stroke="#1a1a1a" stroke-width="1.1" fill="none"/><polyline points="2226.2,2031.3 2228.1,2011.2 2229.8,1974.1 2232.0,1968.6 2233.6,1954.3 2235.3,1965.9 2237.5,1961.7 2239.7,1948.0 2241.3,1945.8 2243.0,1959.0 2244.6,1981.0 2246.3,1989.8 2247.9,1956.2 2250.1,1949.4 2251.8,1970.0 2254.0,1989.2 2256.2,2005.7 2258.4,2016.7 2261.1,2025.0 2263.3,2008.5 2265.2,1964.5 2267.2,1961.7 2268.8,1959.0 2270.2,1948.0 2272.1,1960.4 2274.3,1959.0 2276.0,1943.9 2278.2,1941.1 2279.8,1953.5 2281.5,1974.1 2283.1,1983.2 2284.7,1953.5 2286.9,1944.7 2288.6,1964.5 2290.8,1983.7 2293.0,2005.7 2295.2,2020.8 2297.4,2027.1 2299.6,2019.5 2301.8,1971.3 2304.5,1972.2 2306.5,1960.4 2308.4,1970.0 2310.6,1967.2 2312.8,1949.4 2315.0,1949.4 2316.6,1964.5 2318.3,1983.7 2319.4,1992.8 2321.0,1972.2 2323.2,1972.7 2324.9,1992.0 2327.6,2005.7 2330.4,2018.9 2333.7,2029.1 2336.4,2005.7 2338.4,1967.2 2340.8,1964.5 2343.0,1949.4 2344.7,1960.4 2346.3,1961.7 2348.5,1941.9 2350.7,1948.0 2352.9,1959.0 2354.6,1981.0 2356.2,1981.0 2357.9,1949.4 2360.1,1947.4 2361.7,1970.0 2363.9,1992.0 2366.1,2005.7 2368.3,2013.4 2370.5,2018.1 2372.7,2003.0 2374.9,1960.4 2377.1,1959.0 2379.3,1945.8 2381.0,1957.6 2382.9,1958.4 2384.8,1941.1 2387.0,1937.8 2389.2,1956.2 2391.1,1980.1 2392.8,1980.1 2394.7,1948.0 2396.6,1945.2 2398.5,1967.2 2401.3,1989.2 2404.0,2005.7 2406.8,2019.5 2409.5,2030.4 2411.2,2033.7 2412.8,2040.1 2415.0,2052.4 2417.2,2055.7 2419.4,2057.4 2421.6,2046.9 2424.4,2040.1 2426.6,2035.9 2428.2,2031.8 2429.9,2016.7 2431.5,2000.2 2433.2,1994.7 2434.8,2008.5 2436.5,2020.0 2438.1,2020.8 2439.8,2033.2 2442.0,2044.2 2444.7,2057.9 2447.5,2077.2 2450.2,2093.7 2452.4,2102.5 2454.6,2101.9 2456.8,2105.2 2458.5,2097.8 2460.7,2097.8 2462.9,2095.0 2465.1,2101.9 2467.3,2103.8 2470.0,2100.5 2472.2,2090.9 2475.0,2077.2 2477.7,2063.4 2480.5,2048.9" fill="none" stroke="#2878b5" stroke-width="1.25" stroke-linejoin="round"/></svg>
<div class="t ss ar" style="left:1208.5px;top:1670.6px;font-size:9.3px;color:#1a1a1a;letter-spacing:-.2px;">0.8</div>
<div class="t ss ar" style="left:1208.5px;top:1694.0px;font-size:9.3px;color:#1a1a1a;letter-spacing:-.2px;">0.6</div>
<div class="t ss ar" style="left:1208.5px;top:1718.2px;font-size:9.3px;color:#1a1a1a;letter-spacing:-.2px;">0.4</div>
<div class="t ss ar" style="left:1208.5px;top:1742.1px;font-size:9.3px;color:#1a1a1a;letter-spacing:-.2px;">0.2</div>
<div class="t ss ar" style="left:1208.5px;top:1766.3px;font-size:9.3px;color:#1a1a1a;letter-spacing:-.2px;">0.0</div>
<div class="t ss ar" style="left:1208.5px;top:1790.7px;font-size:9.3px;color:#1a1a1a;letter-spacing:-.2px;">−0.2</div>
<div class="t ss ar" style="left:1208.5px;top:1814.6px;font-size:9.3px;color:#1a1a1a;letter-spacing:-.2px;">−0.4</div>
<div class="t ss ac" style="left:1226.3px;top:1847.9px;font-size:9.3px;color:#1a1a1a;letter-spacing:-.2px;">0</div>
<div class="t ss ac" style="left:1281.3px;top:1847.9px;font-size:9.3px;color:#1a1a1a;letter-spacing:-.2px;">20</div>
<div class="t ss ac" style="left:1336.3px;top:1847.9px;font-size:9.3px;color:#1a1a1a;letter-spacing:-.2px;">40</div>
<div class="t ss ac" style="left:1390.7px;top:1847.9px;font-size:9.3px;color:#1a1a1a;letter-spacing:-.2px;">60</div>
<div class="t ss ac" style="left:1445.7px;top:1847.9px;font-size:9.3px;color:#1a1a1a;letter-spacing:-.2px;">80</div>
<div class="t ss ar" style="left:1541.9px;top:1669.0px;font-size:9.3px;color:#1a1a1a;letter-spacing:-.2px;">−0.1</div>
<div class="t ss ar" style="left:1541.9px;top:1697.3px;font-size:9.3px;color:#1a1a1a;letter-spacing:-.2px;">−0.2</div>
<div class="t ss ar" style="left:1541.9px;top:1725.6px;font-size:9.3px;color:#1a1a1a;letter-spacing:-.2px;">−0.3</div>
<div class="t ss ar" style="left:1541.9px;top:1754.2px;font-size:9.3px;color:#1a1a1a;letter-spacing:-.2px;">−0.4</div>
<div class="t ss ar" style="left:1541.9px;top:1781.9px;font-size:9.3px;color:#1a1a1a;letter-spacing:-.2px;">−0.5</div>
<div class="t ss ar" style="left:1541.9px;top:1810.2px;font-size:9.3px;color:#1a1a1a;letter-spacing:-.2px;">−0.6</div>
<div class="t ss ac" style="left:1559.8px;top:1847.9px;font-size:9.3px;color:#1a1a1a;letter-spacing:-.2px;">0</div>
<div class="t ss ac" style="left:1596.6px;top:1847.9px;font-size:9.3px;color:#1a1a1a;letter-spacing:-.2px;">20</div>
<div class="t ss ac" style="left:1633.2px;top:1847.9px;font-size:9.3px;color:#1a1a1a;letter-spacing:-.2px;">40</div>
<div class="t ss ac" style="left:1669.5px;top:1847.9px;font-size:9.3px;color:#1a1a1a;letter-spacing:-.2px;">60</div>
<div class="t ss ac" style="left:1706.0px;top:1847.9px;font-size:9.3px;color:#1a1a1a;letter-spacing:-.2px;">80</div>
<div class="t ss ac" style="left:1742.3px;top:1847.9px;font-size:9.3px;color:#1a1a1a;letter-spacing:-.2px;">100</div>
<div class="t ss ac" style="left:1778.9px;top:1847.9px;font-size:9.3px;color:#1a1a1a;letter-spacing:-.2px;">120</div>
<div class="t ss ac" style="left:1815.1px;top:1847.9px;font-size:9.3px;color:#1a1a1a;letter-spacing:-.2px;">140</div>
<div class="t ss ar" style="left:1875.7px;top:1661.5px;font-size:9.3px;color:#1a1a1a;letter-spacing:-.2px;">1.5</div>
<div class="t ss ar" style="left:1875.7px;top:1697.3px;font-size:9.3px;color:#1a1a1a;letter-spacing:-.2px;">1.0</div>
<div class="t ss ar" style="left:1875.7px;top:1733.6px;font-size:9.3px;color:#1a1a1a;letter-spacing:-.2px;">0.5</div>
<div class="t ss ar" style="left:1875.7px;top:1770.1px;font-size:9.3px;color:#1a1a1a;letter-spacing:-.2px;">0.0</div>
<div class="t ss ar" style="left:1875.7px;top:1806.4px;font-size:9.3px;color:#1a1a1a;letter-spacing:-.2px;">−0.5</div>
<div class="t ss ac" style="left:1893.6px;top:1847.9px;font-size:9.3px;color:#1a1a1a;letter-spacing:-.2px;">0</div>
<div class="t ss ac" style="left:1929.9px;top:1847.9px;font-size:9.3px;color:#1a1a1a;letter-spacing:-.2px;">20</div>
<div class="t ss ac" style="left:1965.9px;top:1847.9px;font-size:9.3px;color:#1a1a1a;letter-spacing:-.2px;">40</div>
<div class="t ss ac" style="left:2002.7px;top:1847.9px;font-size:9.3px;color:#1a1a1a;letter-spacing:-.2px;">60</div>
<div class="t ss ac" style="left:2038.7px;top:1847.9px;font-size:9.3px;color:#1a1a1a;letter-spacing:-.2px;">80</div>
<div class="t ss ac" style="left:2075.6px;top:1847.9px;font-size:9.3px;color:#1a1a1a;letter-spacing:-.2px;">100</div>
<div class="t ss ac" style="left:2112.1px;top:1847.9px;font-size:9.3px;color:#1a1a1a;letter-spacing:-.2px;">120</div>
<div class="t ss ac" style="left:2148.4px;top:1847.9px;font-size:9.3px;color:#1a1a1a;letter-spacing:-.2px;">140</div>
<div class="t ss ar" style="left:2207.8px;top:1657.4px;font-size:9.3px;color:#1a1a1a;letter-spacing:-.2px;">1.5</div>
<div class="t ss ar" style="left:2207.8px;top:1687.7px;font-size:9.3px;color:#1a1a1a;letter-spacing:-.2px;">1.0</div>
<div class="t ss ar" style="left:2207.8px;top:1718.7px;font-size:9.3px;color:#1a1a1a;letter-spacing:-.2px;">0.5</div>
<div class="t ss ar" style="left:2207.8px;top:1749.2px;font-size:9.3px;color:#1a1a1a;letter-spacing:-.2px;">0.0</div>
<div class="t ss ar" style="left:2207.8px;top:1780.3px;font-size:9.3px;color:#1a1a1a;letter-spacing:-.2px;">−0.5</div>
<div class="t ss ar" style="left:2207.8px;top:1810.8px;font-size:9.3px;color:#1a1a1a;letter-spacing:-.2px;">−1.0</div>
<div class="t ss ac" style="left:2225.7px;top:1847.9px;font-size:9.3px;color:#1a1a1a;letter-spacing:-.2px;">0</div>
<div class="t ss ac" style="left:2263.9px;top:1847.9px;font-size:9.3px;color:#1a1a1a;letter-spacing:-.2px;">25</div>
<div class="t ss ac" style="left:2301.8px;top:1847.9px;font-size:9.3px;color:#1a1a1a;letter-spacing:-.2px;">50</div>
<div class="t ss ac" style="left:2340.3px;top:1847.9px;font-size:9.3px;color:#1a1a1a;letter-spacing:-.2px;">75</div>
<div class="t ss ac" style="left:2377.9px;top:1847.9px;font-size:9.3px;color:#1a1a1a;letter-spacing:-.2px;">100</div>
<div class="t ss ac" style="left:2416.4px;top:1847.9px;font-size:9.3px;color:#1a1a1a;letter-spacing:-.2px;">125</div>
<div class="t ss ac" style="left:2454.3px;top:1847.9px;font-size:9.3px;color:#1a1a1a;letter-spacing:-.2px;">150</div>
<div class="t ss ac" style="left:2492.8px;top:1847.9px;font-size:9.3px;color:#1a1a1a;letter-spacing:-.2px;">175</div>
<div class="t ss ar" style="left:1207.1px;top:1929.1px;font-size:9.3px;color:#1a1a1a;letter-spacing:-.2px;">0.8</div>
<div class="t ss ar" style="left:1207.1px;top:1950.3px;font-size:9.3px;color:#1a1a1a;letter-spacing:-.2px;">0.6</div>
<div class="t ss ar" style="left:1207.1px;top:1971.5px;font-size:9.3px;color:#1a1a1a;letter-spacing:-.2px;">0.4</div>
<div class="t ss ar" style="left:1207.1px;top:1992.9px;font-size:9.3px;color:#1a1a1a;letter-spacing:-.2px;">0.2</div>
<div class="t ss ar" style="left:1207.1px;top:2014.3px;font-size:9.3px;color:#1a1a1a;letter-spacing:-.2px;">0.0</div>
<div class="t ss ar" style="left:1207.1px;top:2035.8px;font-size:9.3px;color:#1a1a1a;letter-spacing:-.2px;">−0.2</div>
<div class="t ss ar" style="left:1207.1px;top:2056.9px;font-size:9.3px;color:#1a1a1a;letter-spacing:-.2px;">−0.4</div>
<div class="t ss ar" style="left:1207.1px;top:2078.1px;font-size:9.3px;color:#1a1a1a;letter-spacing:-.2px;">−0.6</div>
<div class="t ss ar" style="left:1207.1px;top:2099.5px;font-size:9.3px;color:#1a1a1a;letter-spacing:-.2px;">−0.8</div>
<div class="t ss ac" style="left:1225.8px;top:2118.8px;font-size:9.3px;color:#1a1a1a;letter-spacing:-.2px;">0</div>
<div class="t ss ac" style="left:1263.5px;top:2118.8px;font-size:9.3px;color:#1a1a1a;letter-spacing:-.2px;">25</div>
<div class="t ss ac" style="left:1301.4px;top:2118.8px;font-size:9.3px;color:#1a1a1a;letter-spacing:-.2px;">50</div>
<div class="t ss ac" style="left:1339.6px;top:2118.8px;font-size:9.3px;color:#1a1a1a;letter-spacing:-.2px;">75</div>
<div class="t ss ac" style="left:1377.8px;top:2118.8px;font-size:9.3px;color:#1a1a1a;letter-spacing:-.2px;">100</div>
<div class="t ss ac" style="left:1416.0px;top:2118.8px;font-size:9.3px;color:#1a1a1a;letter-spacing:-.2px;">125</div>
<div class="t ss ac" style="left:1453.9px;top:2118.8px;font-size:9.3px;color:#1a1a1a;letter-spacing:-.2px;">150</div>
<div class="t ss ac" style="left:1492.2px;top:2118.8px;font-size:9.3px;color:#1a1a1a;letter-spacing:-.2px;">175</div>
<div class="t ss ar" style="left:1540.5px;top:1925.5px;font-size:9.3px;color:#1a1a1a;letter-spacing:-.2px;">1.5</div>
<div class="t ss ar" style="left:1540.5px;top:1957.7px;font-size:9.3px;color:#1a1a1a;letter-spacing:-.2px;">1.0</div>
<div class="t ss ar" style="left:1540.5px;top:1989.6px;font-size:9.3px;color:#1a1a1a;letter-spacing:-.2px;">0.5</div>
<div class="t ss ar" style="left:1540.5px;top:2021.2px;font-size:9.3px;color:#1a1a1a;letter-spacing:-.2px;">0.0</div>
<div class="t ss ar" style="left:1540.5px;top:2053.4px;font-size:9.3px;color:#1a1a1a;letter-spacing:-.2px;">−0.5</div>
<div class="t ss ar" style="left:1540.5px;top:2085.2px;font-size:9.3px;color:#1a1a1a;letter-spacing:-.2px;">−1.0</div>
<div class="t ss ac" style="left:1558.9px;top:2118.8px;font-size:9.3px;color:#1a1a1a;letter-spacing:-.2px;">0</div>
<div class="t ss ac" style="left:1596.6px;top:2118.8px;font-size:9.3px;color:#1a1a1a;letter-spacing:-.2px;">25</div>
<div class="t ss ac" style="left:1634.5px;top:2118.8px;font-size:9.3px;color:#1a1a1a;letter-spacing:-.2px;">50</div>
<div class="t ss ac" style="left:1673.0px;top:2118.8px;font-size:9.3px;color:#1a1a1a;letter-spacing:-.2px;">75</div>
<div class="t ss ac" style="left:1711.0px;top:2118.8px;font-size:9.3px;color:#1a1a1a;letter-spacing:-.2px;">100</div>
<div class="t ss ac" style="left:1749.2px;top:2118.8px;font-size:9.3px;color:#1a1a1a;letter-spacing:-.2px;">125</div>
<div class="t ss ac" style="left:1787.1px;top:2118.8px;font-size:9.3px;color:#1a1a1a;letter-spacing:-.2px;">150</div>
<div class="t ss ac" style="left:1825.6px;top:2118.8px;font-size:9.3px;color:#1a1a1a;letter-spacing:-.2px;">175</div>
<div class="t ss ar" style="left:1874.9px;top:1943.4px;font-size:9.3px;color:#1a1a1a;letter-spacing:-.2px;">1.5</div>
<div class="t ss ar" style="left:1874.9px;top:1969.0px;font-size:9.3px;color:#1a1a1a;letter-spacing:-.2px;">1.0</div>
<div class="t ss ar" style="left:1874.9px;top:1994.3px;font-size:9.3px;color:#1a1a1a;letter-spacing:-.2px;">0.5</div>
<div class="t ss ar" style="left:1874.9px;top:2019.6px;font-size:9.3px;color:#1a1a1a;letter-spacing:-.2px;">0.0</div>
<div class="t ss ar" style="left:1874.9px;top:2045.1px;font-size:9.3px;color:#1a1a1a;letter-spacing:-.2px;">−0.5</div>
<div class="t ss ar" style="left:1874.9px;top:2070.7px;font-size:9.3px;color:#1a1a1a;letter-spacing:-.2px;">−1.0</div>
<div class="t ss ar" style="left:1874.9px;top:2096.2px;font-size:9.3px;color:#1a1a1a;letter-spacing:-.2px;">−1.5</div>
<div class="t ss ac" style="left:1892.2px;top:2118.8px;font-size:9.3px;color:#1a1a1a;letter-spacing:-.2px;">0</div>
<div class="t ss ac" style="left:1930.2px;top:2118.8px;font-size:9.3px;color:#1a1a1a;letter-spacing:-.2px;">25</div>
<div class="t ss ac" style="left:1968.4px;top:2118.8px;font-size:9.3px;color:#1a1a1a;letter-spacing:-.2px;">50</div>
<div class="t ss ac" style="left:2006.6px;top:2118.8px;font-size:9.3px;color:#1a1a1a;letter-spacing:-.2px;">75</div>
<div class="t ss ac" style="left:2044.8px;top:2118.8px;font-size:9.3px;color:#1a1a1a;letter-spacing:-.2px;">100</div>
<div class="t ss ac" style="left:2083.0px;top:2118.8px;font-size:9.3px;color:#1a1a1a;letter-spacing:-.2px;">125</div>
<div class="t ss ac" style="left:2120.9px;top:2118.8px;font-size:9.3px;color:#1a1a1a;letter-spacing:-.2px;">150</div>
<div class="t ss ac" style="left:2158.9px;top:2118.8px;font-size:9.3px;color:#1a1a1a;letter-spacing:-.2px;">175</div>
<div class="t ss ar" style="left:2207.8px;top:1937.4px;font-size:9.3px;color:#1a1a1a;letter-spacing:-.2px;">1.0</div>
<div class="t ss ar" style="left:2207.8px;top:1972.0px;font-size:9.3px;color:#1a1a1a;letter-spacing:-.2px;">0.5</div>
<div class="t ss ar" style="left:2207.8px;top:2006.6px;font-size:9.3px;color:#1a1a1a;letter-spacing:-.2px;">0.0</div>
<div class="t ss ar" style="left:2207.8px;top:2041.8px;font-size:9.3px;color:#1a1a1a;letter-spacing:-.2px;">−0.5</div>
<div class="t ss ar" style="left:2207.8px;top:2075.9px;font-size:9.3px;color:#1a1a1a;letter-spacing:-.2px;">−1.0</div>
<div class="t ss ac" style="left:2225.7px;top:2118.8px;font-size:9.3px;color:#1a1a1a;letter-spacing:-.2px;">0</div>
<div class="t ss ac" style="left:2263.9px;top:2118.8px;font-size:9.3px;color:#1a1a1a;letter-spacing:-.2px;">25</div>
<div class="t ss ac" style="left:2301.8px;top:2118.8px;font-size:9.3px;color:#1a1a1a;letter-spacing:-.2px;">50</div>
<div class="t ss ac" style="left:2340.3px;top:2118.8px;font-size:9.3px;color:#1a1a1a;letter-spacing:-.2px;">75</div>
<div class="t ss ac" style="left:2377.9px;top:2118.8px;font-size:9.3px;color:#1a1a1a;letter-spacing:-.2px;">100</div>
<div class="t ss ac" style="left:2416.4px;top:2118.8px;font-size:9.3px;color:#1a1a1a;letter-spacing:-.2px;">125</div>
<div class="t ss ac" style="left:2454.3px;top:2118.8px;font-size:9.3px;color:#1a1a1a;letter-spacing:-.2px;">150</div>
<div class="t ss ac" style="left:2492.8px;top:2118.8px;font-size:9.3px;color:#1a1a1a;letter-spacing:-.2px;">175</div>
<div class="t sf ac" style="left:1341.5px;top:1882.2px;font-size:30.5px;color:#111;">(a) ETTm1, 7th</div>
<div class="t sf ac" style="left:1675.6px;top:1882.2px;font-size:30.5px;color:#111;">(b) Weather, 7th</div>
<div class="t sf ac" style="left:2009.5px;top:1882.2px;font-size:30.5px;color:#111;">(c) Solar-Energy, 137th</div>
<div class="t sf ac" style="left:2343.2px;top:1882.2px;font-size:30.5px;color:#111;">(d) Traffic, 607th</div>
<div class="t sf ac" style="left:1342.3px;top:2152.7px;font-size:30.5px;color:#111;">(e) Electricity, 311st</div>
<div class="t sf ac" style="left:1675.6px;top:2152.7px;font-size:30.5px;color:#111;">(f) Electricity, 318th</div>
<div class="t sf ac" style="left:2009.3px;top:2152.7px;font-size:30.5px;color:#111;">(g) Electricity, 320th</div>
<div class="t sf ac" style="left:2342.0px;top:2152.7px;font-size:30.5px;color:#111;">(h) Electricity, 321st</div>
<div class="a" style="left:2601px;top:498.2px;width:1128.6px;height:2.2px;background:#111"></div>
<div class="a" style="left:2601px;top:527.9px;width:1128.6px;height:1.1px;background:#222"></div>
<div class="a" style="left:2601px;top:557.0px;width:1128.6px;height:1.1px;background:#222"></div>
<div class="a" style="left:2601px;top:761.2px;width:1128.6px;height:1.1px;background:#222"></div>
<div class="a" style="left:2601px;top:809.9px;width:1128.6px;height:2.2px;background:#111"></div>
<div class="a" style="left:2756.1px;top:505.7px;width:1px;height:18.8px;background:#757575"></div>
<div class="a" style="left:2756.1px;top:534.3px;width:1px;height:19.3px;background:#757575"></div>
<div class="a" style="left:2756.1px;top:563.4px;width:1px;height:193.8px;background:#757575"></div>
<div class="a" style="left:2756.1px;top:769.5px;width:1px;height:36.0px;background:#757575"></div>
<div class="a" style="left:2879.0px;top:505.7px;width:1px;height:18.8px;background:#757575"></div>
<div class="a" style="left:2879.0px;top:534.3px;width:1px;height:19.3px;background:#757575"></div>
<div class="a" style="left:2879.0px;top:563.4px;width:1px;height:193.8px;background:#757575"></div>
<div class="a" style="left:2879.0px;top:769.5px;width:1px;height:36.0px;background:#757575"></div>
<div class="a" style="left:3002.0px;top:505.7px;width:1px;height:18.8px;background:#757575"></div>
<div class="a" style="left:3002.0px;top:534.3px;width:1px;height:19.3px;background:#757575"></div>
<div class="a" style="left:3002.0px;top:563.4px;width:1px;height:193.8px;background:#757575"></div>
<div class="a" style="left:3002.0px;top:769.5px;width:1px;height:36.0px;background:#757575"></div>
<div class="a" style="left:3124.9px;top:505.7px;width:1px;height:18.8px;background:#757575"></div>
<div class="a" style="left:3124.9px;top:534.3px;width:1px;height:19.3px;background:#757575"></div>
<div class="a" style="left:3124.9px;top:563.4px;width:1px;height:193.8px;background:#757575"></div>
<div class="a" style="left:3124.9px;top:769.5px;width:1px;height:36.0px;background:#757575"></div>
<div class="a" style="left:3247.8px;top:505.7px;width:1px;height:18.8px;background:#757575"></div>
<div class="a" style="left:3247.8px;top:534.3px;width:1px;height:19.3px;background:#757575"></div>
<div class="a" style="left:3247.8px;top:563.4px;width:1px;height:193.8px;background:#757575"></div>
<div class="a" style="left:3247.8px;top:769.5px;width:1px;height:36.0px;background:#757575"></div>
<div class="a" style="left:3370.8px;top:505.7px;width:1px;height:18.8px;background:#757575"></div>
<div class="a" style="left:3370.8px;top:534.3px;width:1px;height:19.3px;background:#757575"></div>
<div class="a" style="left:3370.8px;top:563.4px;width:1px;height:193.8px;background:#757575"></div>
<div class="a" style="left:3370.8px;top:769.5px;width:1px;height:36.0px;background:#757575"></div>
<div class="a" style="left:3493.7px;top:505.7px;width:1px;height:18.8px;background:#757575"></div>
<div class="a" style="left:3493.7px;top:534.3px;width:1px;height:19.3px;background:#757575"></div>
<div class="a" style="left:3493.7px;top:563.4px;width:1px;height:193.8px;background:#757575"></div>
<div class="a" style="left:3493.7px;top:769.5px;width:1px;height:36.0px;background:#757575"></div>
<div class="a" style="left:3616.6px;top:505.7px;width:1px;height:18.8px;background:#757575"></div>
<div class="a" style="left:3616.6px;top:534.3px;width:1px;height:19.3px;background:#757575"></div>
<div class="a" style="left:3616.6px;top:563.4px;width:1px;height:193.8px;background:#757575"></div>
<div class="a" style="left:3616.6px;top:769.5px;width:1px;height:36.0px;background:#757575"></div>
<div class="col" style="left:2673.4px;top:504.0px;font-size:17.7px;line-height:19.56px;">Dataset</div>
<div class="col" style="left:2673.4px;top:532.7px;font-size:17.7px;line-height:19.56px;">Metric</div>
<div class="col" style="left:2818.2px;top:504.0px;font-size:17.7px;line-height:19.56px;">ETTh1</div>
<div class="col" style="left:2787.3px;top:532.7px;font-size:17.7px;line-height:19.56px;">MSE</div>
<div class="col" style="left:2849.0px;top:532.7px;font-size:17.7px;line-height:19.56px;">MAE</div>
<div class="col" style="left:2941.1px;top:504.0px;font-size:17.7px;line-height:19.56px;">ETTh2</div>
<div class="col" style="left:2910.2px;top:532.7px;font-size:17.7px;line-height:19.56px;">MSE</div>
<div class="col" style="left:2971.9px;top:532.7px;font-size:17.7px;line-height:19.56px;">MAE</div>
<div class="col" style="left:3064.1px;top:504.0px;font-size:17.7px;line-height:19.56px;">ETTm1</div>
<div class="col" style="left:3033.2px;top:532.7px;font-size:17.7px;line-height:19.56px;">MSE</div>
<div class="col" style="left:3094.9px;top:532.7px;font-size:17.7px;line-height:19.56px;">MAE</div>
<div class="col" style="left:3187.0px;top:504.0px;font-size:17.7px;line-height:19.56px;">ETTm2</div>
<div class="col" style="left:3156.1px;top:532.7px;font-size:17.7px;line-height:19.56px;">MSE</div>
<div class="col" style="left:3217.8px;top:532.7px;font-size:17.7px;line-height:19.56px;">MAE</div>
<div class="col" style="left:3309.9px;top:504.0px;font-size:17.7px;line-height:19.56px;">Electricity</div>
<div class="col" style="left:3279.0px;top:532.7px;font-size:17.7px;line-height:19.56px;">MSE</div>
<div class="col" style="left:3340.7px;top:532.7px;font-size:17.7px;line-height:19.56px;">MAE</div>
<div class="col" style="left:3432.8px;top:504.0px;font-size:17.7px;line-height:19.56px;">Solar-Energy</div>
<div class="col" style="left:3402.0px;top:532.7px;font-size:17.7px;line-height:19.56px;">MSE</div>
<div class="col" style="left:3463.7px;top:532.7px;font-size:17.7px;line-height:19.56px;">MAE</div>
<div class="col" style="left:3555.8px;top:504.0px;font-size:17.7px;line-height:19.56px;">Traffic</div>
<div class="col" style="left:3524.9px;top:532.7px;font-size:17.7px;line-height:19.56px;">MSE</div>
<div class="col" style="left:3586.6px;top:532.7px;font-size:17.7px;line-height:19.56px;">MAE</div>
<div class="col" style="left:3673.9px;top:504.0px;font-size:17.7px;line-height:19.56px;">Weather</div>
<div class="col" style="left:3647.8px;top:532.7px;font-size:17.7px;line-height:19.56px;">MSE</div>
<div class="col" style="left:3709.5px;top:532.7px;font-size:17.7px;line-height:19.56px;">MAE</div>
<div class="col" style="left:2673.4px;top:561.3px;font-size:17.7px;line-height:19.56px;">Autoformer [2021]<br>FEDformer [2022]<br>SCINet [2022]<br>DLinear [2023]<br>TimesNet [2023]<br>TiDE [2023]<br>Crossformer [2023]<br>PatchTST [2023]<br>TimeMixer [2024]<br>iTransformer [2024]</div>
<div class="col" style="left:2787.3px;top:561.3px;font-size:17.7px;line-height:19.56px;">0.496<br><span class="u">0.440</span><br>0.747<br>0.456<br>0.458<br>0.541<br>0.529<br>0.469<br>0.447<br>0.454</div>
<div class="col" style="left:2849.0px;top:561.3px;font-size:17.7px;line-height:19.56px;">0.487<br>0.460<br>0.647<br>0.452<br>0.450<br>0.507<br>0.522<br>0.454<br><span class="u">0.440</span><br>0.447</div>
<div class="col" style="left:2910.2px;top:561.3px;font-size:17.7px;line-height:19.56px;">0.450<br>0.437<br>0.954<br>0.559<br>0.414<br>0.611<br>0.942<br>0.387<br><b>0.364</b><br><span class="u">0.383</span></div>
<div class="col" style="left:2971.9px;top:561.3px;font-size:17.7px;line-height:19.56px;">0.459<br>0.449<br>0.723<br>0.515<br>0.427<br>0.550<br>0.684<br>0.407<br><b>0.395</b><br>0.407</div>
<div class="col" style="left:3033.2px;top:561.3px;font-size:17.7px;line-height:19.56px;">0.588<br>0.448<br>0.485<br>0.403<br>0.400<br>0.419<br>0.513<br>0.387<br><span class="u">0.381</span><br>0.407</div>
<div class="col" style="left:3094.9px;top:561.3px;font-size:17.7px;line-height:19.56px;">0.517<br>0.452<br>0.481<br>0.407<br>0.406<br>0.419<br>0.496<br>0.400<br><span class="u">0.395</span><br>0.410</div>
<div class="col" style="left:3156.1px;top:561.3px;font-size:17.7px;line-height:19.56px;">0.327<br>0.305<br>0.571<br>0.350<br>0.291<br>0.358<br>0.757<br>0.281<br>0.275<br>0.288</div>
<div class="col" style="left:3217.8px;top:561.3px;font-size:17.7px;line-height:19.56px;">0.371<br>0.349<br>0.537<br>0.401<br>0.333<br>0.404<br>0.610<br>0.326<br>0.323<br>0.332</div>
<div class="col" style="left:3279.0px;top:561.3px;font-size:17.7px;line-height:19.56px;">0.227<br>0.214<br>0.268<br>0.212<br>0.192<br>0.251<br>0.244<br>0.205<br>0.182<br>0.178</div>
<div class="col" style="left:3340.7px;top:561.3px;font-size:17.7px;line-height:19.56px;">0.338<br>0.327<br>0.365<br>0.300<br>0.295<br>0.344<br>0.334<br>0.290<br>0.272<br>0.270</div>
<div class="col" style="left:3402.0px;top:561.3px;font-size:17.7px;line-height:19.56px;">0.885<br>0.291<br>0.282<br>0.330<br>0.301<br>0.347<br>0.641<br>0.270<br><span class="u">0.216</span><br>0.233</div>
<div class="col" style="left:3463.7px;top:561.3px;font-size:17.7px;line-height:19.56px;">0.711<br>0.381<br>0.375<br>0.401<br>0.319<br>0.417<br>0.639<br>0.307<br>0.280<br><span class="u">0.262</span></div>
<div class="col" style="left:3524.9px;top:561.3px;font-size:17.7px;line-height:19.56px;">0.628<br>0.610<br>0.804<br>0.625<br>0.620<br>0.760<br>0.550<br>0.481<br>0.484<br><b>0.428</b></div>
<div class="col" style="left:3586.6px;top:561.3px;font-size:17.7px;line-height:19.56px;">0.379<br>0.376<br>0.509<br>0.383<br>0.336<br>0.473<br>0.304<br>0.304<br><span class="u">0.297</span><br><b>0.282</b></div>
<div class="col" style="left:3647.8px;top:561.3px;font-size:17.7px;line-height:19.56px;">0.338<br>0.309<br>0.292<br>0.265<br>0.259<br>0.271<br>0.259<br>0.259<br><b>0.240</b><br>0.258</div>
<div class="col" style="left:3709.5px;top:561.3px;font-size:17.7px;line-height:19.56px;">0.382<br>0.360<br>0.363<br>0.317<br>0.287<br>0.320<br>0.315<br>0.281<br><span class="u">0.271</span><br>0.278</div>
<div class="col" style="left:2673.4px;top:766.0px;font-size:17.7px;line-height:19.7px;">CycleNet/Linear<br>CycleNet/MLP</div>
<div class="col" style="left:2787.3px;top:766.0px;font-size:17.7px;line-height:19.7px;"><b>0.432</b><br>0.457</div>
<div class="col" style="left:2849.0px;top:766.0px;font-size:17.7px;line-height:19.7px;"><b>0.427</b><br>0.441</div>
<div class="col" style="left:2910.2px;top:766.0px;font-size:17.7px;line-height:19.7px;"><span class="u">0.383</span><br>0.388</div>
<div class="col" style="left:2971.9px;top:766.0px;font-size:17.7px;line-height:19.7px;"><span class="u">0.404</span><br>0.409</div>
<div class="col" style="left:3033.2px;top:766.0px;font-size:17.7px;line-height:19.7px;">0.386<br><b>0.379</b></div>
<div class="col" style="left:3094.9px;top:766.0px;font-size:17.7px;line-height:19.7px;"><b>0.395</b><br>0.396</div>
<div class="col" style="left:3156.1px;top:766.0px;font-size:17.7px;line-height:19.7px;"><span class="u">0.272</span><br><b>0.266</b></div>
<div class="col" style="left:3217.8px;top:766.0px;font-size:17.7px;line-height:19.7px;"><span class="u">0.315</span><br><b>0.314</b></div>
<div class="col" style="left:3279.0px;top:766.0px;font-size:17.7px;line-height:19.7px;"><span class="u">0.170</span><br><b>0.168</b></div>
<div class="col" style="left:3340.7px;top:766.0px;font-size:17.7px;line-height:19.7px;"><span class="u">0.260</span><br><b>0.259</b></div>
<div class="col" style="left:3402.0px;top:766.0px;font-size:17.7px;line-height:19.7px;">0.235<br><b>0.210</b></div>
<div class="col" style="left:3463.7px;top:766.0px;font-size:17.7px;line-height:19.7px;">0.270<br><b>0.261</b></div>
<div class="col" style="left:3524.9px;top:766.0px;font-size:17.7px;line-height:19.7px;">0.485<br><span class="u">0.472</span></div>
<div class="col" style="left:3586.6px;top:766.0px;font-size:17.7px;line-height:19.7px;">0.313<br>0.301</div>
<div class="col" style="left:3647.8px;top:766.0px;font-size:17.7px;line-height:19.7px;">0.254<br><span class="u">0.243</span></div>
<div class="col" style="left:3709.5px;top:766.0px;font-size:17.7px;line-height:19.7px;">0.279<br><b>0.271</b></div>
<div class="a" style="left:2617.5px;top:854.0px;width:1103.7px;height:2px;background:#111"></div>
<div class="a" style="left:2617.5px;top:881.1px;width:1103.7px;height:1.3px;background:#333"></div>
<div class="a" style="left:2617.5px;top:907.8px;width:1103.7px;height:1.3px;background:#333"></div>
<div class="a" style="left:2617.5px;top:934.0px;width:1103.7px;height:1.3px;background:#333"></div>
<div class="a" style="left:2617.5px;top:996.6px;width:1103.7px;height:1.3px;background:#333"></div>
<div class="a" style="left:2617.5px;top:1058.8px;width:1103.7px;height:1.3px;background:#333"></div>
<div class="a" style="left:2617.5px;top:1121.4px;width:1103.7px;height:1.3px;background:#333"></div>
<div class="a" style="left:2617.5px;top:1183.8px;width:1103.7px;height:1.3px;background:#333"></div>
<div class="a" style="left:2617.5px;top:1246.0px;width:1103.7px;height:2px;background:#111"></div>
<div class="a" style="left:2712.4px;top:860.6px;width:1px;height:17.1px;background:#757575"></div>
<div class="a" style="left:2712.4px;top:887.1px;width:1px;height:17.3px;background:#757575"></div>
<div class="a" style="left:2712.4px;top:913.8px;width:1px;height:16.8px;background:#757575"></div>
<div class="a" style="left:2712.4px;top:940.0px;width:1px;height:53.2px;background:#757575"></div>
<div class="a" style="left:2712.4px;top:1002.6px;width:1px;height:52.9px;background:#757575"></div>
<div class="a" style="left:2712.4px;top:1064.9px;width:1px;height:53.2px;background:#757575"></div>
<div class="a" style="left:2712.4px;top:1127.5px;width:1px;height:53.0px;background:#757575"></div>
<div class="a" style="left:2712.4px;top:1189.9px;width:1px;height:53.1px;background:#757575"></div>
<div class="a" style="left:2841.7px;top:887.1px;width:1px;height:17.3px;background:#757575"></div>
<div class="a" style="left:2841.7px;top:913.8px;width:1px;height:16.8px;background:#757575"></div>
<div class="a" style="left:2841.7px;top:940.0px;width:1px;height:53.2px;background:#757575"></div>
<div class="a" style="left:2841.7px;top:1002.6px;width:1px;height:52.9px;background:#757575"></div>
<div class="a" style="left:2841.7px;top:1064.9px;width:1px;height:53.2px;background:#757575"></div>
<div class="a" style="left:2841.7px;top:1127.5px;width:1px;height:53.0px;background:#757575"></div>
<div class="a" style="left:2841.7px;top:1189.9px;width:1px;height:53.1px;background:#757575"></div>
<div class="a" style="left:2970.7px;top:887.1px;width:1px;height:17.3px;background:#757575"></div>
<div class="a" style="left:2970.7px;top:913.8px;width:1px;height:16.8px;background:#757575"></div>
<div class="a" style="left:2970.7px;top:940.0px;width:1px;height:53.2px;background:#757575"></div>
<div class="a" style="left:2970.7px;top:1002.6px;width:1px;height:52.9px;background:#757575"></div>
<div class="a" style="left:2970.7px;top:1064.9px;width:1px;height:53.2px;background:#757575"></div>
<div class="a" style="left:2970.7px;top:1127.5px;width:1px;height:53.0px;background:#757575"></div>
<div class="a" style="left:2970.7px;top:1189.9px;width:1px;height:53.1px;background:#757575"></div>
<div class="a" style="left:3092.0px;top:887.1px;width:1px;height:17.3px;background:#757575"></div>
<div class="a" style="left:3092.0px;top:913.8px;width:1px;height:16.8px;background:#757575"></div>
<div class="a" style="left:3092.0px;top:940.0px;width:1px;height:53.2px;background:#757575"></div>
<div class="a" style="left:3092.0px;top:1002.6px;width:1px;height:52.9px;background:#757575"></div>
<div class="a" style="left:3092.0px;top:1064.9px;width:1px;height:53.2px;background:#757575"></div>
<div class="a" style="left:3092.0px;top:1127.5px;width:1px;height:53.0px;background:#757575"></div>
<div class="a" style="left:3092.0px;top:1189.9px;width:1px;height:53.1px;background:#757575"></div>
<div class="a" style="left:3213.2px;top:860.6px;width:1px;height:17.1px;background:#757575"></div>
<div class="a" style="left:3213.2px;top:887.1px;width:1px;height:17.3px;background:#757575"></div>
<div class="a" style="left:3213.2px;top:913.8px;width:1px;height:16.8px;background:#757575"></div>
<div class="a" style="left:3213.2px;top:940.0px;width:1px;height:53.2px;background:#757575"></div>
<div class="a" style="left:3213.2px;top:1002.6px;width:1px;height:52.9px;background:#757575"></div>
<div class="a" style="left:3213.2px;top:1064.9px;width:1px;height:53.2px;background:#757575"></div>
<div class="a" style="left:3213.2px;top:1127.5px;width:1px;height:53.0px;background:#757575"></div>
<div class="a" style="left:3213.2px;top:1189.9px;width:1px;height:53.1px;background:#757575"></div>
<div class="a" style="left:3342.4px;top:887.1px;width:1px;height:17.3px;background:#757575"></div>
<div class="a" style="left:3342.4px;top:913.8px;width:1px;height:16.8px;background:#757575"></div>
<div class="a" style="left:3342.4px;top:940.0px;width:1px;height:53.2px;background:#757575"></div>
<div class="a" style="left:3342.4px;top:1002.6px;width:1px;height:52.9px;background:#757575"></div>
<div class="a" style="left:3342.4px;top:1064.9px;width:1px;height:53.2px;background:#757575"></div>
<div class="a" style="left:3342.4px;top:1127.5px;width:1px;height:53.0px;background:#757575"></div>
<div class="a" style="left:3342.4px;top:1189.9px;width:1px;height:53.1px;background:#757575"></div>
<div class="a" style="left:3471.6px;top:887.1px;width:1px;height:17.3px;background:#757575"></div>
<div class="a" style="left:3471.6px;top:913.8px;width:1px;height:16.8px;background:#757575"></div>
<div class="a" style="left:3471.6px;top:940.0px;width:1px;height:53.2px;background:#757575"></div>
<div class="a" style="left:3471.6px;top:1002.6px;width:1px;height:52.9px;background:#757575"></div>
<div class="a" style="left:3471.6px;top:1064.9px;width:1px;height:53.2px;background:#757575"></div>
<div class="a" style="left:3471.6px;top:1127.5px;width:1px;height:53.0px;background:#757575"></div>
<div class="a" style="left:3471.6px;top:1189.9px;width:1px;height:53.1px;background:#757575"></div>
<div class="a" style="left:3600.8px;top:887.1px;width:1px;height:17.3px;background:#757575"></div>
<div class="a" style="left:3600.8px;top:913.8px;width:1px;height:16.8px;background:#757575"></div>
<div class="a" style="left:3600.8px;top:940.0px;width:1px;height:53.2px;background:#757575"></div>
<div class="a" style="left:3600.8px;top:1002.6px;width:1px;height:52.9px;background:#757575"></div>
<div class="a" style="left:3600.8px;top:1064.9px;width:1px;height:53.2px;background:#757575"></div>
<div class="a" style="left:3600.8px;top:1127.5px;width:1px;height:53.0px;background:#757575"></div>
<div class="a" style="left:3600.8px;top:1189.9px;width:1px;height:53.1px;background:#757575"></div>
<div class="col" style="left:2660.6px;top:858.9px;font-size:16.2px;line-height:17.6px;">Dataset</div>
<div class="col" style="left:2660.6px;top:885.3px;font-size:16.2px;line-height:17.6px;">Horizon</div>
<div class="col" style="left:2660.6px;top:912.0px;font-size:16.2px;line-height:17.6px;">Metric</div>
<div class="col" style="left:2963.4px;top:858.9px;font-size:16.2px;line-height:17.6px;">Electricity</div>
<div class="col" style="left:3467.3px;top:858.9px;font-size:16.2px;line-height:17.6px;">Traffic</div>
<div class="col" style="left:2777.5px;top:885.3px;font-size:16.2px;line-height:17.6px;">96</div>
<div class="col" style="left:2907.1px;top:885.3px;font-size:16.2px;line-height:17.6px;">192</div>
<div class="col" style="left:3032.4px;top:885.3px;font-size:16.2px;line-height:17.6px;">336</div>
<div class="col" style="left:3153.2px;top:885.3px;font-size:16.2px;line-height:17.6px;">720</div>
<div class="col" style="left:3278.4px;top:885.3px;font-size:16.2px;line-height:17.6px;">96</div>
<div class="col" style="left:3407.6px;top:885.3px;font-size:16.2px;line-height:17.6px;">192</div>
<div class="col" style="left:3536.8px;top:885.3px;font-size:16.2px;line-height:17.6px;">336</div>
<div class="col" style="left:3661.1px;top:885.3px;font-size:16.2px;line-height:17.6px;">720</div>
<div class="col" style="left:2745.2px;top:912.0px;font-size:16.2px;line-height:17.6px;">MSE</div>
<div class="col" style="left:2809.9px;top:912.0px;font-size:16.2px;line-height:17.6px;">MAE</div>
<div class="col" style="left:2874.5px;top:912.0px;font-size:16.2px;line-height:17.6px;">MSE</div>
<div class="col" style="left:2939.2px;top:912.0px;font-size:16.2px;line-height:17.6px;">MAE</div>
<div class="col" style="left:3003.9px;top:912.0px;font-size:16.2px;line-height:17.6px;">MSE</div>
<div class="col" style="left:3064.1px;top:912.0px;font-size:16.2px;line-height:17.6px;">MAE</div>
<div class="col" style="left:3124.9px;top:912.0px;font-size:16.2px;line-height:17.6px;">MSE</div>
<div class="col" style="left:3185.2px;top:912.0px;font-size:16.2px;line-height:17.6px;">MAE</div>
<div class="col" style="left:3245.9px;top:912.0px;font-size:16.2px;line-height:17.6px;">MSE</div>
<div class="col" style="left:3310.5px;top:912.0px;font-size:16.2px;line-height:17.6px;">MAE</div>
<div class="col" style="left:3375.1px;top:912.0px;font-size:16.2px;line-height:17.6px;">MSE</div>
<div class="col" style="left:3439.7px;top:912.0px;font-size:16.2px;line-height:17.6px;">MAE</div>
<div class="col" style="left:3504.3px;top:912.0px;font-size:16.2px;line-height:17.6px;">MSE</div>
<div class="col" style="left:3568.9px;top:912.0px;font-size:16.2px;line-height:17.6px;">MAE</div>
<div class="col" style="left:3633.5px;top:912.0px;font-size:16.2px;line-height:17.6px;">MSE</div>
<div class="col" style="left:3698.1px;top:912.0px;font-size:16.2px;line-height:17.6px;">MAE</div>
<div class="col" style="left:2660.6px;top:939.4px;font-size:16.2px;line-height:17.6px;">Linear<br>+ RCF<br>Improve</div>
<div class="col" style="left:2745.2px;top:939.4px;font-size:16.2px;line-height:17.6px;">0.197<br>0.141<br><b>28.6%</b></div>
<div class="col" style="left:2809.9px;top:939.4px;font-size:16.2px;line-height:17.6px;">0.274<br>0.234<br><b>14.6%</b></div>
<div class="col" style="left:2874.5px;top:939.4px;font-size:16.2px;line-height:17.6px;">0.197<br>0.155<br><b>21.4%</b></div>
<div class="col" style="left:2939.2px;top:939.4px;font-size:16.2px;line-height:17.6px;">0.277<br>0.247<br><b>10.8%</b></div>
<div class="col" style="left:3003.9px;top:939.4px;font-size:16.2px;line-height:17.6px;">0.212<br>0.172<br><b>18.8%</b></div>
<div class="col" style="left:3064.1px;top:939.4px;font-size:16.2px;line-height:17.6px;">0.292<br>0.264<br><b>9.5%</b></div>
<div class="col" style="left:3124.9px;top:939.4px;font-size:16.2px;line-height:17.6px;">0.253<br>0.210<br><b>17.1%</b></div>
<div class="col" style="left:3185.2px;top:939.4px;font-size:16.2px;line-height:17.6px;">0.324<br>0.296<br><b>8.7%</b></div>
<div class="col" style="left:3245.9px;top:939.4px;font-size:16.2px;line-height:17.6px;">0.645<br>0.480<br><b>25.6%</b></div>
<div class="col" style="left:3310.5px;top:939.4px;font-size:16.2px;line-height:17.6px;">0.383<br>0.314<br><b>18.0%</b></div>
<div class="col" style="left:3375.1px;top:939.4px;font-size:16.2px;line-height:17.6px;">0.598<br>0.482<br><b>19.5%</b></div>
<div class="col" style="left:3439.7px;top:939.4px;font-size:16.2px;line-height:17.6px;">0.361<br>0.313<br><b>13.2%</b></div>
<div class="col" style="left:3504.3px;top:939.4px;font-size:16.2px;line-height:17.6px;">0.605<br>0.476<br><b>21.3%</b></div>
<div class="col" style="left:3568.9px;top:939.4px;font-size:16.2px;line-height:17.6px;">0.362<br>0.303<br><b>16.2%</b></div>
<div class="col" style="left:3633.5px;top:939.4px;font-size:16.2px;line-height:17.6px;">0.643<br>0.503<br><b>21.8%</b></div>
<div class="col" style="left:3698.1px;top:939.4px;font-size:16.2px;line-height:17.6px;">0.381<br>0.320<br><b>16.1%</b></div>
<div class="col" style="left:2660.6px;top:1002.0px;font-size:16.2px;line-height:17.6px;">MLP<br>+ RCF<br>Improve</div>
<div class="col" style="left:2745.2px;top:1002.0px;font-size:16.2px;line-height:17.6px;">0.175<br>0.136<br><b>22.2%</b></div>
<div class="col" style="left:2809.9px;top:1002.0px;font-size:16.2px;line-height:17.6px;">0.259<br>0.229<br><b>11.6%</b></div>
<div class="col" style="left:2874.5px;top:1002.0px;font-size:16.2px;line-height:17.6px;">0.181<br>0.152<br><b>15.9%</b></div>
<div class="col" style="left:2939.2px;top:1002.0px;font-size:16.2px;line-height:17.6px;">0.265<br>0.244<br><b>8.0%</b></div>
<div class="col" style="left:3003.9px;top:1002.0px;font-size:16.2px;line-height:17.6px;">0.197<br>0.170<br><b>13.6%</b></div>
<div class="col" style="left:3064.1px;top:1002.0px;font-size:16.2px;line-height:17.6px;">0.282<br>0.264<br><b>6.3%</b></div>
<div class="col" style="left:3124.9px;top:1002.0px;font-size:16.2px;line-height:17.6px;">0.240<br>0.212<br><b>11.6%</b></div>
<div class="col" style="left:3185.2px;top:1002.0px;font-size:16.2px;line-height:17.6px;">0.317<br>0.299<br><b>5.7%</b></div>
<div class="col" style="left:3245.9px;top:1002.0px;font-size:16.2px;line-height:17.6px;">0.500<br>0.458<br><b>8.5%</b></div>
<div class="col" style="left:3310.5px;top:1002.0px;font-size:16.2px;line-height:17.6px;">0.325<br>0.296<br><b>8.9%</b></div>
<div class="col" style="left:3375.1px;top:1002.0px;font-size:16.2px;line-height:17.6px;">0.496<br>0.457<br><b>7.9%</b></div>
<div class="col" style="left:3439.7px;top:1002.0px;font-size:16.2px;line-height:17.6px;">0.321<br>0.294<br><b>8.3%</b></div>
<div class="col" style="left:3504.3px;top:1002.0px;font-size:16.2px;line-height:17.6px;">0.509<br>0.470<br><b>7.7%</b></div>
<div class="col" style="left:3568.9px;top:1002.0px;font-size:16.2px;line-height:17.6px;">0.325<br>0.299<br><b>8.0%</b></div>
<div class="col" style="left:3633.5px;top:1002.0px;font-size:16.2px;line-height:17.6px;">0.542<br>0.502<br><b>7.3%</b></div>
<div class="col" style="left:3698.1px;top:1002.0px;font-size:16.2px;line-height:17.6px;">0.342<br>0.314<br><b>8.1%</b></div>
<div class="col" style="left:2660.6px;top:1064.5px;font-size:16.2px;line-height:17.6px;">DLinear<br>+ RCF<br>Improve</div>
<div class="col" style="left:2745.2px;top:1064.5px;font-size:16.2px;line-height:17.6px;">0.195<br>0.143<br><b>26.6%</b></div>
<div class="col" style="left:2809.9px;top:1064.5px;font-size:16.2px;line-height:17.6px;">0.278<br>0.240<br><b>13.6%</b></div>
<div class="col" style="left:2874.5px;top:1064.5px;font-size:16.2px;line-height:17.6px;">0.194<br>0.156<br><b>19.7%</b></div>
<div class="col" style="left:2939.2px;top:1064.5px;font-size:16.2px;line-height:17.6px;">0.281<br>0.253<br><b>10.0%</b></div>
<div class="col" style="left:3003.9px;top:1064.5px;font-size:16.2px;line-height:17.6px;">0.207<br>0.171<br><b>17.4%</b></div>
<div class="col" style="left:3064.1px;top:1064.5px;font-size:16.2px;line-height:17.6px;">0.297<br>0.270<br><b>8.9%</b></div>
<div class="col" style="left:3124.9px;top:1064.5px;font-size:16.2px;line-height:17.6px;">0.243<br>0.204<br><b>16.3%</b></div>
<div class="col" style="left:3185.2px;top:1064.5px;font-size:16.2px;line-height:17.6px;">0.331<br>0.302<br><b>8.8%</b></div>
<div class="col" style="left:3245.9px;top:1064.5px;font-size:16.2px;line-height:17.6px;">0.649<br>0.506<br><b>22.1%</b></div>
<div class="col" style="left:3310.5px;top:1064.5px;font-size:16.2px;line-height:17.6px;">0.398<br>0.317<br><b>20.4%</b></div>
<div class="col" style="left:3375.1px;top:1064.5px;font-size:16.2px;line-height:17.6px;">0.599<br>0.499<br><b>16.6%</b></div>
<div class="col" style="left:3439.7px;top:1064.5px;font-size:16.2px;line-height:17.6px;">0.372<br>0.317<br><b>14.6%</b></div>
<div class="col" style="left:3504.3px;top:1064.5px;font-size:16.2px;line-height:17.6px;">0.606<br>0.512<br><b>15.4%</b></div>
<div class="col" style="left:3568.9px;top:1064.5px;font-size:16.2px;line-height:17.6px;">0.375<br>0.325<br><b>13.3%</b></div>
<div class="col" style="left:3633.5px;top:1064.5px;font-size:16.2px;line-height:17.6px;">0.646<br>0.545<br><b>15.6%</b></div>
<div class="col" style="left:3698.1px;top:1064.5px;font-size:16.2px;line-height:17.6px;">0.396<br>0.343<br><b>13.5%</b></div>
<div class="col" style="left:2660.6px;top:1127.1px;font-size:16.2px;line-height:17.6px;">PatchTST<br>+ RCF<br>Improve</div>
<div class="col" style="left:2745.2px;top:1127.1px;font-size:16.2px;line-height:17.6px;">0.168<br>0.136<br><b>19.0%</b></div>
<div class="col" style="left:2809.9px;top:1127.1px;font-size:16.2px;line-height:17.6px;">0.260<br>0.231<br><b>11.0%</b></div>
<div class="col" style="left:2874.5px;top:1127.1px;font-size:16.2px;line-height:17.6px;">0.176<br>0.153<br><b>13.0%</b></div>
<div class="col" style="left:2939.2px;top:1127.1px;font-size:16.2px;line-height:17.6px;">0.266<br>0.246<br><b>7.6%</b></div>
<div class="col" style="left:3003.9px;top:1127.1px;font-size:16.2px;line-height:17.6px;">0.193<br>0.170<br><b>11.7%</b></div>
<div class="col" style="left:3064.1px;top:1127.1px;font-size:16.2px;line-height:17.6px;">0.282<br>0.264<br><b>6.6%</b></div>
<div class="col" style="left:3124.9px;top:1127.1px;font-size:16.2px;line-height:17.6px;">0.233<br>0.211<br><b>9.4%</b></div>
<div class="col" style="left:3185.2px;top:1127.1px;font-size:16.2px;line-height:17.6px;">0.317<br>0.299<br><b>5.7%</b></div>
<div class="col" style="left:3245.9px;top:1127.1px;font-size:16.2px;line-height:17.6px;">0.436<br>0.438<br><span style="color:#e8112d">-0.5%</span></div>
<div class="col" style="left:3310.5px;top:1127.1px;font-size:16.2px;line-height:17.6px;">0.281<br>0.264<br><b>6.1%</b></div>
<div class="col" style="left:3375.1px;top:1127.1px;font-size:16.2px;line-height:17.6px;">0.449<br>0.457<br><span style="color:#e8112d">-1.8%</span></div>
<div class="col" style="left:3439.7px;top:1127.1px;font-size:16.2px;line-height:17.6px;">0.285<br>0.270<br><b>5.5%</b></div>
<div class="col" style="left:3504.3px;top:1127.1px;font-size:16.2px;line-height:17.6px;">0.464<br>0.469<br><span style="color:#e8112d">-1.0%</span></div>
<div class="col" style="left:3568.9px;top:1127.1px;font-size:16.2px;line-height:17.6px;">0.293<br>0.275<br><b>6.3%</b></div>
<div class="col" style="left:3633.5px;top:1127.1px;font-size:16.2px;line-height:17.6px;">0.499<br>0.509<br><span style="color:#e8112d">-2.0%</span></div>
<div class="col" style="left:3698.1px;top:1127.1px;font-size:16.2px;line-height:17.6px;">0.310<br>0.292<br><b>6.1%</b></div>
<div class="col" style="left:2660.6px;top:1189.6px;font-size:16.2px;line-height:17.6px;">iTransformer<br>+ RCF<br>Improve</div>
<div class="col" style="left:2745.2px;top:1189.6px;font-size:16.2px;line-height:17.6px;">0.148<br>0.136<br><b>8.1%</b></div>
<div class="col" style="left:2809.9px;top:1189.6px;font-size:16.2px;line-height:17.6px;">0.240<br>0.231<br><b>3.7%</b></div>
<div class="col" style="left:2874.5px;top:1189.6px;font-size:16.2px;line-height:17.6px;">0.162<br>0.153<br><b>5.6%</b></div>
<div class="col" style="left:2939.2px;top:1189.6px;font-size:16.2px;line-height:17.6px;">0.253<br>0.247<br><b>2.4%</b></div>
<div class="col" style="left:3003.9px;top:1189.6px;font-size:16.2px;line-height:17.6px;">0.178<br>0.168<br><b>5.8%</b></div>
<div class="col" style="left:3064.1px;top:1189.6px;font-size:16.2px;line-height:17.6px;">0.269<br>0.263<br><b>2.2%</b></div>
<div class="col" style="left:3124.9px;top:1189.6px;font-size:16.2px;line-height:17.6px;">0.225<br>0.194<br><b>13.8%</b></div>
<div class="col" style="left:3185.2px;top:1189.6px;font-size:16.2px;line-height:17.6px;">0.317<br>0.287<br><b>9.5%</b></div>
<div class="col" style="left:3245.9px;top:1189.6px;font-size:16.2px;line-height:17.6px;">0.395<br>0.415<br><span style="color:#e8112d">-5.1%</span></div>
<div class="col" style="left:3310.5px;top:1189.6px;font-size:16.2px;line-height:17.6px;">0.268<br>0.263<br><b>1.9%</b></div>
<div class="col" style="left:3375.1px;top:1189.6px;font-size:16.2px;line-height:17.6px;">0.417<br>0.440<br><span style="color:#e8112d">-5.5%</span></div>
<div class="col" style="left:3439.7px;top:1189.6px;font-size:16.2px;line-height:17.6px;">0.276<br>0.271<br><b>1.8%</b></div>
<div class="col" style="left:3504.3px;top:1189.6px;font-size:16.2px;line-height:17.6px;">0.433<br>0.456<br><span style="color:#e8112d">-5.3%</span></div>
<div class="col" style="left:3568.9px;top:1189.6px;font-size:16.2px;line-height:17.6px;">0.283<br>0.278<br><b>1.8%</b></div>
<div class="col" style="left:3633.5px;top:1189.6px;font-size:16.2px;line-height:17.6px;">0.467<br>0.491<br><span style="color:#e8112d">-5.1%</span></div>
<div class="col" style="left:3698.1px;top:1189.6px;font-size:16.2px;line-height:17.6px;">0.302<br>0.294<br><b>2.6%</b></div>
<div class="a" style="left:3128px;top:1290.9px;width:587.3px;height:2.2px;background:#111"></div>
<div class="a" style="left:3128px;top:1327.3px;width:587.3px;height:1.3px;background:#222"></div>
<div class="a" style="left:3128px;top:1484.2px;width:587.3px;height:1.3px;background:#222"></div>
<div class="a" style="left:3128px;top:1543.8px;width:587.3px;height:1.3px;background:#222"></div>
<div class="a" style="left:3128px;top:1579.9px;width:587.3px;height:2.2px;background:#111"></div>
<div class="a" style="left:3320.7px;top:1299.5px;width:1px;height:23.5px;background:#757575"></div>
<div class="a" style="left:3320.7px;top:1335.0px;width:1px;height:144.5px;background:#757575"></div>
<div class="a" style="left:3320.7px;top:1491.5px;width:1px;height:48.0px;background:#757575"></div>
<div class="a" style="left:3320.7px;top:1551.5px;width:1px;height:23.0px;background:#757575"></div>
<div class="col" style="left:3217.8px;top:1297.2px;font-size:22px;line-height:24.16px;">Model</div>
<div class="col" style="left:3383.0px;top:1297.2px;font-size:22px;line-height:24.16px;">Parameters</div>
<div class="col" style="left:3498.9px;top:1297.2px;font-size:22px;line-height:24.16px;">MACs</div>
<div class="col" style="left:3640.4px;top:1297.2px;font-size:22px;line-height:24.16px;">Training Time(s)</div>
<div class="col" style="left:3217.8px;top:1333.2px;font-size:22px;line-height:24.16px;">Informer [2021]<br>Autoformer [2021]<br>FEDformer [2022]<br>DLinear [2023]<br>PatchTST [2023]<br>iTransformer [2024]</div>
<div class="col" style="left:3383.0px;top:1333.2px;font-size:22px;line-height:24.16px;">12.53M<br>12.22M<br>17.98M<br>139.6K<br>10.74M<br>5.15M</div>
<div class="col" style="left:3498.9px;top:1333.2px;font-size:22px;line-height:24.16px;">3.97G<br>4.41G<br>4.41G<br>44.91M<br>25.87G<br>1.65G</div>
<div class="col" style="left:3640.4px;top:1333.2px;font-size:22px;line-height:24.16px;">70.1<br>107.7<br>238.7<br>18.1<br>129.5<br>35.1</div>
<div class="col" style="left:3217.8px;top:1490.0px;font-size:22px;line-height:24.16px;">CycleNet/MLP<br>CycleNet/Linear</div>
<div class="col" style="left:3383.0px;top:1490.0px;font-size:22px;line-height:24.16px;">472.9K<br>123.7K</div>
<div class="col" style="left:3498.9px;top:1490.0px;font-size:22px;line-height:24.16px;">134.84M<br>22.42M</div>
<div class="col" style="left:3640.4px;top:1490.0px;font-size:22px;line-height:24.16px;">30.8<br>29.6</div>
<div class="col" style="left:3217.8px;top:1549.7px;font-size:22px;line-height:24.16px;">RCF part</div>
<div class="col" style="left:3383.0px;top:1549.7px;font-size:22px;line-height:24.16px;">53.9K</div>
<div class="col" style="left:3498.9px;top:1549.7px;font-size:22px;line-height:24.16px;">0</div>
<div class="col" style="left:3640.4px;top:1549.7px;font-size:22px;line-height:24.16px;">12.8</div>
<div class="a" style="left:2606.8px;top:1286px;width:500.5px;height:302px;background:#1F4E79;border-radius:27px;box-sizing:border-box;border:1.5px solid #14213f"></div>
<div class="t ss ac" style="left:2857.0px;top:1324.5px;font-size:42.8px;color:#fff;font-weight:bold;-webkit-text-stroke:.45px #fff;">Achieving State-of-the-</div>
<div class="t ss ac" style="left:2857.0px;top:1388.6px;font-size:42.8px;color:#fff;font-weight:bold;-webkit-text-stroke:.45px #fff;">Art Performance with</div>
<div class="t ss ac" style="left:2857.0px;top:1453.3px;font-size:42.8px;color:#fff;font-weight:bold;-webkit-text-stroke:.45px #fff;">Minimal Computational</div>
<div class="t ss ac" style="left:2857.0px;top:1516.9px;font-size:42.8px;color:#fff;font-weight:bold;-webkit-text-stroke:.45px #fff;">Resources</div>
<div class="t ss ac" style="left:2767.1px;top:1764.4px;font-size:36.5px;color:#1F4E79;font-weight:bold;-webkit-text-stroke:.4px #1F4E79;">Paper</div>
<div class="t ss ac" style="left:3153.7px;top:1764.4px;font-size:36.5px;color:#1F4E79;font-weight:bold;-webkit-text-stroke:.4px #1F4E79;">Code</div>
<div class="t ss ac" style="left:3541.3px;top:1764.4px;font-size:36.5px;color:#1F4E79;font-weight:bold;-webkit-text-stroke:.4px #1F4E79;">Slides</div>
<svg width="288.2" height="287.6" viewBox="0 0 288.2 288.2" preserveAspectRatio="none" style="left:2627.7px;top:1827.0px"><path d="M71.4 1.5h5.8v5.8h-5.8zM141.2 1.5h5.8v5.8h-5.8zM158.7 1.5h5.8v5.8h-5.8zM167.4 1.5h5.8v5.8h-5.8zM184.9 1.5h5.8v5.8h-5.8zM193.6 1.5h5.8v5.8h-5.8zM202.4 1.5h5.8v5.8h-5.8zM211.1 1.5h5.8v5.8h-5.8zM80.1 10.2h5.8v5.8h-5.8zM88.8 10.2h5.8v5.8h-5.8zM97.6 10.2h5.8v5.8h-5.8zM106.3 10.2h5.8v5.8h-5.8zM115.0 10.2h5.8v5.8h-5.8zM167.4 10.2h5.8v5.8h-5.8zM176.2 10.2h5.8v5.8h-5.8zM193.6 10.2h5.8v5.8h-5.8zM202.4 10.2h5.8v5.8h-5.8zM88.8 19.0h5.8v5.8h-5.8zM106.3 19.0h5.8v5.8h-5.8zM115.0 19.0h5.8v5.8h-5.8zM123.8 19.0h5.8v5.8h-5.8zM132.5 19.0h5.8v5.8h-5.8zM176.2 19.0h5.8v5.8h-5.8zM202.4 19.0h5.8v5.8h-5.8zM211.1 19.0h5.8v5.8h-5.8zM71.4 27.7h5.8v5.8h-5.8zM88.8 27.7h5.8v5.8h-5.8zM132.5 27.7h5.8v5.8h-5.8zM150.0 27.7h5.8v5.8h-5.8zM176.2 27.7h5.8v5.8h-5.8zM193.6 27.7h5.8v5.8h-5.8zM80.1 36.4h5.8v5.8h-5.8zM88.8 36.4h5.8v5.8h-5.8zM97.6 36.4h5.8v5.8h-5.8zM106.3 36.4h5.8v5.8h-5.8zM115.0 36.4h5.8v5.8h-5.8zM141.2 36.4h5.8v5.8h-5.8zM158.7 36.4h5.8v5.8h-5.8zM80.1 45.2h5.8v5.8h-5.8zM88.8 45.2h5.8v5.8h-5.8zM132.5 45.2h5.8v5.8h-5.8zM141.2 45.2h5.8v5.8h-5.8zM150.0 45.2h5.8v5.8h-5.8zM158.7 45.2h5.8v5.8h-5.8zM176.2 45.2h5.8v5.8h-5.8zM184.9 45.2h5.8v5.8h-5.8zM71.4 53.9h5.8v5.8h-5.8zM88.8 53.9h5.8v5.8h-5.8zM106.3 53.9h5.8v5.8h-5.8zM123.8 53.9h5.8v5.8h-5.8zM141.2 53.9h5.8v5.8h-5.8zM158.7 53.9h5.8v5.8h-5.8zM176.2 53.9h5.8v5.8h-5.8zM193.6 53.9h5.8v5.8h-5.8zM211.1 53.9h5.8v5.8h-5.8zM97.6 62.6h5.8v5.8h-5.8zM115.0 62.6h5.8v5.8h-5.8zM123.8 62.6h5.8v5.8h-5.8zM150.0 62.6h5.8v5.8h-5.8zM158.7 62.6h5.8v5.8h-5.8zM184.9 62.6h5.8v5.8h-5.8zM193.6 62.6h5.8v5.8h-5.8zM211.1 62.6h5.8v5.8h-5.8zM19.0 71.4h5.8v5.8h-5.8zM36.4 71.4h5.8v5.8h-5.8zM45.2 71.4h5.8v5.8h-5.8zM53.9 71.4h5.8v5.8h-5.8zM71.4 71.4h5.8v5.8h-5.8zM80.1 71.4h5.8v5.8h-5.8zM88.8 71.4h5.8v5.8h-5.8zM97.6 71.4h5.8v5.8h-5.8zM106.3 71.4h5.8v5.8h-5.8zM123.8 71.4h5.8v5.8h-5.8zM132.5 71.4h5.8v5.8h-5.8zM150.0 71.4h5.8v5.8h-5.8zM193.6 71.4h5.8v5.8h-5.8zM202.4 71.4h5.8v5.8h-5.8zM219.8 71.4h5.8v5.8h-5.8zM254.8 71.4h5.8v5.8h-5.8zM281.0 71.4h5.8v5.8h-5.8zM10.2 80.1h5.8v5.8h-5.8zM27.7 80.1h5.8v5.8h-5.8zM45.2 80.1h5.8v5.8h-5.8zM62.6 80.1h5.8v5.8h-5.8zM71.4 80.1h5.8v5.8h-5.8zM106.3 80.1h5.8v5.8h-5.8zM132.5 80.1h5.8v5.8h-5.8zM141.2 80.1h5.8v5.8h-5.8zM150.0 80.1h5.8v5.8h-5.8zM176.2 80.1h5.8v5.8h-5.8zM184.9 80.1h5.8v5.8h-5.8zM193.6 80.1h5.8v5.8h-5.8zM202.4 80.1h5.8v5.8h-5.8zM228.6 80.1h5.8v5.8h-5.8zM263.5 80.1h5.8v5.8h-5.8zM281.0 80.1h5.8v5.8h-5.8zM19.0 88.8h5.8v5.8h-5.8zM36.4 88.8h5.8v5.8h-5.8zM53.9 88.8h5.8v5.8h-5.8zM62.6 88.8h5.8v5.8h-5.8zM71.4 88.8h5.8v5.8h-5.8zM97.6 88.8h5.8v5.8h-5.8zM123.8 88.8h5.8v5.8h-5.8zM141.2 88.8h5.8v5.8h-5.8zM150.0 88.8h5.8v5.8h-5.8zM176.2 88.8h5.8v5.8h-5.8zM193.6 88.8h5.8v5.8h-5.8zM202.4 88.8h5.8v5.8h-5.8zM246.0 88.8h5.8v5.8h-5.8zM254.8 88.8h5.8v5.8h-5.8zM272.2 88.8h5.8v5.8h-5.8zM281.0 88.8h5.8v5.8h-5.8zM1.5 97.6h5.8v5.8h-5.8zM27.7 97.6h5.8v5.8h-5.8zM36.4 97.6h5.8v5.8h-5.8zM62.6 97.6h5.8v5.8h-5.8zM71.4 97.6h5.8v5.8h-5.8zM88.8 97.6h5.8v5.8h-5.8zM115.0 97.6h5.8v5.8h-5.8zM141.2 97.6h5.8v5.8h-5.8zM150.0 97.6h5.8v5.8h-5.8zM167.4 97.6h5.8v5.8h-5.8zM184.9 97.6h5.8v5.8h-5.8zM193.6 97.6h5.8v5.8h-5.8zM211.1 97.6h5.8v5.8h-5.8zM1.5 106.3h5.8v5.8h-5.8zM10.2 106.3h5.8v5.8h-5.8zM27.7 106.3h5.8v5.8h-5.8zM53.9 106.3h5.8v5.8h-5.8zM62.6 106.3h5.8v5.8h-5.8zM80.1 106.3h5.8v5.8h-5.8zM88.8 106.3h5.8v5.8h-5.8zM97.6 106.3h5.8v5.8h-5.8zM193.6 106.3h5.8v5.8h-5.8zM202.4 106.3h5.8v5.8h-5.8zM211.1 106.3h5.8v5.8h-5.8zM219.8 106.3h5.8v5.8h-5.8zM228.6 106.3h5.8v5.8h-5.8zM237.3 106.3h5.8v5.8h-5.8zM254.8 106.3h5.8v5.8h-5.8zM281.0 106.3h5.8v5.8h-5.8zM19.0 115.0h5.8v5.8h-5.8zM36.4 115.0h5.8v5.8h-5.8zM45.2 115.0h5.8v5.8h-5.8zM62.6 115.0h5.8v5.8h-5.8zM71.4 115.0h5.8v5.8h-5.8zM80.1 115.0h5.8v5.8h-5.8zM88.8 115.0h5.8v5.8h-5.8zM97.6 115.0h5.8v5.8h-5.8zM193.6 115.0h5.8v5.8h-5.8zM211.1 115.0h5.8v5.8h-5.8zM228.6 115.0h5.8v5.8h-5.8zM237.3 115.0h5.8v5.8h-5.8zM246.0 115.0h5.8v5.8h-5.8zM263.5 115.0h5.8v5.8h-5.8zM272.2 115.0h5.8v5.8h-5.8zM281.0 115.0h5.8v5.8h-5.8zM1.5 123.8h5.8v5.8h-5.8zM10.2 123.8h5.8v5.8h-5.8zM19.0 123.8h5.8v5.8h-5.8zM27.7 123.8h5.8v5.8h-5.8zM45.2 123.8h5.8v5.8h-5.8zM53.9 123.8h5.8v5.8h-5.8zM62.6 123.8h5.8v5.8h-5.8zM80.1 123.8h5.8v5.8h-5.8zM97.6 123.8h5.8v5.8h-5.8zM184.9 123.8h5.8v5.8h-5.8zM211.1 123.8h5.8v5.8h-5.8zM219.8 123.8h5.8v5.8h-5.8zM228.6 123.8h5.8v5.8h-5.8zM237.3 123.8h5.8v5.8h-5.8zM263.5 123.8h5.8v5.8h-5.8zM272.2 123.8h5.8v5.8h-5.8zM281.0 123.8h5.8v5.8h-5.8zM1.5 132.5h5.8v5.8h-5.8zM10.2 132.5h5.8v5.8h-5.8zM36.4 132.5h5.8v5.8h-5.8zM71.4 132.5h5.8v5.8h-5.8zM80.1 132.5h5.8v5.8h-5.8zM88.8 132.5h5.8v5.8h-5.8zM97.6 132.5h5.8v5.8h-5.8zM184.9 132.5h5.8v5.8h-5.8zM193.6 132.5h5.8v5.8h-5.8zM211.1 132.5h5.8v5.8h-5.8zM219.8 132.5h5.8v5.8h-5.8zM228.6 132.5h5.8v5.8h-5.8zM237.3 132.5h5.8v5.8h-5.8zM246.0 132.5h5.8v5.8h-5.8zM254.8 132.5h5.8v5.8h-5.8zM10.2 141.2h5.8v5.8h-5.8zM27.7 141.2h5.8v5.8h-5.8zM36.4 141.2h5.8v5.8h-5.8zM53.9 141.2h5.8v5.8h-5.8zM184.9 141.2h5.8v5.8h-5.8zM193.6 141.2h5.8v5.8h-5.8zM202.4 141.2h5.8v5.8h-5.8zM228.6 141.2h5.8v5.8h-5.8zM254.8 141.2h5.8v5.8h-5.8zM263.5 141.2h5.8v5.8h-5.8zM272.2 141.2h5.8v5.8h-5.8zM281.0 141.2h5.8v5.8h-5.8zM1.5 150.0h5.8v5.8h-5.8zM10.2 150.0h5.8v5.8h-5.8zM27.7 150.0h5.8v5.8h-5.8zM36.4 150.0h5.8v5.8h-5.8zM45.2 150.0h5.8v5.8h-5.8zM80.1 150.0h5.8v5.8h-5.8zM97.6 150.0h5.8v5.8h-5.8zM184.9 150.0h5.8v5.8h-5.8zM219.8 150.0h5.8v5.8h-5.8zM228.6 150.0h5.8v5.8h-5.8zM254.8 150.0h5.8v5.8h-5.8zM263.5 150.0h5.8v5.8h-5.8zM281.0 150.0h5.8v5.8h-5.8zM10.2 158.7h5.8v5.8h-5.8zM19.0 158.7h5.8v5.8h-5.8zM53.9 158.7h5.8v5.8h-5.8zM62.6 158.7h5.8v5.8h-5.8zM80.1 158.7h5.8v5.8h-5.8zM184.9 158.7h5.8v5.8h-5.8zM193.6 158.7h5.8v5.8h-5.8zM228.6 158.7h5.8v5.8h-5.8zM246.0 158.7h5.8v5.8h-5.8zM263.5 158.7h5.8v5.8h-5.8zM272.2 158.7h5.8v5.8h-5.8zM1.5 167.4h5.8v5.8h-5.8zM10.2 167.4h5.8v5.8h-5.8zM27.7 167.4h5.8v5.8h-5.8zM88.8 167.4h5.8v5.8h-5.8zM97.6 167.4h5.8v5.8h-5.8zM184.9 167.4h5.8v5.8h-5.8zM219.8 167.4h5.8v5.8h-5.8zM228.6 167.4h5.8v5.8h-5.8zM272.2 167.4h5.8v5.8h-5.8zM281.0 167.4h5.8v5.8h-5.8zM27.7 176.2h5.8v5.8h-5.8zM53.9 176.2h5.8v5.8h-5.8zM88.8 176.2h5.8v5.8h-5.8zM184.9 176.2h5.8v5.8h-5.8zM211.1 176.2h5.8v5.8h-5.8zM219.8 176.2h5.8v5.8h-5.8zM228.6 176.2h5.8v5.8h-5.8zM254.8 176.2h5.8v5.8h-5.8zM272.2 176.2h5.8v5.8h-5.8zM281.0 176.2h5.8v5.8h-5.8zM10.2 184.9h5.8v5.8h-5.8zM36.4 184.9h5.8v5.8h-5.8zM45.2 184.9h5.8v5.8h-5.8zM62.6 184.9h5.8v5.8h-5.8zM71.4 184.9h5.8v5.8h-5.8zM80.1 184.9h5.8v5.8h-5.8zM88.8 184.9h5.8v5.8h-5.8zM97.6 184.9h5.8v5.8h-5.8zM123.8 184.9h5.8v5.8h-5.8zM141.2 184.9h5.8v5.8h-5.8zM150.0 184.9h5.8v5.8h-5.8zM167.4 184.9h5.8v5.8h-5.8zM184.9 184.9h5.8v5.8h-5.8zM202.4 184.9h5.8v5.8h-5.8zM219.8 184.9h5.8v5.8h-5.8zM254.8 184.9h5.8v5.8h-5.8zM272.2 184.9h5.8v5.8h-5.8zM281.0 184.9h5.8v5.8h-5.8zM1.5 193.6h5.8v5.8h-5.8zM19.0 193.6h5.8v5.8h-5.8zM53.9 193.6h5.8v5.8h-5.8zM62.6 193.6h5.8v5.8h-5.8zM71.4 193.6h5.8v5.8h-5.8zM80.1 193.6h5.8v5.8h-5.8zM88.8 193.6h5.8v5.8h-5.8zM97.6 193.6h5.8v5.8h-5.8zM106.3 193.6h5.8v5.8h-5.8zM132.5 193.6h5.8v5.8h-5.8zM141.2 193.6h5.8v5.8h-5.8zM150.0 193.6h5.8v5.8h-5.8zM158.7 193.6h5.8v5.8h-5.8zM184.9 193.6h5.8v5.8h-5.8zM211.1 193.6h5.8v5.8h-5.8zM228.6 193.6h5.8v5.8h-5.8zM246.0 193.6h5.8v5.8h-5.8zM281.0 193.6h5.8v5.8h-5.8zM10.2 202.4h5.8v5.8h-5.8zM71.4 202.4h5.8v5.8h-5.8zM97.6 202.4h5.8v5.8h-5.8zM115.0 202.4h5.8v5.8h-5.8zM123.8 202.4h5.8v5.8h-5.8zM141.2 202.4h5.8v5.8h-5.8zM150.0 202.4h5.8v5.8h-5.8zM158.7 202.4h5.8v5.8h-5.8zM202.4 202.4h5.8v5.8h-5.8zM219.8 202.4h5.8v5.8h-5.8zM237.3 202.4h5.8v5.8h-5.8zM246.0 202.4h5.8v5.8h-5.8zM281.0 202.4h5.8v5.8h-5.8zM1.5 211.1h5.8v5.8h-5.8zM19.0 211.1h5.8v5.8h-5.8zM27.7 211.1h5.8v5.8h-5.8zM36.4 211.1h5.8v5.8h-5.8zM45.2 211.1h5.8v5.8h-5.8zM53.9 211.1h5.8v5.8h-5.8zM97.6 211.1h5.8v5.8h-5.8zM123.8 211.1h5.8v5.8h-5.8zM141.2 211.1h5.8v5.8h-5.8zM150.0 211.1h5.8v5.8h-5.8zM193.6 211.1h5.8v5.8h-5.8zM211.1 211.1h5.8v5.8h-5.8zM219.8 211.1h5.8v5.8h-5.8zM228.6 211.1h5.8v5.8h-5.8zM237.3 211.1h5.8v5.8h-5.8zM246.0 211.1h5.8v5.8h-5.8zM254.8 211.1h5.8v5.8h-5.8zM272.2 211.1h5.8v5.8h-5.8zM281.0 211.1h5.8v5.8h-5.8zM71.4 219.8h5.8v5.8h-5.8zM80.1 219.8h5.8v5.8h-5.8zM88.8 219.8h5.8v5.8h-5.8zM106.3 219.8h5.8v5.8h-5.8zM115.0 219.8h5.8v5.8h-5.8zM123.8 219.8h5.8v5.8h-5.8zM132.5 219.8h5.8v5.8h-5.8zM211.1 219.8h5.8v5.8h-5.8zM246.0 219.8h5.8v5.8h-5.8zM254.8 219.8h5.8v5.8h-5.8zM272.2 219.8h5.8v5.8h-5.8zM281.0 219.8h5.8v5.8h-5.8zM106.3 228.6h5.8v5.8h-5.8zM123.8 228.6h5.8v5.8h-5.8zM132.5 228.6h5.8v5.8h-5.8zM141.2 228.6h5.8v5.8h-5.8zM167.4 228.6h5.8v5.8h-5.8zM184.9 228.6h5.8v5.8h-5.8zM211.1 228.6h5.8v5.8h-5.8zM228.6 228.6h5.8v5.8h-5.8zM246.0 228.6h5.8v5.8h-5.8zM263.5 228.6h5.8v5.8h-5.8zM272.2 228.6h5.8v5.8h-5.8zM281.0 228.6h5.8v5.8h-5.8zM71.4 237.3h5.8v5.8h-5.8zM97.6 237.3h5.8v5.8h-5.8zM106.3 237.3h5.8v5.8h-5.8zM115.0 237.3h5.8v5.8h-5.8zM123.8 237.3h5.8v5.8h-5.8zM150.0 237.3h5.8v5.8h-5.8zM176.2 237.3h5.8v5.8h-5.8zM211.1 237.3h5.8v5.8h-5.8zM246.0 237.3h5.8v5.8h-5.8zM281.0 237.3h5.8v5.8h-5.8zM71.4 246.0h5.8v5.8h-5.8zM106.3 246.0h5.8v5.8h-5.8zM123.8 246.0h5.8v5.8h-5.8zM150.0 246.0h5.8v5.8h-5.8zM167.4 246.0h5.8v5.8h-5.8zM211.1 246.0h5.8v5.8h-5.8zM219.8 246.0h5.8v5.8h-5.8zM228.6 246.0h5.8v5.8h-5.8zM237.3 246.0h5.8v5.8h-5.8zM246.0 246.0h5.8v5.8h-5.8zM272.2 246.0h5.8v5.8h-5.8zM80.1 254.8h5.8v5.8h-5.8zM106.3 254.8h5.8v5.8h-5.8zM115.0 254.8h5.8v5.8h-5.8zM132.5 254.8h5.8v5.8h-5.8zM150.0 254.8h5.8v5.8h-5.8zM167.4 254.8h5.8v5.8h-5.8zM176.2 254.8h5.8v5.8h-5.8zM184.9 254.8h5.8v5.8h-5.8zM202.4 254.8h5.8v5.8h-5.8zM246.0 254.8h5.8v5.8h-5.8zM254.8 254.8h5.8v5.8h-5.8zM263.5 254.8h5.8v5.8h-5.8zM71.4 263.5h5.8v5.8h-5.8zM97.6 263.5h5.8v5.8h-5.8zM106.3 263.5h5.8v5.8h-5.8zM167.4 263.5h5.8v5.8h-5.8zM184.9 263.5h5.8v5.8h-5.8zM211.1 263.5h5.8v5.8h-5.8zM219.8 263.5h5.8v5.8h-5.8zM237.3 263.5h5.8v5.8h-5.8zM246.0 263.5h5.8v5.8h-5.8zM281.0 263.5h5.8v5.8h-5.8zM88.8 272.2h5.8v5.8h-5.8zM150.0 272.2h5.8v5.8h-5.8zM158.7 272.2h5.8v5.8h-5.8zM167.4 272.2h5.8v5.8h-5.8zM184.9 272.2h5.8v5.8h-5.8zM193.6 272.2h5.8v5.8h-5.8zM202.4 272.2h5.8v5.8h-5.8zM211.1 272.2h5.8v5.8h-5.8zM237.3 272.2h5.8v5.8h-5.8zM254.8 272.2h5.8v5.8h-5.8zM263.5 272.2h5.8v5.8h-5.8zM272.2 272.2h5.8v5.8h-5.8zM97.6 281.0h5.8v5.8h-5.8zM132.5 281.0h5.8v5.8h-5.8zM150.0 281.0h5.8v5.8h-5.8zM211.1 281.0h5.8v5.8h-5.8zM237.3 281.0h5.8v5.8h-5.8zM246.0 281.0h5.8v5.8h-5.8zM263.5 281.0h5.8v5.8h-5.8zM272.2 281.0h5.8v5.8h-5.8zM281.0 281.0h5.8v5.8h-5.8z" fill="#000" stroke="#000" stroke-width="1.40" stroke-linejoin="round"/><rect x="4.4" y="4.4" width="52.4" height="52.4" fill="none" stroke="#000" stroke-width="8.7"/><rect x="17.5" y="17.5" width="26.2" height="26.2" fill="#000"/><rect x="231.4" y="4.4" width="52.4" height="52.4" fill="none" stroke="#000" stroke-width="8.7"/><rect x="244.5" y="17.5" width="26.2" height="26.2" fill="#000"/><rect x="4.4" y="231.4" width="52.4" height="52.4" fill="none" stroke="#000" stroke-width="8.7"/><rect x="17.5" y="244.5" width="26.2" height="26.2" fill="#000"/></svg>
<svg width="291.4" height="290.6" viewBox="0 0 291.4 291.4" preserveAspectRatio="none" style="left:3008.7px;top:1825.6px"><path d="M64.3 1.3h5.2v5.2h-5.2zM80.1 1.3h5.2v5.2h-5.2zM88.0 1.3h5.2v5.2h-5.2zM95.8 1.3h5.2v5.2h-5.2zM111.6 1.3h5.2v5.2h-5.2zM127.3 1.3h5.2v5.2h-5.2zM135.2 1.3h5.2v5.2h-5.2zM158.9 1.3h5.2v5.2h-5.2zM166.7 1.3h5.2v5.2h-5.2zM174.6 1.3h5.2v5.2h-5.2zM182.5 1.3h5.2v5.2h-5.2zM206.1 1.3h5.2v5.2h-5.2zM214.0 1.3h5.2v5.2h-5.2zM221.9 1.3h5.2v5.2h-5.2zM72.2 9.2h5.2v5.2h-5.2zM88.0 9.2h5.2v5.2h-5.2zM103.7 9.2h5.2v5.2h-5.2zM143.1 9.2h5.2v5.2h-5.2zM174.6 9.2h5.2v5.2h-5.2zM190.4 9.2h5.2v5.2h-5.2zM198.2 9.2h5.2v5.2h-5.2zM214.0 9.2h5.2v5.2h-5.2zM221.9 9.2h5.2v5.2h-5.2zM72.2 17.1h5.2v5.2h-5.2zM80.1 17.1h5.2v5.2h-5.2zM88.0 17.1h5.2v5.2h-5.2zM103.7 17.1h5.2v5.2h-5.2zM111.6 17.1h5.2v5.2h-5.2zM127.3 17.1h5.2v5.2h-5.2zM143.1 17.1h5.2v5.2h-5.2zM158.9 17.1h5.2v5.2h-5.2zM166.7 17.1h5.2v5.2h-5.2zM174.6 17.1h5.2v5.2h-5.2zM182.5 17.1h5.2v5.2h-5.2zM198.2 17.1h5.2v5.2h-5.2zM206.1 17.1h5.2v5.2h-5.2zM64.3 25.0h5.2v5.2h-5.2zM80.1 25.0h5.2v5.2h-5.2zM88.0 25.0h5.2v5.2h-5.2zM103.7 25.0h5.2v5.2h-5.2zM111.6 25.0h5.2v5.2h-5.2zM127.3 25.0h5.2v5.2h-5.2zM135.2 25.0h5.2v5.2h-5.2zM143.1 25.0h5.2v5.2h-5.2zM166.7 25.0h5.2v5.2h-5.2zM174.6 25.0h5.2v5.2h-5.2zM190.4 25.0h5.2v5.2h-5.2zM206.1 25.0h5.2v5.2h-5.2zM88.0 32.8h5.2v5.2h-5.2zM95.8 32.8h5.2v5.2h-5.2zM103.7 32.8h5.2v5.2h-5.2zM119.5 32.8h5.2v5.2h-5.2zM206.1 32.8h5.2v5.2h-5.2zM214.0 32.8h5.2v5.2h-5.2zM221.9 32.8h5.2v5.2h-5.2zM72.2 40.7h5.2v5.2h-5.2zM80.1 40.7h5.2v5.2h-5.2zM88.0 40.7h5.2v5.2h-5.2zM95.8 40.7h5.2v5.2h-5.2zM111.6 40.7h5.2v5.2h-5.2zM143.1 40.7h5.2v5.2h-5.2zM151.0 40.7h5.2v5.2h-5.2zM158.9 40.7h5.2v5.2h-5.2zM182.5 40.7h5.2v5.2h-5.2zM198.2 40.7h5.2v5.2h-5.2zM214.0 40.7h5.2v5.2h-5.2zM221.9 40.7h5.2v5.2h-5.2zM64.3 48.6h5.2v5.2h-5.2zM80.1 48.6h5.2v5.2h-5.2zM95.8 48.6h5.2v5.2h-5.2zM111.6 48.6h5.2v5.2h-5.2zM127.3 48.6h5.2v5.2h-5.2zM143.1 48.6h5.2v5.2h-5.2zM158.9 48.6h5.2v5.2h-5.2zM174.6 48.6h5.2v5.2h-5.2zM190.4 48.6h5.2v5.2h-5.2zM206.1 48.6h5.2v5.2h-5.2zM221.9 48.6h5.2v5.2h-5.2zM72.2 56.5h5.2v5.2h-5.2zM80.1 56.5h5.2v5.2h-5.2zM88.0 56.5h5.2v5.2h-5.2zM95.8 56.5h5.2v5.2h-5.2zM111.6 56.5h5.2v5.2h-5.2zM151.0 56.5h5.2v5.2h-5.2zM174.6 56.5h5.2v5.2h-5.2zM182.5 56.5h5.2v5.2h-5.2zM198.2 56.5h5.2v5.2h-5.2zM206.1 56.5h5.2v5.2h-5.2zM221.9 56.5h5.2v5.2h-5.2zM17.1 64.3h5.2v5.2h-5.2zM32.8 64.3h5.2v5.2h-5.2zM40.7 64.3h5.2v5.2h-5.2zM48.6 64.3h5.2v5.2h-5.2zM64.3 64.3h5.2v5.2h-5.2zM72.2 64.3h5.2v5.2h-5.2zM88.0 64.3h5.2v5.2h-5.2zM95.8 64.3h5.2v5.2h-5.2zM103.7 64.3h5.2v5.2h-5.2zM119.5 64.3h5.2v5.2h-5.2zM127.3 64.3h5.2v5.2h-5.2zM135.2 64.3h5.2v5.2h-5.2zM158.9 64.3h5.2v5.2h-5.2zM174.6 64.3h5.2v5.2h-5.2zM182.5 64.3h5.2v5.2h-5.2zM190.4 64.3h5.2v5.2h-5.2zM206.1 64.3h5.2v5.2h-5.2zM214.0 64.3h5.2v5.2h-5.2zM221.9 64.3h5.2v5.2h-5.2zM229.7 64.3h5.2v5.2h-5.2zM261.2 64.3h5.2v5.2h-5.2zM284.9 64.3h5.2v5.2h-5.2zM9.2 72.2h5.2v5.2h-5.2zM40.7 72.2h5.2v5.2h-5.2zM56.5 72.2h5.2v5.2h-5.2zM64.3 72.2h5.2v5.2h-5.2zM72.2 72.2h5.2v5.2h-5.2zM95.8 72.2h5.2v5.2h-5.2zM111.6 72.2h5.2v5.2h-5.2zM119.5 72.2h5.2v5.2h-5.2zM143.1 72.2h5.2v5.2h-5.2zM158.9 72.2h5.2v5.2h-5.2zM166.7 72.2h5.2v5.2h-5.2zM206.1 72.2h5.2v5.2h-5.2zM214.0 72.2h5.2v5.2h-5.2zM221.9 72.2h5.2v5.2h-5.2zM229.7 72.2h5.2v5.2h-5.2zM245.5 72.2h5.2v5.2h-5.2zM261.2 72.2h5.2v5.2h-5.2zM269.1 72.2h5.2v5.2h-5.2zM1.3 80.1h5.2v5.2h-5.2zM9.2 80.1h5.2v5.2h-5.2zM17.1 80.1h5.2v5.2h-5.2zM25.0 80.1h5.2v5.2h-5.2zM32.8 80.1h5.2v5.2h-5.2zM48.6 80.1h5.2v5.2h-5.2zM72.2 80.1h5.2v5.2h-5.2zM88.0 80.1h5.2v5.2h-5.2zM103.7 80.1h5.2v5.2h-5.2zM143.1 80.1h5.2v5.2h-5.2zM151.0 80.1h5.2v5.2h-5.2zM166.7 80.1h5.2v5.2h-5.2zM174.6 80.1h5.2v5.2h-5.2zM182.5 80.1h5.2v5.2h-5.2zM198.2 80.1h5.2v5.2h-5.2zM214.0 80.1h5.2v5.2h-5.2zM221.9 80.1h5.2v5.2h-5.2zM237.6 80.1h5.2v5.2h-5.2zM253.4 80.1h5.2v5.2h-5.2zM261.2 80.1h5.2v5.2h-5.2zM269.1 80.1h5.2v5.2h-5.2zM277.0 80.1h5.2v5.2h-5.2zM1.3 88.0h5.2v5.2h-5.2zM9.2 88.0h5.2v5.2h-5.2zM25.0 88.0h5.2v5.2h-5.2zM32.8 88.0h5.2v5.2h-5.2zM40.7 88.0h5.2v5.2h-5.2zM56.5 88.0h5.2v5.2h-5.2zM64.3 88.0h5.2v5.2h-5.2zM80.1 88.0h5.2v5.2h-5.2zM95.8 88.0h5.2v5.2h-5.2zM103.7 88.0h5.2v5.2h-5.2zM119.5 88.0h5.2v5.2h-5.2zM190.4 88.0h5.2v5.2h-5.2zM198.2 88.0h5.2v5.2h-5.2zM206.1 88.0h5.2v5.2h-5.2zM221.9 88.0h5.2v5.2h-5.2zM229.7 88.0h5.2v5.2h-5.2zM245.5 88.0h5.2v5.2h-5.2zM269.1 88.0h5.2v5.2h-5.2zM277.0 88.0h5.2v5.2h-5.2zM9.2 95.8h5.2v5.2h-5.2zM17.1 95.8h5.2v5.2h-5.2zM25.0 95.8h5.2v5.2h-5.2zM40.7 95.8h5.2v5.2h-5.2zM48.6 95.8h5.2v5.2h-5.2zM88.0 95.8h5.2v5.2h-5.2zM111.6 95.8h5.2v5.2h-5.2zM119.5 95.8h5.2v5.2h-5.2zM143.1 95.8h5.2v5.2h-5.2zM151.0 95.8h5.2v5.2h-5.2zM166.7 95.8h5.2v5.2h-5.2zM190.4 95.8h5.2v5.2h-5.2zM198.2 95.8h5.2v5.2h-5.2zM214.0 95.8h5.2v5.2h-5.2zM221.9 95.8h5.2v5.2h-5.2zM229.7 95.8h5.2v5.2h-5.2zM237.6 95.8h5.2v5.2h-5.2zM245.5 95.8h5.2v5.2h-5.2zM253.4 95.8h5.2v5.2h-5.2zM269.1 95.8h5.2v5.2h-5.2zM277.0 95.8h5.2v5.2h-5.2zM284.9 95.8h5.2v5.2h-5.2zM9.2 103.7h5.2v5.2h-5.2zM32.8 103.7h5.2v5.2h-5.2zM40.7 103.7h5.2v5.2h-5.2zM80.1 103.7h5.2v5.2h-5.2zM88.0 103.7h5.2v5.2h-5.2zM95.8 103.7h5.2v5.2h-5.2zM111.6 103.7h5.2v5.2h-5.2zM143.1 103.7h5.2v5.2h-5.2zM151.0 103.7h5.2v5.2h-5.2zM158.9 103.7h5.2v5.2h-5.2zM166.7 103.7h5.2v5.2h-5.2zM198.2 103.7h5.2v5.2h-5.2zM214.0 103.7h5.2v5.2h-5.2zM237.6 103.7h5.2v5.2h-5.2zM261.2 103.7h5.2v5.2h-5.2zM269.1 103.7h5.2v5.2h-5.2zM277.0 103.7h5.2v5.2h-5.2zM284.9 103.7h5.2v5.2h-5.2zM1.3 111.6h5.2v5.2h-5.2zM9.2 111.6h5.2v5.2h-5.2zM25.0 111.6h5.2v5.2h-5.2zM48.6 111.6h5.2v5.2h-5.2zM88.0 111.6h5.2v5.2h-5.2zM103.7 111.6h5.2v5.2h-5.2zM190.4 111.6h5.2v5.2h-5.2zM206.1 111.6h5.2v5.2h-5.2zM214.0 111.6h5.2v5.2h-5.2zM221.9 111.6h5.2v5.2h-5.2zM229.7 111.6h5.2v5.2h-5.2zM253.4 111.6h5.2v5.2h-5.2zM269.1 111.6h5.2v5.2h-5.2zM277.0 111.6h5.2v5.2h-5.2zM284.9 111.6h5.2v5.2h-5.2zM1.3 119.5h5.2v5.2h-5.2zM17.1 119.5h5.2v5.2h-5.2zM32.8 119.5h5.2v5.2h-5.2zM72.2 119.5h5.2v5.2h-5.2zM80.1 119.5h5.2v5.2h-5.2zM95.8 119.5h5.2v5.2h-5.2zM198.2 119.5h5.2v5.2h-5.2zM221.9 119.5h5.2v5.2h-5.2zM229.7 119.5h5.2v5.2h-5.2zM237.6 119.5h5.2v5.2h-5.2zM253.4 119.5h5.2v5.2h-5.2zM277.0 119.5h5.2v5.2h-5.2zM9.2 127.3h5.2v5.2h-5.2zM17.1 127.3h5.2v5.2h-5.2zM25.0 127.3h5.2v5.2h-5.2zM48.6 127.3h5.2v5.2h-5.2zM56.5 127.3h5.2v5.2h-5.2zM80.1 127.3h5.2v5.2h-5.2zM198.2 127.3h5.2v5.2h-5.2zM221.9 127.3h5.2v5.2h-5.2zM229.7 127.3h5.2v5.2h-5.2zM237.6 127.3h5.2v5.2h-5.2zM261.2 127.3h5.2v5.2h-5.2zM277.0 127.3h5.2v5.2h-5.2zM284.9 127.3h5.2v5.2h-5.2zM17.1 135.2h5.2v5.2h-5.2zM25.0 135.2h5.2v5.2h-5.2zM32.8 135.2h5.2v5.2h-5.2zM40.7 135.2h5.2v5.2h-5.2zM56.5 135.2h5.2v5.2h-5.2zM88.0 135.2h5.2v5.2h-5.2zM95.8 135.2h5.2v5.2h-5.2zM221.9 135.2h5.2v5.2h-5.2zM229.7 135.2h5.2v5.2h-5.2zM237.6 135.2h5.2v5.2h-5.2zM245.5 135.2h5.2v5.2h-5.2zM261.2 135.2h5.2v5.2h-5.2zM269.1 135.2h5.2v5.2h-5.2zM277.0 135.2h5.2v5.2h-5.2zM284.9 135.2h5.2v5.2h-5.2zM1.3 143.1h5.2v5.2h-5.2zM17.1 143.1h5.2v5.2h-5.2zM25.0 143.1h5.2v5.2h-5.2zM32.8 143.1h5.2v5.2h-5.2zM48.6 143.1h5.2v5.2h-5.2zM72.2 143.1h5.2v5.2h-5.2zM88.0 143.1h5.2v5.2h-5.2zM103.7 143.1h5.2v5.2h-5.2zM190.4 143.1h5.2v5.2h-5.2zM198.2 143.1h5.2v5.2h-5.2zM229.7 143.1h5.2v5.2h-5.2zM237.6 143.1h5.2v5.2h-5.2zM269.1 143.1h5.2v5.2h-5.2zM277.0 143.1h5.2v5.2h-5.2zM284.9 143.1h5.2v5.2h-5.2zM9.2 151.0h5.2v5.2h-5.2zM17.1 151.0h5.2v5.2h-5.2zM40.7 151.0h5.2v5.2h-5.2zM80.1 151.0h5.2v5.2h-5.2zM88.0 151.0h5.2v5.2h-5.2zM103.7 151.0h5.2v5.2h-5.2zM182.5 151.0h5.2v5.2h-5.2zM190.4 151.0h5.2v5.2h-5.2zM198.2 151.0h5.2v5.2h-5.2zM206.1 151.0h5.2v5.2h-5.2zM221.9 151.0h5.2v5.2h-5.2zM229.7 151.0h5.2v5.2h-5.2zM237.6 151.0h5.2v5.2h-5.2zM245.5 151.0h5.2v5.2h-5.2zM277.0 151.0h5.2v5.2h-5.2zM284.9 151.0h5.2v5.2h-5.2zM9.2 158.9h5.2v5.2h-5.2zM40.7 158.9h5.2v5.2h-5.2zM48.6 158.9h5.2v5.2h-5.2zM56.5 158.9h5.2v5.2h-5.2zM72.2 158.9h5.2v5.2h-5.2zM80.1 158.9h5.2v5.2h-5.2zM88.0 158.9h5.2v5.2h-5.2zM182.5 158.9h5.2v5.2h-5.2zM190.4 158.9h5.2v5.2h-5.2zM198.2 158.9h5.2v5.2h-5.2zM206.1 158.9h5.2v5.2h-5.2zM214.0 158.9h5.2v5.2h-5.2zM221.9 158.9h5.2v5.2h-5.2zM237.6 158.9h5.2v5.2h-5.2zM245.5 158.9h5.2v5.2h-5.2zM261.2 158.9h5.2v5.2h-5.2zM284.9 158.9h5.2v5.2h-5.2zM9.2 166.7h5.2v5.2h-5.2zM64.3 166.7h5.2v5.2h-5.2zM80.1 166.7h5.2v5.2h-5.2zM182.5 166.7h5.2v5.2h-5.2zM190.4 166.7h5.2v5.2h-5.2zM237.6 166.7h5.2v5.2h-5.2zM277.0 166.7h5.2v5.2h-5.2zM284.9 166.7h5.2v5.2h-5.2zM1.3 174.6h5.2v5.2h-5.2zM9.2 174.6h5.2v5.2h-5.2zM17.1 174.6h5.2v5.2h-5.2zM32.8 174.6h5.2v5.2h-5.2zM48.6 174.6h5.2v5.2h-5.2zM56.5 174.6h5.2v5.2h-5.2zM64.3 174.6h5.2v5.2h-5.2zM103.7 174.6h5.2v5.2h-5.2zM198.2 174.6h5.2v5.2h-5.2zM221.9 174.6h5.2v5.2h-5.2zM229.7 174.6h5.2v5.2h-5.2zM253.4 174.6h5.2v5.2h-5.2zM261.2 174.6h5.2v5.2h-5.2zM269.1 174.6h5.2v5.2h-5.2zM1.3 182.5h5.2v5.2h-5.2zM32.8 182.5h5.2v5.2h-5.2zM40.7 182.5h5.2v5.2h-5.2zM72.2 182.5h5.2v5.2h-5.2zM80.1 182.5h5.2v5.2h-5.2zM88.0 182.5h5.2v5.2h-5.2zM95.8 182.5h5.2v5.2h-5.2zM111.6 182.5h5.2v5.2h-5.2zM119.5 182.5h5.2v5.2h-5.2zM135.2 182.5h5.2v5.2h-5.2zM143.1 182.5h5.2v5.2h-5.2zM151.0 182.5h5.2v5.2h-5.2zM166.7 182.5h5.2v5.2h-5.2zM182.5 182.5h5.2v5.2h-5.2zM229.7 182.5h5.2v5.2h-5.2zM237.6 182.5h5.2v5.2h-5.2zM261.2 182.5h5.2v5.2h-5.2zM277.0 182.5h5.2v5.2h-5.2zM1.3 190.4h5.2v5.2h-5.2zM9.2 190.4h5.2v5.2h-5.2zM17.1 190.4h5.2v5.2h-5.2zM25.0 190.4h5.2v5.2h-5.2zM40.7 190.4h5.2v5.2h-5.2zM48.6 190.4h5.2v5.2h-5.2zM64.3 190.4h5.2v5.2h-5.2zM88.0 190.4h5.2v5.2h-5.2zM111.6 190.4h5.2v5.2h-5.2zM127.3 190.4h5.2v5.2h-5.2zM135.2 190.4h5.2v5.2h-5.2zM143.1 190.4h5.2v5.2h-5.2zM151.0 190.4h5.2v5.2h-5.2zM166.7 190.4h5.2v5.2h-5.2zM174.6 190.4h5.2v5.2h-5.2zM190.4 190.4h5.2v5.2h-5.2zM214.0 190.4h5.2v5.2h-5.2zM229.7 190.4h5.2v5.2h-5.2zM253.4 190.4h5.2v5.2h-5.2zM269.1 190.4h5.2v5.2h-5.2zM277.0 190.4h5.2v5.2h-5.2zM25.0 198.2h5.2v5.2h-5.2zM32.8 198.2h5.2v5.2h-5.2zM56.5 198.2h5.2v5.2h-5.2zM88.0 198.2h5.2v5.2h-5.2zM95.8 198.2h5.2v5.2h-5.2zM103.7 198.2h5.2v5.2h-5.2zM119.5 198.2h5.2v5.2h-5.2zM127.3 198.2h5.2v5.2h-5.2zM135.2 198.2h5.2v5.2h-5.2zM143.1 198.2h5.2v5.2h-5.2zM151.0 198.2h5.2v5.2h-5.2zM182.5 198.2h5.2v5.2h-5.2zM190.4 198.2h5.2v5.2h-5.2zM198.2 198.2h5.2v5.2h-5.2zM214.0 198.2h5.2v5.2h-5.2zM229.7 198.2h5.2v5.2h-5.2zM245.5 198.2h5.2v5.2h-5.2zM253.4 198.2h5.2v5.2h-5.2zM269.1 198.2h5.2v5.2h-5.2zM277.0 198.2h5.2v5.2h-5.2zM1.3 206.1h5.2v5.2h-5.2zM17.1 206.1h5.2v5.2h-5.2zM32.8 206.1h5.2v5.2h-5.2zM40.7 206.1h5.2v5.2h-5.2zM48.6 206.1h5.2v5.2h-5.2zM56.5 206.1h5.2v5.2h-5.2zM88.0 206.1h5.2v5.2h-5.2zM95.8 206.1h5.2v5.2h-5.2zM103.7 206.1h5.2v5.2h-5.2zM111.6 206.1h5.2v5.2h-5.2zM119.5 206.1h5.2v5.2h-5.2zM127.3 206.1h5.2v5.2h-5.2zM151.0 206.1h5.2v5.2h-5.2zM174.6 206.1h5.2v5.2h-5.2zM182.5 206.1h5.2v5.2h-5.2zM190.4 206.1h5.2v5.2h-5.2zM198.2 206.1h5.2v5.2h-5.2zM237.6 206.1h5.2v5.2h-5.2zM269.1 206.1h5.2v5.2h-5.2zM277.0 206.1h5.2v5.2h-5.2zM284.9 206.1h5.2v5.2h-5.2zM9.2 214.0h5.2v5.2h-5.2zM17.1 214.0h5.2v5.2h-5.2zM25.0 214.0h5.2v5.2h-5.2zM88.0 214.0h5.2v5.2h-5.2zM111.6 214.0h5.2v5.2h-5.2zM119.5 214.0h5.2v5.2h-5.2zM127.3 214.0h5.2v5.2h-5.2zM135.2 214.0h5.2v5.2h-5.2zM151.0 214.0h5.2v5.2h-5.2zM158.9 214.0h5.2v5.2h-5.2zM166.7 214.0h5.2v5.2h-5.2zM174.6 214.0h5.2v5.2h-5.2zM190.4 214.0h5.2v5.2h-5.2zM198.2 214.0h5.2v5.2h-5.2zM206.1 214.0h5.2v5.2h-5.2zM214.0 214.0h5.2v5.2h-5.2zM237.6 214.0h5.2v5.2h-5.2zM253.4 214.0h5.2v5.2h-5.2zM261.2 214.0h5.2v5.2h-5.2zM269.1 214.0h5.2v5.2h-5.2zM1.3 221.9h5.2v5.2h-5.2zM25.0 221.9h5.2v5.2h-5.2zM40.7 221.9h5.2v5.2h-5.2zM48.6 221.9h5.2v5.2h-5.2zM64.3 221.9h5.2v5.2h-5.2zM88.0 221.9h5.2v5.2h-5.2zM95.8 221.9h5.2v5.2h-5.2zM103.7 221.9h5.2v5.2h-5.2zM127.3 221.9h5.2v5.2h-5.2zM135.2 221.9h5.2v5.2h-5.2zM158.9 221.9h5.2v5.2h-5.2zM166.7 221.9h5.2v5.2h-5.2zM182.5 221.9h5.2v5.2h-5.2zM190.4 221.9h5.2v5.2h-5.2zM198.2 221.9h5.2v5.2h-5.2zM221.9 221.9h5.2v5.2h-5.2zM229.7 221.9h5.2v5.2h-5.2zM237.6 221.9h5.2v5.2h-5.2zM245.5 221.9h5.2v5.2h-5.2zM253.4 221.9h5.2v5.2h-5.2zM64.3 229.7h5.2v5.2h-5.2zM80.1 229.7h5.2v5.2h-5.2zM135.2 229.7h5.2v5.2h-5.2zM151.0 229.7h5.2v5.2h-5.2zM158.9 229.7h5.2v5.2h-5.2zM166.7 229.7h5.2v5.2h-5.2zM174.6 229.7h5.2v5.2h-5.2zM182.5 229.7h5.2v5.2h-5.2zM198.2 229.7h5.2v5.2h-5.2zM221.9 229.7h5.2v5.2h-5.2zM253.4 229.7h5.2v5.2h-5.2zM284.9 229.7h5.2v5.2h-5.2zM103.7 237.6h5.2v5.2h-5.2zM119.5 237.6h5.2v5.2h-5.2zM135.2 237.6h5.2v5.2h-5.2zM151.0 237.6h5.2v5.2h-5.2zM166.7 237.6h5.2v5.2h-5.2zM174.6 237.6h5.2v5.2h-5.2zM182.5 237.6h5.2v5.2h-5.2zM198.2 237.6h5.2v5.2h-5.2zM214.0 237.6h5.2v5.2h-5.2zM221.9 237.6h5.2v5.2h-5.2zM237.6 237.6h5.2v5.2h-5.2zM253.4 237.6h5.2v5.2h-5.2zM269.1 237.6h5.2v5.2h-5.2zM277.0 237.6h5.2v5.2h-5.2zM284.9 237.6h5.2v5.2h-5.2zM64.3 245.5h5.2v5.2h-5.2zM72.2 245.5h5.2v5.2h-5.2zM88.0 245.5h5.2v5.2h-5.2zM95.8 245.5h5.2v5.2h-5.2zM119.5 245.5h5.2v5.2h-5.2zM127.3 245.5h5.2v5.2h-5.2zM135.2 245.5h5.2v5.2h-5.2zM151.0 245.5h5.2v5.2h-5.2zM158.9 245.5h5.2v5.2h-5.2zM174.6 245.5h5.2v5.2h-5.2zM182.5 245.5h5.2v5.2h-5.2zM190.4 245.5h5.2v5.2h-5.2zM206.1 245.5h5.2v5.2h-5.2zM214.0 245.5h5.2v5.2h-5.2zM221.9 245.5h5.2v5.2h-5.2zM253.4 245.5h5.2v5.2h-5.2zM64.3 253.4h5.2v5.2h-5.2zM72.2 253.4h5.2v5.2h-5.2zM80.1 253.4h5.2v5.2h-5.2zM88.0 253.4h5.2v5.2h-5.2zM111.6 253.4h5.2v5.2h-5.2zM119.5 253.4h5.2v5.2h-5.2zM127.3 253.4h5.2v5.2h-5.2zM151.0 253.4h5.2v5.2h-5.2zM182.5 253.4h5.2v5.2h-5.2zM206.1 253.4h5.2v5.2h-5.2zM221.9 253.4h5.2v5.2h-5.2zM229.7 253.4h5.2v5.2h-5.2zM237.6 253.4h5.2v5.2h-5.2zM245.5 253.4h5.2v5.2h-5.2zM253.4 253.4h5.2v5.2h-5.2zM261.2 253.4h5.2v5.2h-5.2zM80.1 261.2h5.2v5.2h-5.2zM88.0 261.2h5.2v5.2h-5.2zM111.6 261.2h5.2v5.2h-5.2zM119.5 261.2h5.2v5.2h-5.2zM143.1 261.2h5.2v5.2h-5.2zM151.0 261.2h5.2v5.2h-5.2zM158.9 261.2h5.2v5.2h-5.2zM166.7 261.2h5.2v5.2h-5.2zM174.6 261.2h5.2v5.2h-5.2zM182.5 261.2h5.2v5.2h-5.2zM206.1 261.2h5.2v5.2h-5.2zM221.9 261.2h5.2v5.2h-5.2zM229.7 261.2h5.2v5.2h-5.2zM253.4 261.2h5.2v5.2h-5.2zM64.3 269.1h5.2v5.2h-5.2zM72.2 269.1h5.2v5.2h-5.2zM80.1 269.1h5.2v5.2h-5.2zM95.8 269.1h5.2v5.2h-5.2zM103.7 269.1h5.2v5.2h-5.2zM111.6 269.1h5.2v5.2h-5.2zM119.5 269.1h5.2v5.2h-5.2zM158.9 269.1h5.2v5.2h-5.2zM166.7 269.1h5.2v5.2h-5.2zM214.0 269.1h5.2v5.2h-5.2zM229.7 269.1h5.2v5.2h-5.2zM245.5 269.1h5.2v5.2h-5.2zM253.4 269.1h5.2v5.2h-5.2zM261.2 269.1h5.2v5.2h-5.2zM269.1 269.1h5.2v5.2h-5.2zM284.9 269.1h5.2v5.2h-5.2zM80.1 277.0h5.2v5.2h-5.2zM111.6 277.0h5.2v5.2h-5.2zM127.3 277.0h5.2v5.2h-5.2zM135.2 277.0h5.2v5.2h-5.2zM151.0 277.0h5.2v5.2h-5.2zM158.9 277.0h5.2v5.2h-5.2zM174.6 277.0h5.2v5.2h-5.2zM182.5 277.0h5.2v5.2h-5.2zM198.2 277.0h5.2v5.2h-5.2zM214.0 277.0h5.2v5.2h-5.2zM221.9 277.0h5.2v5.2h-5.2zM229.7 277.0h5.2v5.2h-5.2zM245.5 277.0h5.2v5.2h-5.2zM253.4 277.0h5.2v5.2h-5.2zM277.0 277.0h5.2v5.2h-5.2zM72.2 284.9h5.2v5.2h-5.2zM127.3 284.9h5.2v5.2h-5.2zM143.1 284.9h5.2v5.2h-5.2zM151.0 284.9h5.2v5.2h-5.2zM158.9 284.9h5.2v5.2h-5.2zM166.7 284.9h5.2v5.2h-5.2zM190.4 284.9h5.2v5.2h-5.2zM198.2 284.9h5.2v5.2h-5.2zM214.0 284.9h5.2v5.2h-5.2zM221.9 284.9h5.2v5.2h-5.2zM229.7 284.9h5.2v5.2h-5.2zM277.0 284.9h5.2v5.2h-5.2zM284.9 284.9h5.2v5.2h-5.2z" fill="#000" stroke="#000" stroke-width="1.26" stroke-linejoin="round"/><rect x="3.9" y="3.9" width="47.3" height="47.3" fill="none" stroke="#000" stroke-width="7.9"/><rect x="15.8" y="15.8" width="23.6" height="23.6" fill="#000"/><rect x="240.2" y="3.9" width="47.3" height="47.3" fill="none" stroke="#000" stroke-width="7.9"/><rect x="252.0" y="15.8" width="23.6" height="23.6" fill="#000"/><rect x="3.9" y="240.2" width="47.3" height="47.3" fill="none" stroke="#000" stroke-width="7.9"/><rect x="15.8" y="252.0" width="23.6" height="23.6" fill="#000"/></svg>
<svg width="290.7" height="289.7" viewBox="0 0 290.7 290.7" preserveAspectRatio="none" style="left:3395.4px;top:1828.2px"><path d="M44.9 1.0h3.4v3.4h-3.4zM61.4 1.0h3.4v3.4h-3.4zM66.9 1.0h3.4v3.4h-3.4zM83.3 1.0h3.4v3.4h-3.4zM88.8 1.0h3.4v3.4h-3.4zM94.3 1.0h3.4v3.4h-3.4zM99.8 1.0h3.4v3.4h-3.4zM105.3 1.0h3.4v3.4h-3.4zM110.7 1.0h3.4v3.4h-3.4zM127.2 1.0h3.4v3.4h-3.4zM132.7 1.0h3.4v3.4h-3.4zM138.2 1.0h3.4v3.4h-3.4zM149.1 1.0h3.4v3.4h-3.4zM154.6 1.0h3.4v3.4h-3.4zM160.1 1.0h3.4v3.4h-3.4zM165.6 1.0h3.4v3.4h-3.4zM171.1 1.0h3.4v3.4h-3.4zM176.6 1.0h3.4v3.4h-3.4zM193.0 1.0h3.4v3.4h-3.4zM209.5 1.0h3.4v3.4h-3.4zM215.0 1.0h3.4v3.4h-3.4zM225.9 1.0h3.4v3.4h-3.4zM231.4 1.0h3.4v3.4h-3.4zM61.4 6.5h3.4v3.4h-3.4zM77.8 6.5h3.4v3.4h-3.4zM88.8 6.5h3.4v3.4h-3.4zM94.3 6.5h3.4v3.4h-3.4zM105.3 6.5h3.4v3.4h-3.4zM121.7 6.5h3.4v3.4h-3.4zM132.7 6.5h3.4v3.4h-3.4zM143.6 6.5h3.4v3.4h-3.4zM149.1 6.5h3.4v3.4h-3.4zM160.1 6.5h3.4v3.4h-3.4zM171.1 6.5h3.4v3.4h-3.4zM176.6 6.5h3.4v3.4h-3.4zM209.5 6.5h3.4v3.4h-3.4zM220.4 6.5h3.4v3.4h-3.4zM231.4 6.5h3.4v3.4h-3.4zM236.9 6.5h3.4v3.4h-3.4zM66.9 12.0h3.4v3.4h-3.4zM72.3 12.0h3.4v3.4h-3.4zM88.8 12.0h3.4v3.4h-3.4zM94.3 12.0h3.4v3.4h-3.4zM99.8 12.0h3.4v3.4h-3.4zM105.3 12.0h3.4v3.4h-3.4zM110.7 12.0h3.4v3.4h-3.4zM116.2 12.0h3.4v3.4h-3.4zM121.7 12.0h3.4v3.4h-3.4zM127.2 12.0h3.4v3.4h-3.4zM132.7 12.0h3.4v3.4h-3.4zM138.2 12.0h3.4v3.4h-3.4zM143.6 12.0h3.4v3.4h-3.4zM149.1 12.0h3.4v3.4h-3.4zM154.6 12.0h3.4v3.4h-3.4zM176.6 12.0h3.4v3.4h-3.4zM198.5 12.0h3.4v3.4h-3.4zM236.9 12.0h3.4v3.4h-3.4zM44.9 17.5h3.4v3.4h-3.4zM50.4 17.5h3.4v3.4h-3.4zM55.9 17.5h3.4v3.4h-3.4zM61.4 17.5h3.4v3.4h-3.4zM72.3 17.5h3.4v3.4h-3.4zM77.8 17.5h3.4v3.4h-3.4zM88.8 17.5h3.4v3.4h-3.4zM94.3 17.5h3.4v3.4h-3.4zM116.2 17.5h3.4v3.4h-3.4zM127.2 17.5h3.4v3.4h-3.4zM132.7 17.5h3.4v3.4h-3.4zM138.2 17.5h3.4v3.4h-3.4zM143.6 17.5h3.4v3.4h-3.4zM160.1 17.5h3.4v3.4h-3.4zM165.6 17.5h3.4v3.4h-3.4zM171.1 17.5h3.4v3.4h-3.4zM176.6 17.5h3.4v3.4h-3.4zM187.5 17.5h3.4v3.4h-3.4zM198.5 17.5h3.4v3.4h-3.4zM215.0 17.5h3.4v3.4h-3.4zM231.4 17.5h3.4v3.4h-3.4zM242.4 17.5h3.4v3.4h-3.4zM61.4 23.0h3.4v3.4h-3.4zM72.3 23.0h3.4v3.4h-3.4zM77.8 23.0h3.4v3.4h-3.4zM83.3 23.0h3.4v3.4h-3.4zM94.3 23.0h3.4v3.4h-3.4zM110.7 23.0h3.4v3.4h-3.4zM116.2 23.0h3.4v3.4h-3.4zM121.7 23.0h3.4v3.4h-3.4zM127.2 23.0h3.4v3.4h-3.4zM132.7 23.0h3.4v3.4h-3.4zM138.2 23.0h3.4v3.4h-3.4zM143.6 23.0h3.4v3.4h-3.4zM149.1 23.0h3.4v3.4h-3.4zM154.6 23.0h3.4v3.4h-3.4zM160.1 23.0h3.4v3.4h-3.4zM165.6 23.0h3.4v3.4h-3.4zM171.1 23.0h3.4v3.4h-3.4zM176.6 23.0h3.4v3.4h-3.4zM187.5 23.0h3.4v3.4h-3.4zM204.0 23.0h3.4v3.4h-3.4zM209.5 23.0h3.4v3.4h-3.4zM215.0 23.0h3.4v3.4h-3.4zM220.4 23.0h3.4v3.4h-3.4zM225.9 23.0h3.4v3.4h-3.4zM231.4 23.0h3.4v3.4h-3.4zM61.4 28.5h3.4v3.4h-3.4zM77.8 28.5h3.4v3.4h-3.4zM88.8 28.5h3.4v3.4h-3.4zM94.3 28.5h3.4v3.4h-3.4zM99.8 28.5h3.4v3.4h-3.4zM116.2 28.5h3.4v3.4h-3.4zM121.7 28.5h3.4v3.4h-3.4zM132.7 28.5h3.4v3.4h-3.4zM154.6 28.5h3.4v3.4h-3.4zM160.1 28.5h3.4v3.4h-3.4zM176.6 28.5h3.4v3.4h-3.4zM187.5 28.5h3.4v3.4h-3.4zM198.5 28.5h3.4v3.4h-3.4zM225.9 28.5h3.4v3.4h-3.4zM231.4 28.5h3.4v3.4h-3.4zM44.9 34.0h3.4v3.4h-3.4zM55.9 34.0h3.4v3.4h-3.4zM66.9 34.0h3.4v3.4h-3.4zM77.8 34.0h3.4v3.4h-3.4zM88.8 34.0h3.4v3.4h-3.4zM99.8 34.0h3.4v3.4h-3.4zM110.7 34.0h3.4v3.4h-3.4zM121.7 34.0h3.4v3.4h-3.4zM132.7 34.0h3.4v3.4h-3.4zM143.6 34.0h3.4v3.4h-3.4zM154.6 34.0h3.4v3.4h-3.4zM165.6 34.0h3.4v3.4h-3.4zM176.6 34.0h3.4v3.4h-3.4zM187.5 34.0h3.4v3.4h-3.4zM198.5 34.0h3.4v3.4h-3.4zM209.5 34.0h3.4v3.4h-3.4zM220.4 34.0h3.4v3.4h-3.4zM231.4 34.0h3.4v3.4h-3.4zM242.4 34.0h3.4v3.4h-3.4zM50.4 39.4h3.4v3.4h-3.4zM55.9 39.4h3.4v3.4h-3.4zM61.4 39.4h3.4v3.4h-3.4zM66.9 39.4h3.4v3.4h-3.4zM72.3 39.4h3.4v3.4h-3.4zM77.8 39.4h3.4v3.4h-3.4zM83.3 39.4h3.4v3.4h-3.4zM88.8 39.4h3.4v3.4h-3.4zM94.3 39.4h3.4v3.4h-3.4zM105.3 39.4h3.4v3.4h-3.4zM121.7 39.4h3.4v3.4h-3.4zM132.7 39.4h3.4v3.4h-3.4zM154.6 39.4h3.4v3.4h-3.4zM171.1 39.4h3.4v3.4h-3.4zM182.0 39.4h3.4v3.4h-3.4zM193.0 39.4h3.4v3.4h-3.4zM204.0 39.4h3.4v3.4h-3.4zM209.5 39.4h3.4v3.4h-3.4zM215.0 39.4h3.4v3.4h-3.4zM220.4 39.4h3.4v3.4h-3.4zM242.4 39.4h3.4v3.4h-3.4zM12.0 44.9h3.4v3.4h-3.4zM23.0 44.9h3.4v3.4h-3.4zM28.5 44.9h3.4v3.4h-3.4zM34.0 44.9h3.4v3.4h-3.4zM44.9 44.9h3.4v3.4h-3.4zM50.4 44.9h3.4v3.4h-3.4zM61.4 44.9h3.4v3.4h-3.4zM66.9 44.9h3.4v3.4h-3.4zM77.8 44.9h3.4v3.4h-3.4zM88.8 44.9h3.4v3.4h-3.4zM94.3 44.9h3.4v3.4h-3.4zM99.8 44.9h3.4v3.4h-3.4zM105.3 44.9h3.4v3.4h-3.4zM116.2 44.9h3.4v3.4h-3.4zM132.7 44.9h3.4v3.4h-3.4zM138.2 44.9h3.4v3.4h-3.4zM143.6 44.9h3.4v3.4h-3.4zM149.1 44.9h3.4v3.4h-3.4zM154.6 44.9h3.4v3.4h-3.4zM160.1 44.9h3.4v3.4h-3.4zM176.6 44.9h3.4v3.4h-3.4zM187.5 44.9h3.4v3.4h-3.4zM198.5 44.9h3.4v3.4h-3.4zM204.0 44.9h3.4v3.4h-3.4zM209.5 44.9h3.4v3.4h-3.4zM215.0 44.9h3.4v3.4h-3.4zM220.4 44.9h3.4v3.4h-3.4zM225.9 44.9h3.4v3.4h-3.4zM231.4 44.9h3.4v3.4h-3.4zM236.9 44.9h3.4v3.4h-3.4zM247.9 44.9h3.4v3.4h-3.4zM269.8 44.9h3.4v3.4h-3.4zM286.3 44.9h3.4v3.4h-3.4zM6.5 50.4h3.4v3.4h-3.4zM17.5 50.4h3.4v3.4h-3.4zM23.0 50.4h3.4v3.4h-3.4zM39.4 50.4h3.4v3.4h-3.4zM50.4 50.4h3.4v3.4h-3.4zM61.4 50.4h3.4v3.4h-3.4zM77.8 50.4h3.4v3.4h-3.4zM83.3 50.4h3.4v3.4h-3.4zM88.8 50.4h3.4v3.4h-3.4zM94.3 50.4h3.4v3.4h-3.4zM105.3 50.4h3.4v3.4h-3.4zM110.7 50.4h3.4v3.4h-3.4zM116.2 50.4h3.4v3.4h-3.4zM132.7 50.4h3.4v3.4h-3.4zM154.6 50.4h3.4v3.4h-3.4zM160.1 50.4h3.4v3.4h-3.4zM171.1 50.4h3.4v3.4h-3.4zM176.6 50.4h3.4v3.4h-3.4zM182.0 50.4h3.4v3.4h-3.4zM198.5 50.4h3.4v3.4h-3.4zM204.0 50.4h3.4v3.4h-3.4zM220.4 50.4h3.4v3.4h-3.4zM225.9 50.4h3.4v3.4h-3.4zM236.9 50.4h3.4v3.4h-3.4zM258.8 50.4h3.4v3.4h-3.4zM269.8 50.4h3.4v3.4h-3.4zM280.8 50.4h3.4v3.4h-3.4zM286.3 50.4h3.4v3.4h-3.4zM12.0 55.9h3.4v3.4h-3.4zM17.5 55.9h3.4v3.4h-3.4zM28.5 55.9h3.4v3.4h-3.4zM34.0 55.9h3.4v3.4h-3.4zM44.9 55.9h3.4v3.4h-3.4zM50.4 55.9h3.4v3.4h-3.4zM55.9 55.9h3.4v3.4h-3.4zM61.4 55.9h3.4v3.4h-3.4zM66.9 55.9h3.4v3.4h-3.4zM72.3 55.9h3.4v3.4h-3.4zM77.8 55.9h3.4v3.4h-3.4zM83.3 55.9h3.4v3.4h-3.4zM99.8 55.9h3.4v3.4h-3.4zM116.2 55.9h3.4v3.4h-3.4zM138.2 55.9h3.4v3.4h-3.4zM149.1 55.9h3.4v3.4h-3.4zM154.6 55.9h3.4v3.4h-3.4zM160.1 55.9h3.4v3.4h-3.4zM165.6 55.9h3.4v3.4h-3.4zM171.1 55.9h3.4v3.4h-3.4zM176.6 55.9h3.4v3.4h-3.4zM204.0 55.9h3.4v3.4h-3.4zM215.0 55.9h3.4v3.4h-3.4zM236.9 55.9h3.4v3.4h-3.4zM247.9 55.9h3.4v3.4h-3.4zM258.8 55.9h3.4v3.4h-3.4zM264.3 55.9h3.4v3.4h-3.4zM269.8 55.9h3.4v3.4h-3.4zM286.3 55.9h3.4v3.4h-3.4zM1.0 61.4h3.4v3.4h-3.4zM6.5 61.4h3.4v3.4h-3.4zM61.4 61.4h3.4v3.4h-3.4zM66.9 61.4h3.4v3.4h-3.4zM72.3 61.4h3.4v3.4h-3.4zM77.8 61.4h3.4v3.4h-3.4zM83.3 61.4h3.4v3.4h-3.4zM99.8 61.4h3.4v3.4h-3.4zM116.2 61.4h3.4v3.4h-3.4zM127.2 61.4h3.4v3.4h-3.4zM132.7 61.4h3.4v3.4h-3.4zM160.1 61.4h3.4v3.4h-3.4zM165.6 61.4h3.4v3.4h-3.4zM176.6 61.4h3.4v3.4h-3.4zM182.0 61.4h3.4v3.4h-3.4zM198.5 61.4h3.4v3.4h-3.4zM215.0 61.4h3.4v3.4h-3.4zM236.9 61.4h3.4v3.4h-3.4zM247.9 61.4h3.4v3.4h-3.4zM17.5 66.9h3.4v3.4h-3.4zM28.5 66.9h3.4v3.4h-3.4zM34.0 66.9h3.4v3.4h-3.4zM50.4 66.9h3.4v3.4h-3.4zM55.9 66.9h3.4v3.4h-3.4zM61.4 66.9h3.4v3.4h-3.4zM66.9 66.9h3.4v3.4h-3.4zM72.3 66.9h3.4v3.4h-3.4zM88.8 66.9h3.4v3.4h-3.4zM94.3 66.9h3.4v3.4h-3.4zM105.3 66.9h3.4v3.4h-3.4zM116.2 66.9h3.4v3.4h-3.4zM132.7 66.9h3.4v3.4h-3.4zM149.1 66.9h3.4v3.4h-3.4zM160.1 66.9h3.4v3.4h-3.4zM171.1 66.9h3.4v3.4h-3.4zM176.6 66.9h3.4v3.4h-3.4zM187.5 66.9h3.4v3.4h-3.4zM193.0 66.9h3.4v3.4h-3.4zM198.5 66.9h3.4v3.4h-3.4zM204.0 66.9h3.4v3.4h-3.4zM209.5 66.9h3.4v3.4h-3.4zM215.0 66.9h3.4v3.4h-3.4zM231.4 66.9h3.4v3.4h-3.4zM236.9 66.9h3.4v3.4h-3.4zM242.4 66.9h3.4v3.4h-3.4zM247.9 66.9h3.4v3.4h-3.4zM253.3 66.9h3.4v3.4h-3.4zM258.8 66.9h3.4v3.4h-3.4zM264.3 66.9h3.4v3.4h-3.4zM275.3 66.9h3.4v3.4h-3.4zM280.8 66.9h3.4v3.4h-3.4zM6.5 72.3h3.4v3.4h-3.4zM23.0 72.3h3.4v3.4h-3.4zM28.5 72.3h3.4v3.4h-3.4zM44.9 72.3h3.4v3.4h-3.4zM50.4 72.3h3.4v3.4h-3.4zM55.9 72.3h3.4v3.4h-3.4zM61.4 72.3h3.4v3.4h-3.4zM66.9 72.3h3.4v3.4h-3.4zM72.3 72.3h3.4v3.4h-3.4zM83.3 72.3h3.4v3.4h-3.4zM99.8 72.3h3.4v3.4h-3.4zM110.7 72.3h3.4v3.4h-3.4zM121.7 72.3h3.4v3.4h-3.4zM160.1 72.3h3.4v3.4h-3.4zM165.6 72.3h3.4v3.4h-3.4zM171.1 72.3h3.4v3.4h-3.4zM182.0 72.3h3.4v3.4h-3.4zM215.0 72.3h3.4v3.4h-3.4zM220.4 72.3h3.4v3.4h-3.4zM236.9 72.3h3.4v3.4h-3.4zM247.9 72.3h3.4v3.4h-3.4zM258.8 72.3h3.4v3.4h-3.4zM269.8 72.3h3.4v3.4h-3.4zM275.3 72.3h3.4v3.4h-3.4zM280.8 72.3h3.4v3.4h-3.4zM286.3 72.3h3.4v3.4h-3.4zM1.0 77.8h3.4v3.4h-3.4zM6.5 77.8h3.4v3.4h-3.4zM12.0 77.8h3.4v3.4h-3.4zM17.5 77.8h3.4v3.4h-3.4zM34.0 77.8h3.4v3.4h-3.4zM39.4 77.8h3.4v3.4h-3.4zM44.9 77.8h3.4v3.4h-3.4zM66.9 77.8h3.4v3.4h-3.4zM83.3 77.8h3.4v3.4h-3.4zM88.8 77.8h3.4v3.4h-3.4zM94.3 77.8h3.4v3.4h-3.4zM99.8 77.8h3.4v3.4h-3.4zM105.3 77.8h3.4v3.4h-3.4zM116.2 77.8h3.4v3.4h-3.4zM160.1 77.8h3.4v3.4h-3.4zM176.6 77.8h3.4v3.4h-3.4zM182.0 77.8h3.4v3.4h-3.4zM193.0 77.8h3.4v3.4h-3.4zM198.5 77.8h3.4v3.4h-3.4zM204.0 77.8h3.4v3.4h-3.4zM215.0 77.8h3.4v3.4h-3.4zM236.9 77.8h3.4v3.4h-3.4zM242.4 77.8h3.4v3.4h-3.4zM247.9 77.8h3.4v3.4h-3.4zM253.3 77.8h3.4v3.4h-3.4zM258.8 77.8h3.4v3.4h-3.4zM264.3 77.8h3.4v3.4h-3.4zM275.3 77.8h3.4v3.4h-3.4zM280.8 77.8h3.4v3.4h-3.4zM286.3 77.8h3.4v3.4h-3.4zM1.0 83.3h3.4v3.4h-3.4zM17.5 83.3h3.4v3.4h-3.4zM44.9 83.3h3.4v3.4h-3.4zM50.4 83.3h3.4v3.4h-3.4zM55.9 83.3h3.4v3.4h-3.4zM66.9 83.3h3.4v3.4h-3.4zM77.8 83.3h3.4v3.4h-3.4zM83.3 83.3h3.4v3.4h-3.4zM116.2 83.3h3.4v3.4h-3.4zM121.7 83.3h3.4v3.4h-3.4zM127.2 83.3h3.4v3.4h-3.4zM132.7 83.3h3.4v3.4h-3.4zM143.6 83.3h3.4v3.4h-3.4zM154.6 83.3h3.4v3.4h-3.4zM160.1 83.3h3.4v3.4h-3.4zM165.6 83.3h3.4v3.4h-3.4zM171.1 83.3h3.4v3.4h-3.4zM176.6 83.3h3.4v3.4h-3.4zM187.5 83.3h3.4v3.4h-3.4zM193.0 83.3h3.4v3.4h-3.4zM198.5 83.3h3.4v3.4h-3.4zM209.5 83.3h3.4v3.4h-3.4zM215.0 83.3h3.4v3.4h-3.4zM220.4 83.3h3.4v3.4h-3.4zM236.9 83.3h3.4v3.4h-3.4zM258.8 83.3h3.4v3.4h-3.4zM264.3 83.3h3.4v3.4h-3.4zM280.8 83.3h3.4v3.4h-3.4zM286.3 83.3h3.4v3.4h-3.4zM1.0 88.8h3.4v3.4h-3.4zM12.0 88.8h3.4v3.4h-3.4zM23.0 88.8h3.4v3.4h-3.4zM28.5 88.8h3.4v3.4h-3.4zM34.0 88.8h3.4v3.4h-3.4zM39.4 88.8h3.4v3.4h-3.4zM44.9 88.8h3.4v3.4h-3.4zM66.9 88.8h3.4v3.4h-3.4zM94.3 88.8h3.4v3.4h-3.4zM99.8 88.8h3.4v3.4h-3.4zM127.2 88.8h3.4v3.4h-3.4zM143.6 88.8h3.4v3.4h-3.4zM154.6 88.8h3.4v3.4h-3.4zM160.1 88.8h3.4v3.4h-3.4zM171.1 88.8h3.4v3.4h-3.4zM182.0 88.8h3.4v3.4h-3.4zM187.5 88.8h3.4v3.4h-3.4zM193.0 88.8h3.4v3.4h-3.4zM198.5 88.8h3.4v3.4h-3.4zM209.5 88.8h3.4v3.4h-3.4zM215.0 88.8h3.4v3.4h-3.4zM220.4 88.8h3.4v3.4h-3.4zM231.4 88.8h3.4v3.4h-3.4zM236.9 88.8h3.4v3.4h-3.4zM253.3 88.8h3.4v3.4h-3.4zM258.8 88.8h3.4v3.4h-3.4zM264.3 88.8h3.4v3.4h-3.4zM280.8 88.8h3.4v3.4h-3.4zM286.3 88.8h3.4v3.4h-3.4zM1.0 94.3h3.4v3.4h-3.4zM17.5 94.3h3.4v3.4h-3.4zM28.5 94.3h3.4v3.4h-3.4zM39.4 94.3h3.4v3.4h-3.4zM44.9 94.3h3.4v3.4h-3.4zM55.9 94.3h3.4v3.4h-3.4zM72.3 94.3h3.4v3.4h-3.4zM77.8 94.3h3.4v3.4h-3.4zM88.8 94.3h3.4v3.4h-3.4zM105.3 94.3h3.4v3.4h-3.4zM127.2 94.3h3.4v3.4h-3.4zM138.2 94.3h3.4v3.4h-3.4zM149.1 94.3h3.4v3.4h-3.4zM154.6 94.3h3.4v3.4h-3.4zM160.1 94.3h3.4v3.4h-3.4zM165.6 94.3h3.4v3.4h-3.4zM171.1 94.3h3.4v3.4h-3.4zM176.6 94.3h3.4v3.4h-3.4zM220.4 94.3h3.4v3.4h-3.4zM258.8 94.3h3.4v3.4h-3.4zM264.3 94.3h3.4v3.4h-3.4zM275.3 94.3h3.4v3.4h-3.4zM280.8 94.3h3.4v3.4h-3.4zM286.3 94.3h3.4v3.4h-3.4zM12.0 99.8h3.4v3.4h-3.4zM17.5 99.8h3.4v3.4h-3.4zM28.5 99.8h3.4v3.4h-3.4zM34.0 99.8h3.4v3.4h-3.4zM44.9 99.8h3.4v3.4h-3.4zM72.3 99.8h3.4v3.4h-3.4zM83.3 99.8h3.4v3.4h-3.4zM94.3 99.8h3.4v3.4h-3.4zM99.8 99.8h3.4v3.4h-3.4zM105.3 99.8h3.4v3.4h-3.4zM110.7 99.8h3.4v3.4h-3.4zM116.2 99.8h3.4v3.4h-3.4zM121.7 99.8h3.4v3.4h-3.4zM127.2 99.8h3.4v3.4h-3.4zM143.6 99.8h3.4v3.4h-3.4zM149.1 99.8h3.4v3.4h-3.4zM182.0 99.8h3.4v3.4h-3.4zM193.0 99.8h3.4v3.4h-3.4zM215.0 99.8h3.4v3.4h-3.4zM225.9 99.8h3.4v3.4h-3.4zM231.4 99.8h3.4v3.4h-3.4zM236.9 99.8h3.4v3.4h-3.4zM242.4 99.8h3.4v3.4h-3.4zM247.9 99.8h3.4v3.4h-3.4zM275.3 99.8h3.4v3.4h-3.4zM280.8 99.8h3.4v3.4h-3.4zM286.3 99.8h3.4v3.4h-3.4zM1.0 105.3h3.4v3.4h-3.4zM12.0 105.3h3.4v3.4h-3.4zM55.9 105.3h3.4v3.4h-3.4zM61.4 105.3h3.4v3.4h-3.4zM72.3 105.3h3.4v3.4h-3.4zM83.3 105.3h3.4v3.4h-3.4zM88.8 105.3h3.4v3.4h-3.4zM94.3 105.3h3.4v3.4h-3.4zM187.5 105.3h3.4v3.4h-3.4zM204.0 105.3h3.4v3.4h-3.4zM215.0 105.3h3.4v3.4h-3.4zM220.4 105.3h3.4v3.4h-3.4zM231.4 105.3h3.4v3.4h-3.4zM236.9 105.3h3.4v3.4h-3.4zM242.4 105.3h3.4v3.4h-3.4zM269.8 105.3h3.4v3.4h-3.4zM23.0 110.7h3.4v3.4h-3.4zM28.5 110.7h3.4v3.4h-3.4zM34.0 110.7h3.4v3.4h-3.4zM50.4 110.7h3.4v3.4h-3.4zM55.9 110.7h3.4v3.4h-3.4zM72.3 110.7h3.4v3.4h-3.4zM77.8 110.7h3.4v3.4h-3.4zM94.3 110.7h3.4v3.4h-3.4zM198.5 110.7h3.4v3.4h-3.4zM204.0 110.7h3.4v3.4h-3.4zM209.5 110.7h3.4v3.4h-3.4zM215.0 110.7h3.4v3.4h-3.4zM220.4 110.7h3.4v3.4h-3.4zM225.9 110.7h3.4v3.4h-3.4zM247.9 110.7h3.4v3.4h-3.4zM258.8 110.7h3.4v3.4h-3.4zM264.3 110.7h3.4v3.4h-3.4zM269.8 110.7h3.4v3.4h-3.4zM280.8 110.7h3.4v3.4h-3.4zM286.3 110.7h3.4v3.4h-3.4zM12.0 116.2h3.4v3.4h-3.4zM17.5 116.2h3.4v3.4h-3.4zM23.0 116.2h3.4v3.4h-3.4zM39.4 116.2h3.4v3.4h-3.4zM44.9 116.2h3.4v3.4h-3.4zM55.9 116.2h3.4v3.4h-3.4zM72.3 116.2h3.4v3.4h-3.4zM77.8 116.2h3.4v3.4h-3.4zM204.0 116.2h3.4v3.4h-3.4zM236.9 116.2h3.4v3.4h-3.4zM258.8 116.2h3.4v3.4h-3.4zM269.8 116.2h3.4v3.4h-3.4zM280.8 116.2h3.4v3.4h-3.4zM12.0 121.7h3.4v3.4h-3.4zM34.0 121.7h3.4v3.4h-3.4zM44.9 121.7h3.4v3.4h-3.4zM66.9 121.7h3.4v3.4h-3.4zM77.8 121.7h3.4v3.4h-3.4zM83.3 121.7h3.4v3.4h-3.4zM99.8 121.7h3.4v3.4h-3.4zM198.5 121.7h3.4v3.4h-3.4zM204.0 121.7h3.4v3.4h-3.4zM209.5 121.7h3.4v3.4h-3.4zM225.9 121.7h3.4v3.4h-3.4zM236.9 121.7h3.4v3.4h-3.4zM242.4 121.7h3.4v3.4h-3.4zM275.3 121.7h3.4v3.4h-3.4zM280.8 121.7h3.4v3.4h-3.4zM1.0 127.2h3.4v3.4h-3.4zM12.0 127.2h3.4v3.4h-3.4zM17.5 127.2h3.4v3.4h-3.4zM50.4 127.2h3.4v3.4h-3.4zM61.4 127.2h3.4v3.4h-3.4zM83.3 127.2h3.4v3.4h-3.4zM99.8 127.2h3.4v3.4h-3.4zM187.5 127.2h3.4v3.4h-3.4zM193.0 127.2h3.4v3.4h-3.4zM198.5 127.2h3.4v3.4h-3.4zM220.4 127.2h3.4v3.4h-3.4zM247.9 127.2h3.4v3.4h-3.4zM253.3 127.2h3.4v3.4h-3.4zM258.8 127.2h3.4v3.4h-3.4zM264.3 127.2h3.4v3.4h-3.4zM269.8 127.2h3.4v3.4h-3.4zM280.8 127.2h3.4v3.4h-3.4zM286.3 127.2h3.4v3.4h-3.4zM1.0 132.7h3.4v3.4h-3.4zM6.5 132.7h3.4v3.4h-3.4zM17.5 132.7h3.4v3.4h-3.4zM23.0 132.7h3.4v3.4h-3.4zM28.5 132.7h3.4v3.4h-3.4zM34.0 132.7h3.4v3.4h-3.4zM39.4 132.7h3.4v3.4h-3.4zM44.9 132.7h3.4v3.4h-3.4zM50.4 132.7h3.4v3.4h-3.4zM55.9 132.7h3.4v3.4h-3.4zM66.9 132.7h3.4v3.4h-3.4zM72.3 132.7h3.4v3.4h-3.4zM88.8 132.7h3.4v3.4h-3.4zM94.3 132.7h3.4v3.4h-3.4zM99.8 132.7h3.4v3.4h-3.4zM193.0 132.7h3.4v3.4h-3.4zM198.5 132.7h3.4v3.4h-3.4zM209.5 132.7h3.4v3.4h-3.4zM215.0 132.7h3.4v3.4h-3.4zM220.4 132.7h3.4v3.4h-3.4zM236.9 132.7h3.4v3.4h-3.4zM242.4 132.7h3.4v3.4h-3.4zM247.9 132.7h3.4v3.4h-3.4zM253.3 132.7h3.4v3.4h-3.4zM258.8 132.7h3.4v3.4h-3.4zM264.3 132.7h3.4v3.4h-3.4zM269.8 132.7h3.4v3.4h-3.4zM280.8 132.7h3.4v3.4h-3.4zM1.0 138.2h3.4v3.4h-3.4zM6.5 138.2h3.4v3.4h-3.4zM23.0 138.2h3.4v3.4h-3.4zM44.9 138.2h3.4v3.4h-3.4zM55.9 138.2h3.4v3.4h-3.4zM61.4 138.2h3.4v3.4h-3.4zM66.9 138.2h3.4v3.4h-3.4zM72.3 138.2h3.4v3.4h-3.4zM77.8 138.2h3.4v3.4h-3.4zM88.8 138.2h3.4v3.4h-3.4zM94.3 138.2h3.4v3.4h-3.4zM99.8 138.2h3.4v3.4h-3.4zM193.0 138.2h3.4v3.4h-3.4zM198.5 138.2h3.4v3.4h-3.4zM215.0 138.2h3.4v3.4h-3.4zM220.4 138.2h3.4v3.4h-3.4zM242.4 138.2h3.4v3.4h-3.4zM264.3 138.2h3.4v3.4h-3.4zM269.8 138.2h3.4v3.4h-3.4zM286.3 138.2h3.4v3.4h-3.4zM1.0 143.6h3.4v3.4h-3.4zM12.0 143.6h3.4v3.4h-3.4zM17.5 143.6h3.4v3.4h-3.4zM23.0 143.6h3.4v3.4h-3.4zM34.0 143.6h3.4v3.4h-3.4zM44.9 143.6h3.4v3.4h-3.4zM50.4 143.6h3.4v3.4h-3.4zM55.9 143.6h3.4v3.4h-3.4zM66.9 143.6h3.4v3.4h-3.4zM72.3 143.6h3.4v3.4h-3.4zM77.8 143.6h3.4v3.4h-3.4zM94.3 143.6h3.4v3.4h-3.4zM99.8 143.6h3.4v3.4h-3.4zM187.5 143.6h3.4v3.4h-3.4zM193.0 143.6h3.4v3.4h-3.4zM204.0 143.6h3.4v3.4h-3.4zM220.4 143.6h3.4v3.4h-3.4zM242.4 143.6h3.4v3.4h-3.4zM253.3 143.6h3.4v3.4h-3.4zM264.3 143.6h3.4v3.4h-3.4zM269.8 143.6h3.4v3.4h-3.4zM275.3 143.6h3.4v3.4h-3.4zM280.8 143.6h3.4v3.4h-3.4zM286.3 143.6h3.4v3.4h-3.4zM1.0 149.1h3.4v3.4h-3.4zM23.0 149.1h3.4v3.4h-3.4zM44.9 149.1h3.4v3.4h-3.4zM61.4 149.1h3.4v3.4h-3.4zM72.3 149.1h3.4v3.4h-3.4zM77.8 149.1h3.4v3.4h-3.4zM83.3 149.1h3.4v3.4h-3.4zM88.8 149.1h3.4v3.4h-3.4zM94.3 149.1h3.4v3.4h-3.4zM187.5 149.1h3.4v3.4h-3.4zM198.5 149.1h3.4v3.4h-3.4zM209.5 149.1h3.4v3.4h-3.4zM231.4 149.1h3.4v3.4h-3.4zM236.9 149.1h3.4v3.4h-3.4zM242.4 149.1h3.4v3.4h-3.4zM264.3 149.1h3.4v3.4h-3.4zM269.8 149.1h3.4v3.4h-3.4zM286.3 149.1h3.4v3.4h-3.4zM6.5 154.6h3.4v3.4h-3.4zM12.0 154.6h3.4v3.4h-3.4zM23.0 154.6h3.4v3.4h-3.4zM28.5 154.6h3.4v3.4h-3.4zM34.0 154.6h3.4v3.4h-3.4zM39.4 154.6h3.4v3.4h-3.4zM44.9 154.6h3.4v3.4h-3.4zM55.9 154.6h3.4v3.4h-3.4zM61.4 154.6h3.4v3.4h-3.4zM66.9 154.6h3.4v3.4h-3.4zM77.8 154.6h3.4v3.4h-3.4zM88.8 154.6h3.4v3.4h-3.4zM94.3 154.6h3.4v3.4h-3.4zM193.0 154.6h3.4v3.4h-3.4zM198.5 154.6h3.4v3.4h-3.4zM215.0 154.6h3.4v3.4h-3.4zM220.4 154.6h3.4v3.4h-3.4zM242.4 154.6h3.4v3.4h-3.4zM247.9 154.6h3.4v3.4h-3.4zM253.3 154.6h3.4v3.4h-3.4zM258.8 154.6h3.4v3.4h-3.4zM264.3 154.6h3.4v3.4h-3.4zM269.8 154.6h3.4v3.4h-3.4zM275.3 154.6h3.4v3.4h-3.4zM286.3 154.6h3.4v3.4h-3.4zM1.0 160.1h3.4v3.4h-3.4zM6.5 160.1h3.4v3.4h-3.4zM12.0 160.1h3.4v3.4h-3.4zM39.4 160.1h3.4v3.4h-3.4zM50.4 160.1h3.4v3.4h-3.4zM61.4 160.1h3.4v3.4h-3.4zM66.9 160.1h3.4v3.4h-3.4zM77.8 160.1h3.4v3.4h-3.4zM83.3 160.1h3.4v3.4h-3.4zM198.5 160.1h3.4v3.4h-3.4zM215.0 160.1h3.4v3.4h-3.4zM220.4 160.1h3.4v3.4h-3.4zM231.4 160.1h3.4v3.4h-3.4zM242.4 160.1h3.4v3.4h-3.4zM269.8 160.1h3.4v3.4h-3.4zM275.3 160.1h3.4v3.4h-3.4zM280.8 160.1h3.4v3.4h-3.4zM286.3 160.1h3.4v3.4h-3.4zM6.5 165.6h3.4v3.4h-3.4zM12.0 165.6h3.4v3.4h-3.4zM23.0 165.6h3.4v3.4h-3.4zM28.5 165.6h3.4v3.4h-3.4zM34.0 165.6h3.4v3.4h-3.4zM44.9 165.6h3.4v3.4h-3.4zM66.9 165.6h3.4v3.4h-3.4zM72.3 165.6h3.4v3.4h-3.4zM77.8 165.6h3.4v3.4h-3.4zM94.3 165.6h3.4v3.4h-3.4zM99.8 165.6h3.4v3.4h-3.4zM193.0 165.6h3.4v3.4h-3.4zM215.0 165.6h3.4v3.4h-3.4zM220.4 165.6h3.4v3.4h-3.4zM231.4 165.6h3.4v3.4h-3.4zM247.9 165.6h3.4v3.4h-3.4zM253.3 165.6h3.4v3.4h-3.4zM275.3 165.6h3.4v3.4h-3.4zM280.8 165.6h3.4v3.4h-3.4zM286.3 165.6h3.4v3.4h-3.4zM1.0 171.1h3.4v3.4h-3.4zM23.0 171.1h3.4v3.4h-3.4zM28.5 171.1h3.4v3.4h-3.4zM39.4 171.1h3.4v3.4h-3.4zM44.9 171.1h3.4v3.4h-3.4zM50.4 171.1h3.4v3.4h-3.4zM77.8 171.1h3.4v3.4h-3.4zM83.3 171.1h3.4v3.4h-3.4zM193.0 171.1h3.4v3.4h-3.4zM198.5 171.1h3.4v3.4h-3.4zM204.0 171.1h3.4v3.4h-3.4zM215.0 171.1h3.4v3.4h-3.4zM220.4 171.1h3.4v3.4h-3.4zM225.9 171.1h3.4v3.4h-3.4zM231.4 171.1h3.4v3.4h-3.4zM242.4 171.1h3.4v3.4h-3.4zM247.9 171.1h3.4v3.4h-3.4zM253.3 171.1h3.4v3.4h-3.4zM280.8 171.1h3.4v3.4h-3.4zM286.3 171.1h3.4v3.4h-3.4zM1.0 176.6h3.4v3.4h-3.4zM6.5 176.6h3.4v3.4h-3.4zM28.5 176.6h3.4v3.4h-3.4zM34.0 176.6h3.4v3.4h-3.4zM55.9 176.6h3.4v3.4h-3.4zM66.9 176.6h3.4v3.4h-3.4zM94.3 176.6h3.4v3.4h-3.4zM99.8 176.6h3.4v3.4h-3.4zM187.5 176.6h3.4v3.4h-3.4zM198.5 176.6h3.4v3.4h-3.4zM204.0 176.6h3.4v3.4h-3.4zM209.5 176.6h3.4v3.4h-3.4zM220.4 176.6h3.4v3.4h-3.4zM242.4 176.6h3.4v3.4h-3.4zM253.3 176.6h3.4v3.4h-3.4zM269.8 176.6h3.4v3.4h-3.4zM280.8 176.6h3.4v3.4h-3.4zM1.0 182.0h3.4v3.4h-3.4zM12.0 182.0h3.4v3.4h-3.4zM23.0 182.0h3.4v3.4h-3.4zM28.5 182.0h3.4v3.4h-3.4zM44.9 182.0h3.4v3.4h-3.4zM50.4 182.0h3.4v3.4h-3.4zM55.9 182.0h3.4v3.4h-3.4zM66.9 182.0h3.4v3.4h-3.4zM88.8 182.0h3.4v3.4h-3.4zM94.3 182.0h3.4v3.4h-3.4zM99.8 182.0h3.4v3.4h-3.4zM193.0 182.0h3.4v3.4h-3.4zM198.5 182.0h3.4v3.4h-3.4zM215.0 182.0h3.4v3.4h-3.4zM225.9 182.0h3.4v3.4h-3.4zM242.4 182.0h3.4v3.4h-3.4zM247.9 182.0h3.4v3.4h-3.4zM253.3 182.0h3.4v3.4h-3.4zM17.5 187.5h3.4v3.4h-3.4zM23.0 187.5h3.4v3.4h-3.4zM34.0 187.5h3.4v3.4h-3.4zM39.4 187.5h3.4v3.4h-3.4zM66.9 187.5h3.4v3.4h-3.4zM83.3 187.5h3.4v3.4h-3.4zM88.8 187.5h3.4v3.4h-3.4zM94.3 187.5h3.4v3.4h-3.4zM110.7 187.5h3.4v3.4h-3.4zM138.2 187.5h3.4v3.4h-3.4zM143.6 187.5h3.4v3.4h-3.4zM149.1 187.5h3.4v3.4h-3.4zM154.6 187.5h3.4v3.4h-3.4zM160.1 187.5h3.4v3.4h-3.4zM165.6 187.5h3.4v3.4h-3.4zM171.1 187.5h3.4v3.4h-3.4zM176.6 187.5h3.4v3.4h-3.4zM187.5 187.5h3.4v3.4h-3.4zM198.5 187.5h3.4v3.4h-3.4zM204.0 187.5h3.4v3.4h-3.4zM209.5 187.5h3.4v3.4h-3.4zM215.0 187.5h3.4v3.4h-3.4zM220.4 187.5h3.4v3.4h-3.4zM242.4 187.5h3.4v3.4h-3.4zM247.9 187.5h3.4v3.4h-3.4zM253.3 187.5h3.4v3.4h-3.4zM269.8 187.5h3.4v3.4h-3.4zM275.3 187.5h3.4v3.4h-3.4zM280.8 187.5h3.4v3.4h-3.4zM286.3 187.5h3.4v3.4h-3.4zM1.0 193.0h3.4v3.4h-3.4zM6.5 193.0h3.4v3.4h-3.4zM17.5 193.0h3.4v3.4h-3.4zM23.0 193.0h3.4v3.4h-3.4zM77.8 193.0h3.4v3.4h-3.4zM83.3 193.0h3.4v3.4h-3.4zM99.8 193.0h3.4v3.4h-3.4zM127.2 193.0h3.4v3.4h-3.4zM143.6 193.0h3.4v3.4h-3.4zM149.1 193.0h3.4v3.4h-3.4zM154.6 193.0h3.4v3.4h-3.4zM160.1 193.0h3.4v3.4h-3.4zM165.6 193.0h3.4v3.4h-3.4zM171.1 193.0h3.4v3.4h-3.4zM193.0 193.0h3.4v3.4h-3.4zM198.5 193.0h3.4v3.4h-3.4zM204.0 193.0h3.4v3.4h-3.4zM215.0 193.0h3.4v3.4h-3.4zM220.4 193.0h3.4v3.4h-3.4zM242.4 193.0h3.4v3.4h-3.4zM247.9 193.0h3.4v3.4h-3.4zM264.3 193.0h3.4v3.4h-3.4zM269.8 193.0h3.4v3.4h-3.4zM6.5 198.5h3.4v3.4h-3.4zM12.0 198.5h3.4v3.4h-3.4zM17.5 198.5h3.4v3.4h-3.4zM34.0 198.5h3.4v3.4h-3.4zM61.4 198.5h3.4v3.4h-3.4zM66.9 198.5h3.4v3.4h-3.4zM77.8 198.5h3.4v3.4h-3.4zM110.7 198.5h3.4v3.4h-3.4zM138.2 198.5h3.4v3.4h-3.4zM143.6 198.5h3.4v3.4h-3.4zM154.6 198.5h3.4v3.4h-3.4zM160.1 198.5h3.4v3.4h-3.4zM176.6 198.5h3.4v3.4h-3.4zM193.0 198.5h3.4v3.4h-3.4zM198.5 198.5h3.4v3.4h-3.4zM209.5 198.5h3.4v3.4h-3.4zM215.0 198.5h3.4v3.4h-3.4zM220.4 198.5h3.4v3.4h-3.4zM225.9 198.5h3.4v3.4h-3.4zM242.4 198.5h3.4v3.4h-3.4zM258.8 198.5h3.4v3.4h-3.4zM286.3 198.5h3.4v3.4h-3.4zM1.0 204.0h3.4v3.4h-3.4zM17.5 204.0h3.4v3.4h-3.4zM23.0 204.0h3.4v3.4h-3.4zM28.5 204.0h3.4v3.4h-3.4zM50.4 204.0h3.4v3.4h-3.4zM55.9 204.0h3.4v3.4h-3.4zM66.9 204.0h3.4v3.4h-3.4zM83.3 204.0h3.4v3.4h-3.4zM88.8 204.0h3.4v3.4h-3.4zM99.8 204.0h3.4v3.4h-3.4zM110.7 204.0h3.4v3.4h-3.4zM116.2 204.0h3.4v3.4h-3.4zM121.7 204.0h3.4v3.4h-3.4zM127.2 204.0h3.4v3.4h-3.4zM138.2 204.0h3.4v3.4h-3.4zM143.6 204.0h3.4v3.4h-3.4zM154.6 204.0h3.4v3.4h-3.4zM160.1 204.0h3.4v3.4h-3.4zM165.6 204.0h3.4v3.4h-3.4zM171.1 204.0h3.4v3.4h-3.4zM176.6 204.0h3.4v3.4h-3.4zM193.0 204.0h3.4v3.4h-3.4zM215.0 204.0h3.4v3.4h-3.4zM236.9 204.0h3.4v3.4h-3.4zM242.4 204.0h3.4v3.4h-3.4zM275.3 204.0h3.4v3.4h-3.4zM280.8 204.0h3.4v3.4h-3.4zM1.0 209.5h3.4v3.4h-3.4zM17.5 209.5h3.4v3.4h-3.4zM23.0 209.5h3.4v3.4h-3.4zM28.5 209.5h3.4v3.4h-3.4zM34.0 209.5h3.4v3.4h-3.4zM39.4 209.5h3.4v3.4h-3.4zM44.9 209.5h3.4v3.4h-3.4zM50.4 209.5h3.4v3.4h-3.4zM55.9 209.5h3.4v3.4h-3.4zM72.3 209.5h3.4v3.4h-3.4zM77.8 209.5h3.4v3.4h-3.4zM83.3 209.5h3.4v3.4h-3.4zM116.2 209.5h3.4v3.4h-3.4zM132.7 209.5h3.4v3.4h-3.4zM149.1 209.5h3.4v3.4h-3.4zM154.6 209.5h3.4v3.4h-3.4zM165.6 209.5h3.4v3.4h-3.4zM176.6 209.5h3.4v3.4h-3.4zM182.0 209.5h3.4v3.4h-3.4zM193.0 209.5h3.4v3.4h-3.4zM198.5 209.5h3.4v3.4h-3.4zM204.0 209.5h3.4v3.4h-3.4zM215.0 209.5h3.4v3.4h-3.4zM236.9 209.5h3.4v3.4h-3.4zM242.4 209.5h3.4v3.4h-3.4zM247.9 209.5h3.4v3.4h-3.4zM253.3 209.5h3.4v3.4h-3.4zM264.3 209.5h3.4v3.4h-3.4zM269.8 209.5h3.4v3.4h-3.4zM280.8 209.5h3.4v3.4h-3.4zM286.3 209.5h3.4v3.4h-3.4zM17.5 215.0h3.4v3.4h-3.4zM39.4 215.0h3.4v3.4h-3.4zM44.9 215.0h3.4v3.4h-3.4zM61.4 215.0h3.4v3.4h-3.4zM72.3 215.0h3.4v3.4h-3.4zM94.3 215.0h3.4v3.4h-3.4zM99.8 215.0h3.4v3.4h-3.4zM105.3 215.0h3.4v3.4h-3.4zM110.7 215.0h3.4v3.4h-3.4zM127.2 215.0h3.4v3.4h-3.4zM138.2 215.0h3.4v3.4h-3.4zM149.1 215.0h3.4v3.4h-3.4zM154.6 215.0h3.4v3.4h-3.4zM160.1 215.0h3.4v3.4h-3.4zM171.1 215.0h3.4v3.4h-3.4zM187.5 215.0h3.4v3.4h-3.4zM193.0 215.0h3.4v3.4h-3.4zM198.5 215.0h3.4v3.4h-3.4zM215.0 215.0h3.4v3.4h-3.4zM220.4 215.0h3.4v3.4h-3.4zM231.4 215.0h3.4v3.4h-3.4zM242.4 215.0h3.4v3.4h-3.4zM247.9 215.0h3.4v3.4h-3.4zM286.3 215.0h3.4v3.4h-3.4zM1.0 220.4h3.4v3.4h-3.4zM34.0 220.4h3.4v3.4h-3.4zM39.4 220.4h3.4v3.4h-3.4zM44.9 220.4h3.4v3.4h-3.4zM55.9 220.4h3.4v3.4h-3.4zM61.4 220.4h3.4v3.4h-3.4zM72.3 220.4h3.4v3.4h-3.4zM77.8 220.4h3.4v3.4h-3.4zM88.8 220.4h3.4v3.4h-3.4zM105.3 220.4h3.4v3.4h-3.4zM110.7 220.4h3.4v3.4h-3.4zM121.7 220.4h3.4v3.4h-3.4zM127.2 220.4h3.4v3.4h-3.4zM132.7 220.4h3.4v3.4h-3.4zM149.1 220.4h3.4v3.4h-3.4zM160.1 220.4h3.4v3.4h-3.4zM171.1 220.4h3.4v3.4h-3.4zM176.6 220.4h3.4v3.4h-3.4zM193.0 220.4h3.4v3.4h-3.4zM198.5 220.4h3.4v3.4h-3.4zM204.0 220.4h3.4v3.4h-3.4zM209.5 220.4h3.4v3.4h-3.4zM220.4 220.4h3.4v3.4h-3.4zM225.9 220.4h3.4v3.4h-3.4zM253.3 220.4h3.4v3.4h-3.4zM264.3 220.4h3.4v3.4h-3.4zM286.3 220.4h3.4v3.4h-3.4zM6.5 225.9h3.4v3.4h-3.4zM12.0 225.9h3.4v3.4h-3.4zM23.0 225.9h3.4v3.4h-3.4zM28.5 225.9h3.4v3.4h-3.4zM39.4 225.9h3.4v3.4h-3.4zM83.3 225.9h3.4v3.4h-3.4zM88.8 225.9h3.4v3.4h-3.4zM94.3 225.9h3.4v3.4h-3.4zM121.7 225.9h3.4v3.4h-3.4zM127.2 225.9h3.4v3.4h-3.4zM149.1 225.9h3.4v3.4h-3.4zM154.6 225.9h3.4v3.4h-3.4zM165.6 225.9h3.4v3.4h-3.4zM171.1 225.9h3.4v3.4h-3.4zM182.0 225.9h3.4v3.4h-3.4zM187.5 225.9h3.4v3.4h-3.4zM220.4 225.9h3.4v3.4h-3.4zM242.4 225.9h3.4v3.4h-3.4zM247.9 225.9h3.4v3.4h-3.4zM253.3 225.9h3.4v3.4h-3.4zM264.3 225.9h3.4v3.4h-3.4zM269.8 225.9h3.4v3.4h-3.4zM280.8 225.9h3.4v3.4h-3.4zM286.3 225.9h3.4v3.4h-3.4zM1.0 231.4h3.4v3.4h-3.4zM6.5 231.4h3.4v3.4h-3.4zM17.5 231.4h3.4v3.4h-3.4zM23.0 231.4h3.4v3.4h-3.4zM28.5 231.4h3.4v3.4h-3.4zM34.0 231.4h3.4v3.4h-3.4zM39.4 231.4h3.4v3.4h-3.4zM44.9 231.4h3.4v3.4h-3.4zM50.4 231.4h3.4v3.4h-3.4zM61.4 231.4h3.4v3.4h-3.4zM66.9 231.4h3.4v3.4h-3.4zM77.8 231.4h3.4v3.4h-3.4zM88.8 231.4h3.4v3.4h-3.4zM94.3 231.4h3.4v3.4h-3.4zM105.3 231.4h3.4v3.4h-3.4zM116.2 231.4h3.4v3.4h-3.4zM143.6 231.4h3.4v3.4h-3.4zM154.6 231.4h3.4v3.4h-3.4zM165.6 231.4h3.4v3.4h-3.4zM176.6 231.4h3.4v3.4h-3.4zM182.0 231.4h3.4v3.4h-3.4zM198.5 231.4h3.4v3.4h-3.4zM204.0 231.4h3.4v3.4h-3.4zM215.0 231.4h3.4v3.4h-3.4zM236.9 231.4h3.4v3.4h-3.4zM253.3 231.4h3.4v3.4h-3.4zM269.8 231.4h3.4v3.4h-3.4zM280.8 231.4h3.4v3.4h-3.4zM286.3 231.4h3.4v3.4h-3.4zM6.5 236.9h3.4v3.4h-3.4zM12.0 236.9h3.4v3.4h-3.4zM44.9 236.9h3.4v3.4h-3.4zM50.4 236.9h3.4v3.4h-3.4zM66.9 236.9h3.4v3.4h-3.4zM72.3 236.9h3.4v3.4h-3.4zM77.8 236.9h3.4v3.4h-3.4zM83.3 236.9h3.4v3.4h-3.4zM88.8 236.9h3.4v3.4h-3.4zM94.3 236.9h3.4v3.4h-3.4zM105.3 236.9h3.4v3.4h-3.4zM121.7 236.9h3.4v3.4h-3.4zM127.2 236.9h3.4v3.4h-3.4zM132.7 236.9h3.4v3.4h-3.4zM138.2 236.9h3.4v3.4h-3.4zM143.6 236.9h3.4v3.4h-3.4zM149.1 236.9h3.4v3.4h-3.4zM154.6 236.9h3.4v3.4h-3.4zM160.1 236.9h3.4v3.4h-3.4zM165.6 236.9h3.4v3.4h-3.4zM171.1 236.9h3.4v3.4h-3.4zM182.0 236.9h3.4v3.4h-3.4zM187.5 236.9h3.4v3.4h-3.4zM193.0 236.9h3.4v3.4h-3.4zM198.5 236.9h3.4v3.4h-3.4zM231.4 236.9h3.4v3.4h-3.4zM242.4 236.9h3.4v3.4h-3.4zM253.3 236.9h3.4v3.4h-3.4zM264.3 236.9h3.4v3.4h-3.4zM286.3 236.9h3.4v3.4h-3.4zM17.5 242.4h3.4v3.4h-3.4zM34.0 242.4h3.4v3.4h-3.4zM39.4 242.4h3.4v3.4h-3.4zM44.9 242.4h3.4v3.4h-3.4zM50.4 242.4h3.4v3.4h-3.4zM55.9 242.4h3.4v3.4h-3.4zM61.4 242.4h3.4v3.4h-3.4zM66.9 242.4h3.4v3.4h-3.4zM72.3 242.4h3.4v3.4h-3.4zM77.8 242.4h3.4v3.4h-3.4zM83.3 242.4h3.4v3.4h-3.4zM88.8 242.4h3.4v3.4h-3.4zM94.3 242.4h3.4v3.4h-3.4zM99.8 242.4h3.4v3.4h-3.4zM105.3 242.4h3.4v3.4h-3.4zM116.2 242.4h3.4v3.4h-3.4zM132.7 242.4h3.4v3.4h-3.4zM138.2 242.4h3.4v3.4h-3.4zM143.6 242.4h3.4v3.4h-3.4zM149.1 242.4h3.4v3.4h-3.4zM154.6 242.4h3.4v3.4h-3.4zM160.1 242.4h3.4v3.4h-3.4zM171.1 242.4h3.4v3.4h-3.4zM176.6 242.4h3.4v3.4h-3.4zM182.0 242.4h3.4v3.4h-3.4zM187.5 242.4h3.4v3.4h-3.4zM193.0 242.4h3.4v3.4h-3.4zM198.5 242.4h3.4v3.4h-3.4zM204.0 242.4h3.4v3.4h-3.4zM220.4 242.4h3.4v3.4h-3.4zM242.4 242.4h3.4v3.4h-3.4zM247.9 242.4h3.4v3.4h-3.4zM253.3 242.4h3.4v3.4h-3.4zM258.8 242.4h3.4v3.4h-3.4zM264.3 242.4h3.4v3.4h-3.4zM269.8 242.4h3.4v3.4h-3.4zM280.8 242.4h3.4v3.4h-3.4zM44.9 247.9h3.4v3.4h-3.4zM55.9 247.9h3.4v3.4h-3.4zM66.9 247.9h3.4v3.4h-3.4zM72.3 247.9h3.4v3.4h-3.4zM77.8 247.9h3.4v3.4h-3.4zM94.3 247.9h3.4v3.4h-3.4zM105.3 247.9h3.4v3.4h-3.4zM110.7 247.9h3.4v3.4h-3.4zM116.2 247.9h3.4v3.4h-3.4zM121.7 247.9h3.4v3.4h-3.4zM127.2 247.9h3.4v3.4h-3.4zM132.7 247.9h3.4v3.4h-3.4zM154.6 247.9h3.4v3.4h-3.4zM160.1 247.9h3.4v3.4h-3.4zM176.6 247.9h3.4v3.4h-3.4zM182.0 247.9h3.4v3.4h-3.4zM198.5 247.9h3.4v3.4h-3.4zM204.0 247.9h3.4v3.4h-3.4zM236.9 247.9h3.4v3.4h-3.4zM242.4 247.9h3.4v3.4h-3.4zM264.3 247.9h3.4v3.4h-3.4zM275.3 247.9h3.4v3.4h-3.4zM286.3 247.9h3.4v3.4h-3.4zM50.4 253.3h3.4v3.4h-3.4zM55.9 253.3h3.4v3.4h-3.4zM61.4 253.3h3.4v3.4h-3.4zM66.9 253.3h3.4v3.4h-3.4zM72.3 253.3h3.4v3.4h-3.4zM77.8 253.3h3.4v3.4h-3.4zM83.3 253.3h3.4v3.4h-3.4zM88.8 253.3h3.4v3.4h-3.4zM99.8 253.3h3.4v3.4h-3.4zM105.3 253.3h3.4v3.4h-3.4zM110.7 253.3h3.4v3.4h-3.4zM116.2 253.3h3.4v3.4h-3.4zM127.2 253.3h3.4v3.4h-3.4zM132.7 253.3h3.4v3.4h-3.4zM143.6 253.3h3.4v3.4h-3.4zM154.6 253.3h3.4v3.4h-3.4zM160.1 253.3h3.4v3.4h-3.4zM165.6 253.3h3.4v3.4h-3.4zM176.6 253.3h3.4v3.4h-3.4zM187.5 253.3h3.4v3.4h-3.4zM198.5 253.3h3.4v3.4h-3.4zM204.0 253.3h3.4v3.4h-3.4zM220.4 253.3h3.4v3.4h-3.4zM231.4 253.3h3.4v3.4h-3.4zM242.4 253.3h3.4v3.4h-3.4zM253.3 253.3h3.4v3.4h-3.4zM264.3 253.3h3.4v3.4h-3.4zM269.8 253.3h3.4v3.4h-3.4zM275.3 253.3h3.4v3.4h-3.4zM280.8 253.3h3.4v3.4h-3.4zM286.3 253.3h3.4v3.4h-3.4zM44.9 258.8h3.4v3.4h-3.4zM55.9 258.8h3.4v3.4h-3.4zM61.4 258.8h3.4v3.4h-3.4zM66.9 258.8h3.4v3.4h-3.4zM77.8 258.8h3.4v3.4h-3.4zM83.3 258.8h3.4v3.4h-3.4zM88.8 258.8h3.4v3.4h-3.4zM116.2 258.8h3.4v3.4h-3.4zM132.7 258.8h3.4v3.4h-3.4zM154.6 258.8h3.4v3.4h-3.4zM160.1 258.8h3.4v3.4h-3.4zM176.6 258.8h3.4v3.4h-3.4zM193.0 258.8h3.4v3.4h-3.4zM198.5 258.8h3.4v3.4h-3.4zM204.0 258.8h3.4v3.4h-3.4zM209.5 258.8h3.4v3.4h-3.4zM225.9 258.8h3.4v3.4h-3.4zM231.4 258.8h3.4v3.4h-3.4zM236.9 258.8h3.4v3.4h-3.4zM242.4 258.8h3.4v3.4h-3.4zM264.3 258.8h3.4v3.4h-3.4zM44.9 264.3h3.4v3.4h-3.4zM50.4 264.3h3.4v3.4h-3.4zM55.9 264.3h3.4v3.4h-3.4zM61.4 264.3h3.4v3.4h-3.4zM66.9 264.3h3.4v3.4h-3.4zM72.3 264.3h3.4v3.4h-3.4zM77.8 264.3h3.4v3.4h-3.4zM83.3 264.3h3.4v3.4h-3.4zM94.3 264.3h3.4v3.4h-3.4zM127.2 264.3h3.4v3.4h-3.4zM132.7 264.3h3.4v3.4h-3.4zM138.2 264.3h3.4v3.4h-3.4zM143.6 264.3h3.4v3.4h-3.4zM149.1 264.3h3.4v3.4h-3.4zM154.6 264.3h3.4v3.4h-3.4zM165.6 264.3h3.4v3.4h-3.4zM171.1 264.3h3.4v3.4h-3.4zM182.0 264.3h3.4v3.4h-3.4zM193.0 264.3h3.4v3.4h-3.4zM198.5 264.3h3.4v3.4h-3.4zM204.0 264.3h3.4v3.4h-3.4zM209.5 264.3h3.4v3.4h-3.4zM215.0 264.3h3.4v3.4h-3.4zM220.4 264.3h3.4v3.4h-3.4zM242.4 264.3h3.4v3.4h-3.4zM247.9 264.3h3.4v3.4h-3.4zM253.3 264.3h3.4v3.4h-3.4zM258.8 264.3h3.4v3.4h-3.4zM264.3 264.3h3.4v3.4h-3.4zM269.8 264.3h3.4v3.4h-3.4zM275.3 264.3h3.4v3.4h-3.4zM55.9 269.8h3.4v3.4h-3.4zM72.3 269.8h3.4v3.4h-3.4zM77.8 269.8h3.4v3.4h-3.4zM83.3 269.8h3.4v3.4h-3.4zM88.8 269.8h3.4v3.4h-3.4zM99.8 269.8h3.4v3.4h-3.4zM110.7 269.8h3.4v3.4h-3.4zM127.2 269.8h3.4v3.4h-3.4zM138.2 269.8h3.4v3.4h-3.4zM143.6 269.8h3.4v3.4h-3.4zM154.6 269.8h3.4v3.4h-3.4zM160.1 269.8h3.4v3.4h-3.4zM171.1 269.8h3.4v3.4h-3.4zM176.6 269.8h3.4v3.4h-3.4zM182.0 269.8h3.4v3.4h-3.4zM193.0 269.8h3.4v3.4h-3.4zM198.5 269.8h3.4v3.4h-3.4zM236.9 269.8h3.4v3.4h-3.4zM247.9 269.8h3.4v3.4h-3.4zM258.8 269.8h3.4v3.4h-3.4zM264.3 269.8h3.4v3.4h-3.4zM44.9 275.3h3.4v3.4h-3.4zM50.4 275.3h3.4v3.4h-3.4zM55.9 275.3h3.4v3.4h-3.4zM61.4 275.3h3.4v3.4h-3.4zM83.3 275.3h3.4v3.4h-3.4zM88.8 275.3h3.4v3.4h-3.4zM116.2 275.3h3.4v3.4h-3.4zM121.7 275.3h3.4v3.4h-3.4zM138.2 275.3h3.4v3.4h-3.4zM160.1 275.3h3.4v3.4h-3.4zM171.1 275.3h3.4v3.4h-3.4zM182.0 275.3h3.4v3.4h-3.4zM198.5 275.3h3.4v3.4h-3.4zM215.0 275.3h3.4v3.4h-3.4zM220.4 275.3h3.4v3.4h-3.4zM236.9 275.3h3.4v3.4h-3.4zM258.8 275.3h3.4v3.4h-3.4zM264.3 275.3h3.4v3.4h-3.4zM269.8 275.3h3.4v3.4h-3.4zM275.3 275.3h3.4v3.4h-3.4zM280.8 275.3h3.4v3.4h-3.4zM286.3 275.3h3.4v3.4h-3.4zM66.9 280.8h3.4v3.4h-3.4zM72.3 280.8h3.4v3.4h-3.4zM77.8 280.8h3.4v3.4h-3.4zM83.3 280.8h3.4v3.4h-3.4zM99.8 280.8h3.4v3.4h-3.4zM105.3 280.8h3.4v3.4h-3.4zM143.6 280.8h3.4v3.4h-3.4zM154.6 280.8h3.4v3.4h-3.4zM160.1 280.8h3.4v3.4h-3.4zM182.0 280.8h3.4v3.4h-3.4zM187.5 280.8h3.4v3.4h-3.4zM193.0 280.8h3.4v3.4h-3.4zM209.5 280.8h3.4v3.4h-3.4zM215.0 280.8h3.4v3.4h-3.4zM220.4 280.8h3.4v3.4h-3.4zM236.9 280.8h3.4v3.4h-3.4zM242.4 280.8h3.4v3.4h-3.4zM280.8 280.8h3.4v3.4h-3.4zM55.9 286.3h3.4v3.4h-3.4zM61.4 286.3h3.4v3.4h-3.4zM66.9 286.3h3.4v3.4h-3.4zM77.8 286.3h3.4v3.4h-3.4zM83.3 286.3h3.4v3.4h-3.4zM99.8 286.3h3.4v3.4h-3.4zM105.3 286.3h3.4v3.4h-3.4zM127.2 286.3h3.4v3.4h-3.4zM132.7 286.3h3.4v3.4h-3.4zM143.6 286.3h3.4v3.4h-3.4zM160.1 286.3h3.4v3.4h-3.4zM165.6 286.3h3.4v3.4h-3.4zM176.6 286.3h3.4v3.4h-3.4zM187.5 286.3h3.4v3.4h-3.4zM193.0 286.3h3.4v3.4h-3.4zM215.0 286.3h3.4v3.4h-3.4zM220.4 286.3h3.4v3.4h-3.4zM236.9 286.3h3.4v3.4h-3.4zM258.8 286.3h3.4v3.4h-3.4zM269.8 286.3h3.4v3.4h-3.4zM280.8 286.3h3.4v3.4h-3.4zM286.3 286.3h3.4v3.4h-3.4z" fill="#000" stroke="#000" stroke-width="0.88" stroke-linejoin="round"/><rect x="2.7" y="2.7" width="32.9" height="32.9" fill="none" stroke="#000" stroke-width="5.5"/><rect x="11.0" y="11.0" width="16.5" height="16.5" fill="#000"/><rect x="255.0" y="2.7" width="32.9" height="32.9" fill="none" stroke="#000" stroke-width="5.5"/><rect x="263.3" y="11.0" width="16.5" height="16.5" fill="#000"/><rect x="2.7" y="255.0" width="32.9" height="32.9" fill="none" stroke="#000" stroke-width="5.5"/><rect x="11.0" y="263.3" width="16.5" height="16.5" fill="#000"/></svg>
<svg width="38.8" height="38.8" viewBox="0 0 24 24" style="left:2751.7px;top:1952.3px"><g fill="none" stroke="#555" stroke-width="1.25" stroke-linecap="round" stroke-linejoin="round"><path d="M10 13a5 5 0 0 0 7.54.54l3-3a5 5 0 0 0-7.07-7.07l-1.72 1.71"/><path d="M14 11a5 5 0 0 0-7.54-.54l-3 3a5 5 0 0 0 7.07 7.07l1.71-1.71"/></g></svg>
<svg width="54" height="54" viewBox="0 0 16 16" style="left:3126.5px;top:1944.5px"><path fill="#1b1f23" d="M8 0C3.58 0 0 3.58 0 8c0 3.54 2.29 6.53 5.47 7.59.4.07.55-.17.55-.38 0-.19-.01-.82-.01-1.49-2.01.37-2.53-.49-2.69-.94-.09-.23-.48-.94-.82-1.13-.28-.15-.68-.52-.01-.53.63-.01 1.08.58 1.23.82.72 1.21 1.87.87 2.33.66.07-.52.28-.87.51-1.07-1.78-.2-3.64-.89-3.64-3.95 0-.87.31-1.59.82-2.15-.08-.2-.36-1.02.08-2.12 0 0 .67-.21 2.2.82.64-.18 1.32-.27 2-.27s1.36.09 2 .27c1.53-1.04 2.2-.82 2.2-.82.44 1.1.16 1.92.08 2.12.51.56.82 1.27.82 2.15 0 3.07-1.87 3.75-3.65 3.95.29.25.54.73.54 1.48 0 1.07-.01 1.93-.01 2.2 0 .21.15.46.55.38A8.01 8.01 0 0 0 16 8c0-4.42-3.58-8-8-8z"/></svg>
<svg width="44.4" height="44.4" viewBox="0 0 24 24" style="left:3517.7px;top:1951.7px"><g fill="none" stroke="#555" stroke-width="1.2" stroke-linecap="round" stroke-linejoin="round"><path d="M10 13a5 5 0 0 0 7.54.54l3-3a5 5 0 0 0-7.07-7.07l-1.72 1.71"/><path d="M14 11a5 5 0 0 0-7.54-.54l-3 3a5 5 0 0 0 7.07 7.07l1.71-1.71"/></g></svg>
<div class="t sf" style="left:2672.4px;top:2150.7px;font-size:42.6px;">Feel free to contact me: <span style="color:#2F5597">cslinshengsheng@mail.scut.edu.cn</span></div>
</body></html>
